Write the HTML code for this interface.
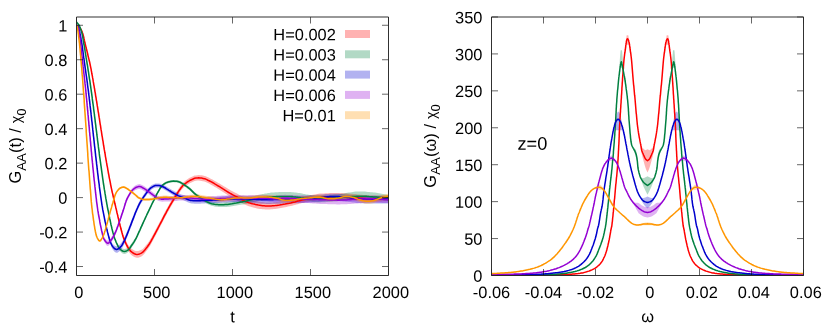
<!DOCTYPE html>
<html><head><meta charset="utf-8"><title>plot</title>
<style>html,body{margin:0;padding:0;background:#fff}svg{display:block}svg text{font-family:"Liberation Sans",sans-serif}</style></head>
<body>
<svg width="830" height="332" viewBox="0 0 830 332" font-size="16.4" fill="#000" style="will-change:transform">
<rect width="830" height="332" fill="#fff"/>
<defs><clipPath id="cl"><rect x="76.50" y="17.00" width="312.00" height="258.50"/></clipPath><clipPath id="cr"><rect x="491.50" y="17.00" width="312.00" height="258.50"/></clipPath></defs>
<g clip-path="url(#cl)">
<path d="M76.5 25.3L77.4 25.7L78.3 26.2L79.1 26.8L79.8 27.6L80.5 28.5L81.2 29.7L81.8 31.0L82.3 32.4L82.8 33.7L83.2 35.1L83.6 36.6L83.9 37.8L84.1 38.8L84.3 39.7L84.5 40.8L84.7 41.6L84.9 42.6L85.2 43.7L85.5 44.9L85.8 46.2L86.1 47.6L86.5 49.0L86.9 50.6L87.3 52.1L87.7 53.7L88.0 55.4L88.4 57.0L88.8 58.6L89.2 60.2L89.6 61.8L89.9 63.3L90.2 64.7L90.5 66.1L90.8 67.5L91.1 68.9L91.3 70.3L91.6 71.7L91.8 73.1L92.1 74.5L92.4 75.9L92.6 77.4L92.9 78.8L93.1 80.2L93.3 81.6L93.6 83.0L93.8 84.4L94.1 85.8L94.3 87.2L94.6 88.6L94.8 90.0L95.0 91.4L95.3 92.8L95.5 94.2L95.7 95.6L96.0 97.1L96.2 98.5L96.4 99.9L96.7 101.3L96.9 102.7L97.1 104.1L97.3 105.5L97.6 106.9L97.8 108.3L98.0 109.7L98.2 111.1L98.5 112.5L98.7 113.9L98.9 115.3L99.1 116.8L99.4 118.2L99.6 119.6L99.8 121.0L100.0 122.4L100.2 123.8L100.5 125.2L100.7 126.5L100.9 127.9L101.1 129.3L101.4 130.7L101.6 132.1L101.8 133.5L102.0 134.9L102.3 136.3L102.5 137.6L102.7 139.0L103.0 140.4L103.2 141.8L103.4 143.2L103.6 144.6L103.9 146.0L104.1 147.4L104.3 148.7L104.6 150.1L104.8 151.5L105.1 152.9L105.3 154.3L105.5 155.7L105.8 157.1L106.0 158.5L106.3 159.8L106.5 161.2L106.8 162.7L107.0 164.1L107.3 165.5L107.6 166.9L107.8 168.3L108.1 169.7L108.3 171.1L108.6 172.6L108.9 174.0L109.1 175.4L109.4 176.8L109.7 178.2L110.0 179.6L110.3 181.0L110.5 182.4L110.8 183.8L111.1 185.2L111.4 186.6L111.7 188.0L112.0 189.4L112.3 190.7L112.7 192.1L113.0 193.5L113.3 194.9L113.6 196.2L113.9 197.6L114.3 199.0L114.6 200.4L114.9 201.7L115.3 203.1L115.6 204.5L115.9 205.9L116.3 207.2L116.6 208.6L116.9 210.1L117.3 211.6L117.7 213.0L118.0 214.6L118.4 216.1L118.8 217.6L119.1 219.1L119.5 220.5L119.9 222.0L120.2 223.4L120.6 224.8L120.9 226.1L121.3 227.4L121.6 228.6L121.9 229.7L122.2 230.7L122.6 232.2L123.0 233.4L123.4 234.6L123.8 235.6L124.2 236.7L124.7 237.8L125.2 239.1L125.8 240.3L126.4 241.6L127.0 242.8L127.6 243.9L128.3 245.0L129.1 246.2L130.0 247.3L130.9 248.2L131.9 249.1L133.1 249.8L134.4 250.5L135.7 250.9L137.0 251.0L138.3 251.0L139.6 250.6L140.9 250.1L142.1 249.4L143.1 248.7L143.9 247.8L144.8 246.8L145.6 245.8L146.4 244.8L147.2 243.9L147.9 242.9L148.6 241.9L149.3 240.9L150.0 239.8L150.6 238.8L151.2 237.8L151.8 236.7L152.4 235.6L153.1 234.5L153.7 233.2L154.4 231.9L155.2 230.5L155.7 229.5L156.3 228.5L156.9 227.3L157.6 226.1L158.2 224.9L158.9 223.6L159.6 222.2L160.3 220.9L161.0 219.5L161.8 218.1L162.5 216.7L163.2 215.3L163.9 213.9L164.6 212.6L165.3 211.3L166.0 210.1L166.6 208.9L167.2 207.7L167.8 206.7L168.6 205.2L169.4 203.8L170.2 202.5L170.9 201.2L171.7 199.9L172.4 198.8L173.1 197.6L173.7 196.5L174.4 195.4L175.1 194.2L175.8 193.1L176.4 192.0L177.1 191.0L177.7 189.9L178.4 188.9L179.2 187.7L180.1 186.5L180.9 185.3L181.8 184.1L182.7 183.1L183.7 182.1L184.8 181.2L185.9 180.3L187.1 179.5L188.1 178.8L189.2 178.1L190.3 177.5L191.4 177.0L192.5 176.5L193.5 176.0L194.6 175.6L195.9 175.4L197.3 175.2L198.7 175.1L200.1 175.2L201.6 175.3L203.0 175.6L204.5 175.9L205.7 176.3L206.8 176.8L207.9 177.3L209.1 177.8L210.2 178.4L211.4 179.0L212.5 179.6L213.7 180.2L214.8 180.9L216.0 181.5L217.2 182.2L218.3 182.9L219.5 183.6L220.6 184.3L221.8 185.0L223.0 185.7L224.2 186.4L225.3 187.1L226.5 187.8L227.6 188.5L228.7 189.2L229.8 189.8L230.9 190.5L231.9 191.0L232.9 191.5L233.8 192.0L234.8 192.5L235.8 193.0L237.0 193.6L238.2 194.3L239.4 194.9L240.6 195.5L241.8 196.1L243.0 196.8L244.2 197.4L245.3 197.9L246.4 198.4L247.6 198.8L248.7 199.2L250.0 199.6L251.2 199.9L252.5 200.2L254.0 200.6L255.5 200.9L256.9 201.3L258.4 201.5L259.8 201.7L261.2 201.9L262.6 202.1L264.1 202.3L265.5 202.4L266.9 202.5L268.3 202.5L269.7 202.5L271.1 202.4L272.5 202.4L273.9 202.3L275.3 202.2L276.7 202.0L278.1 201.9L279.5 201.7L280.9 201.5L282.3 201.2L283.7 201.0L285.1 200.8L286.5 200.5L288.0 200.3L289.4 200.0L290.8 199.7L292.2 199.4L293.6 199.1L295.0 198.8L296.4 198.4L297.8 198.1L299.2 197.8L300.6 197.4L302.0 197.1L303.4 196.7L304.7 196.4L306.1 196.0L307.5 195.7L309.0 195.4L310.3 195.1L311.6 194.9L313.0 194.7L314.4 194.4L315.8 194.2L317.2 194.0L318.6 193.8L320.0 193.6L321.3 193.5L322.6 193.5L323.9 193.4L325.3 193.3L326.6 193.2L327.9 193.2L329.3 193.1L330.6 193.1L332.0 193.0L333.4 193.0L334.9 193.0L336.3 193.0L337.7 193.0L339.2 193.1L340.6 193.1L342.1 193.1L343.6 193.2L345.0 193.2L346.4 193.3L347.9 193.4L349.4 193.5L350.8 193.7L352.3 193.8L353.7 194.0L355.1 194.1L356.6 194.3L358.0 194.4L359.3 194.5L360.6 194.7L361.9 194.8L363.2 194.9L364.5 195.0L365.8 195.1L367.2 195.2L368.6 195.3L370.0 195.4L371.3 195.4L372.6 195.4L374.0 195.4L375.4 195.4L376.8 195.4L378.3 195.4L379.7 195.4L381.2 195.4L382.7 195.3L384.1 195.3L385.6 195.3L387.1 195.3L388.5 195.2L388.5 201.2L387.1 201.3L385.6 201.3L384.1 201.3L382.7 201.3L381.2 201.4L379.7 201.4L378.3 201.4L376.8 201.4L375.4 201.4L374.0 201.4L372.6 201.4L371.3 201.4L370.0 201.4L368.6 201.3L367.2 201.2L365.8 201.1L364.5 201.0L363.2 200.9L361.9 200.8L360.6 200.7L359.3 200.5L358.0 200.4L356.6 200.3L355.1 200.1L353.7 200.0L352.3 199.8L350.8 199.7L349.4 199.5L347.9 199.4L346.4 199.3L345.0 199.2L343.6 199.2L342.1 199.1L340.6 199.1L339.2 199.1L337.7 199.0L336.3 199.0L334.9 199.0L333.4 199.0L332.0 199.0L330.6 199.1L329.3 199.1L327.9 199.2L326.6 199.2L325.3 199.3L323.9 199.4L322.6 199.5L321.3 199.5L320.0 199.6L318.6 199.8L317.2 200.0L315.8 200.2L314.4 200.4L313.0 200.7L311.6 200.9L310.3 201.1L309.0 201.4L307.5 201.7L306.1 202.0L304.7 202.4L303.4 202.7L302.0 203.1L300.6 203.4L299.2 203.8L297.8 204.2L296.4 204.6L295.0 204.9L293.6 205.3L292.2 205.7L290.8 206.0L289.4 206.3L288.0 206.6L286.5 206.9L285.1 207.2L283.7 207.5L282.3 207.8L280.9 208.0L279.5 208.3L278.1 208.5L276.7 208.7L275.3 208.9L273.9 209.1L272.5 209.2L271.1 209.3L269.7 209.4L268.3 209.4L266.9 209.4L265.5 209.4L264.1 209.3L262.6 209.2L261.2 209.1L259.8 208.9L258.4 208.7L256.9 208.4L255.5 208.0L254.0 207.7L252.5 207.3L251.2 206.9L250.0 206.6L248.7 206.2L247.6 205.8L246.4 205.3L245.3 204.8L244.2 204.2L243.0 203.6L241.8 203.0L240.6 202.4L239.4 201.7L238.2 201.1L237.0 200.4L235.8 199.8L234.8 199.2L233.8 198.7L232.9 198.2L231.9 197.7L230.9 197.1L229.8 196.4L228.7 195.7L227.6 195.0L226.5 194.3L225.3 193.6L224.2 192.8L223.0 192.0L221.8 191.3L220.6 190.5L219.5 189.8L218.3 189.0L217.2 188.3L216.0 187.6L214.8 186.9L213.7 186.2L212.5 185.5L211.4 184.9L210.2 184.2L209.1 183.6L207.9 183.0L206.8 182.5L205.7 182.0L204.5 181.6L203.0 181.2L201.6 180.9L200.1 180.7L198.7 180.6L197.3 180.6L195.9 180.8L194.6 181.1L193.5 181.4L192.5 181.9L191.4 182.4L190.3 183.0L189.2 183.6L188.1 184.3L187.1 185.0L185.9 185.8L184.8 186.6L183.7 187.6L182.7 188.6L181.8 189.6L180.9 190.8L180.1 192.0L179.2 193.2L178.4 194.4L177.7 195.4L177.1 196.5L176.4 197.5L175.8 198.6L175.1 199.7L174.4 200.9L173.7 202.0L173.1 203.1L172.4 204.3L171.7 205.5L170.9 206.7L170.2 208.0L169.4 209.4L168.6 210.8L167.8 212.2L167.2 213.3L166.6 214.4L166.0 215.6L165.3 216.9L164.6 218.2L163.9 219.5L163.2 220.9L162.5 222.3L161.8 223.7L161.0 225.1L160.3 226.5L159.6 227.8L158.9 229.2L158.2 230.5L157.6 231.8L156.9 233.1L156.3 234.2L155.7 235.3L155.2 236.4L154.4 237.8L153.7 239.1L153.1 240.4L152.4 241.6L151.8 242.8L151.2 243.8L150.6 244.9L150.0 245.9L149.3 247.1L148.6 248.1L147.9 249.1L147.2 250.1L146.4 251.1L145.6 252.1L144.8 253.2L143.9 254.2L143.1 255.1L142.1 255.9L140.9 256.7L139.6 257.3L138.3 257.7L137.0 257.8L135.7 257.6L134.4 257.0L133.1 256.3L131.9 255.4L130.9 254.5L130.0 253.4L129.1 252.2L128.3 250.9L127.6 249.8L127.0 248.6L126.4 247.4L125.8 246.1L125.2 244.7L124.7 243.5L124.2 242.3L123.8 241.2L123.4 240.1L123.0 238.9L122.6 237.6L122.2 236.2L121.9 235.1L121.6 234.0L121.3 232.7L120.9 231.4L120.6 230.1L120.2 228.6L119.9 227.2L119.5 225.6L119.1 224.1L118.8 222.5L118.4 220.9L118.0 219.3L117.7 217.8L117.3 216.2L116.9 214.6L116.6 213.1L116.3 211.7L115.9 210.2L115.6 208.8L115.3 207.3L114.9 205.9L114.6 204.4L114.3 203.0L113.9 201.6L113.6 200.1L113.3 198.7L113.0 197.2L112.7 195.8L112.3 194.3L112.0 192.9L111.7 191.4L111.4 190.0L111.1 188.5L110.8 187.1L110.5 185.6L110.3 184.2L110.0 182.7L109.7 181.2L109.4 179.8L109.1 178.3L108.9 176.8L108.6 175.4L108.3 173.9L108.1 172.4L107.8 170.9L107.6 169.5L107.3 168.0L107.0 166.5L106.8 165.1L106.5 163.6L106.3 162.2L106.0 160.7L105.8 159.3L105.5 157.8L105.3 156.4L105.1 155.0L104.8 153.5L104.6 152.1L104.3 150.7L104.1 149.2L103.9 147.8L103.6 146.3L103.4 144.9L103.2 143.5L103.0 142.0L102.7 140.6L102.5 139.2L102.3 137.7L102.0 136.3L101.8 134.9L101.6 133.4L101.4 132.0L101.1 130.6L100.9 129.1L100.7 127.7L100.5 126.3L100.2 124.8L100.0 123.4L99.8 122.0L99.6 120.5L99.4 119.1L99.1 117.7L98.9 116.3L98.7 114.9L98.5 113.5L98.2 112.1L98.0 110.6L97.8 109.2L97.6 107.8L97.3 106.4L97.1 105.0L96.9 103.5L96.7 102.1L96.4 100.7L96.2 99.3L96.0 97.9L95.7 96.5L95.5 95.0L95.3 93.6L95.0 92.2L94.8 90.8L94.6 89.4L94.3 88.0L94.1 86.5L93.8 85.1L93.6 83.7L93.3 82.3L93.1 80.9L92.9 79.5L92.6 78.0L92.4 76.6L92.1 75.2L91.8 73.8L91.6 72.4L91.3 71.0L91.1 69.5L90.8 68.1L90.5 66.7L90.2 65.3L89.9 63.8L89.6 62.3L89.2 60.7L88.8 59.1L88.4 57.5L88.0 55.8L87.7 54.2L87.3 52.6L86.9 51.0L86.5 49.5L86.1 48.0L85.8 46.6L85.5 45.3L85.2 44.0L84.9 43.0L84.7 42.0L84.5 41.2L84.3 40.0L84.1 39.1L83.9 38.2L83.6 36.9L83.2 35.4L82.8 34.0L82.3 32.6L81.8 31.2L81.2 29.9L80.5 28.7L79.8 27.7L79.1 26.9L78.3 26.2L77.4 25.7L76.5 25.3Z" fill="#ff0000" fill-opacity="0.3"/>
<path d="M76.5 22.0L77.3 22.9L78.1 23.8L78.9 24.9L79.5 26.0L80.0 27.3L80.5 28.6L81.0 29.9L81.4 31.1L81.8 32.4L82.1 33.6L82.4 34.9L82.7 36.3L82.9 37.6L83.1 39.0L83.4 40.8L83.6 41.8L83.7 42.9L83.9 44.0L84.2 45.3L84.4 46.6L84.6 48.0L84.9 49.5L85.1 51.0L85.4 52.5L85.6 54.0L85.9 55.6L86.1 57.2L86.4 58.7L86.6 60.3L86.9 61.8L87.1 63.2L87.4 64.7L87.6 66.1L87.8 67.5L88.0 68.9L88.2 70.3L88.5 71.7L88.7 73.1L88.9 74.5L89.1 75.9L89.3 77.3L89.5 78.7L89.8 80.1L90.0 81.5L90.2 82.9L90.4 84.3L90.6 85.8L90.8 87.2L91.0 88.6L91.2 90.0L91.4 91.4L91.6 92.8L91.8 94.2L92.0 95.6L92.2 97.0L92.3 98.4L92.5 99.8L92.7 101.2L92.9 102.6L93.1 104.0L93.3 105.4L93.5 106.8L93.6 108.3L93.8 109.7L94.0 111.1L94.2 112.5L94.4 113.9L94.5 115.3L94.7 116.7L94.9 118.1L95.1 119.5L95.2 120.9L95.4 122.3L95.6 123.7L95.8 125.1L95.9 126.5L96.1 127.9L96.3 129.4L96.5 130.8L96.7 132.2L96.8 133.6L97.0 135.0L97.2 136.4L97.4 137.8L97.5 139.2L97.7 140.6L97.9 142.0L98.1 143.4L98.3 144.8L98.4 146.2L98.6 147.6L98.8 149.0L99.0 150.4L99.2 151.8L99.3 153.2L99.5 154.7L99.7 156.1L99.9 157.5L100.1 158.9L100.3 160.3L100.5 161.7L100.7 163.1L100.9 164.6L101.1 166.0L101.3 167.4L101.5 168.9L101.7 170.3L101.9 171.8L102.1 173.2L102.3 174.6L102.5 176.1L102.7 177.5L102.9 178.9L103.1 180.4L103.3 181.8L103.5 183.2L103.8 184.6L104.0 186.0L104.2 187.5L104.4 188.9L104.7 190.3L104.9 191.7L105.1 193.1L105.4 194.5L105.6 195.9L105.8 197.3L106.1 198.7L106.3 200.1L106.6 201.5L106.8 202.9L107.1 204.3L107.3 205.7L107.6 207.1L107.9 208.5L108.2 209.9L108.5 211.4L108.8 212.9L109.1 214.5L109.4 216.0L109.7 217.6L110.1 219.1L110.4 220.6L110.7 222.1L111.0 223.5L111.4 225.0L111.7 226.3L112.0 227.6L112.3 228.9L112.6 230.0L112.9 231.1L113.2 232.1L113.6 233.6L114.0 234.9L114.4 236.1L114.8 237.2L115.3 238.3L115.8 239.6L116.4 240.9L117.0 242.2L117.6 243.4L118.2 244.5L118.9 245.5L119.6 246.4L120.3 247.1L121.1 247.8L122.1 248.4L123.2 248.8L124.3 249.0L125.7 248.8L127.0 248.2L128.3 247.4L129.3 246.5L130.2 245.3L131.0 244.1L131.9 242.9L132.7 241.8L133.4 240.7L134.2 239.6L134.9 238.4L135.6 237.3L136.2 236.1L136.7 235.0L137.3 233.9L137.8 232.8L138.3 231.6L138.8 230.6L139.3 229.5L139.8 228.5L140.3 227.4L140.8 226.2L141.3 225.1L141.9 224.0L142.4 222.8L143.0 221.5L143.6 220.2L144.2 218.9L144.8 217.7L145.4 216.4L145.9 215.3L146.5 214.0L147.0 212.9L147.6 211.7L148.1 210.6L148.7 209.4L149.3 208.1L149.9 207.0L150.5 205.7L151.1 204.4L151.7 203.1L152.4 201.8L153.0 200.5L153.7 199.2L154.3 198.0L154.8 196.9L155.4 195.6L156.0 194.5L156.5 193.3L157.1 192.2L157.7 191.1L158.4 189.9L159.1 188.7L159.8 187.5L160.5 186.4L161.3 185.4L162.1 184.4L163.0 183.6L163.9 182.9L164.9 182.2L165.9 181.6L167.0 181.2L168.2 180.8L169.3 180.5L170.7 180.1L172.1 180.0L173.6 179.9L175.0 179.9L176.5 180.0L178.0 180.3L179.4 180.7L180.5 181.1L181.7 181.7L182.8 182.4L183.9 183.1L185.0 183.8L186.1 184.6L187.3 185.4L188.4 186.3L189.5 187.1L190.6 188.0L191.6 189.0L192.6 190.0L193.6 191.0L194.7 191.9L195.6 192.7L196.6 193.4L197.6 194.1L198.6 194.7L199.6 195.4L200.8 196.2L202.0 197.0L203.3 197.7L204.5 198.4L205.6 199.1L206.7 199.7L207.9 200.2L209.0 200.8L210.2 201.2L211.6 201.6L213.1 201.9L214.5 202.1L216.0 202.3L217.3 202.4L218.6 202.5L219.9 202.5L221.2 202.5L222.5 202.4L223.8 202.3L225.1 202.2L226.4 202.1L227.7 202.0L229.0 201.8L230.5 201.5L231.9 201.3L233.4 201.0L234.8 200.7L236.3 200.4L237.7 200.1L239.1 199.8L240.6 199.5L242.1 199.2L243.6 198.9L245.1 198.6L246.4 198.3L247.6 197.9L248.8 197.5L250.0 197.1L251.1 196.8L252.3 196.5L253.5 196.3L254.7 196.0L256.0 195.6L257.2 195.3L258.4 195.0L259.7 194.7L260.9 194.4L262.3 194.1L263.6 193.9L265.0 193.6L266.5 193.4L268.0 193.1L269.5 192.9L271.0 192.6L272.5 192.5L274.0 192.4L275.3 192.3L276.6 192.2L277.9 192.2L279.2 192.1L280.4 192.1L281.7 192.1L283.0 192.0L284.3 192.0L285.6 192.0L286.9 192.0L288.1 192.0L289.4 192.1L290.7 192.1L292.0 192.2L293.3 192.3L294.6 192.4L295.9 192.6L297.1 192.8L298.4 192.9L299.7 193.1L301.0 193.3L302.3 193.6L303.6 193.9L304.8 194.1L306.1 194.4L307.4 194.6L308.7 194.8L310.0 195.1L311.4 195.3L312.8 195.5L314.1 195.6L315.5 195.7L317.0 195.8L318.5 195.8L320.0 195.7L321.3 195.7L322.5 195.6L323.9 195.6L325.2 195.5L326.6 195.4L328.0 195.2L329.4 195.1L330.8 195.0L332.2 194.9L333.6 194.8L335.0 194.6L336.4 194.5L337.8 194.4L339.1 194.3L340.5 194.1L341.9 193.8L343.3 193.6L344.7 193.3L346.0 193.1L347.4 192.8L348.7 192.6L350.0 192.4L351.4 192.2L352.7 192.0L354.1 191.8L355.4 191.6L356.7 191.6L358.0 191.5L359.3 191.5L360.7 191.5L362.0 191.5L363.4 191.6L364.8 191.6L366.3 191.7L367.7 191.9L369.2 192.0L370.6 192.2L372.1 192.3L373.5 192.4L375.0 192.6L376.3 192.8L377.7 193.0L379.0 193.3L380.4 193.5L381.7 193.8L383.1 194.0L384.4 194.2L385.8 194.5L387.1 194.7L388.5 194.9L388.5 200.9L387.1 200.7L385.8 200.5L384.4 200.3L383.1 200.1L381.7 199.9L380.4 199.7L379.0 199.5L377.7 199.3L376.3 199.1L375.0 198.9L373.5 198.8L372.1 198.7L370.6 198.6L369.2 198.5L367.7 198.4L366.3 198.3L364.8 198.3L363.4 198.2L362.0 198.2L360.7 198.2L359.3 198.3L358.0 198.3L356.7 198.4L355.4 198.5L354.1 198.7L352.7 198.9L351.4 199.1L350.0 199.4L348.7 199.6L347.4 199.8L346.0 200.0L344.7 200.2L343.3 200.5L341.9 200.7L340.5 201.0L339.1 201.1L337.8 201.2L336.4 201.4L335.0 201.5L333.6 201.6L332.2 201.7L330.8 201.8L329.4 201.9L328.0 202.0L326.6 202.1L325.2 202.2L323.9 202.2L322.5 202.3L321.3 202.3L320.0 202.4L318.5 202.4L317.0 202.4L315.5 202.3L314.1 202.2L312.8 202.0L311.4 201.8L310.0 201.6L308.7 201.3L307.4 201.1L306.1 200.8L304.8 200.6L303.6 200.3L302.3 200.0L301.0 199.7L299.7 199.5L298.4 199.3L297.1 199.1L295.9 198.9L294.6 198.8L293.3 198.6L292.0 198.5L290.7 198.4L289.4 198.4L288.1 198.3L286.9 198.3L285.6 198.3L284.3 198.3L283.0 198.3L281.7 198.3L280.4 198.3L279.2 198.3L277.9 198.4L276.6 198.4L275.3 198.5L274.0 198.5L272.5 198.6L271.0 198.8L269.5 199.0L268.0 199.2L266.5 199.4L265.0 199.7L263.6 199.9L262.3 200.2L260.9 200.4L259.7 200.7L258.4 201.0L257.2 201.2L256.0 201.5L254.7 201.8L253.5 202.0L252.3 202.3L251.1 202.5L250.0 202.8L248.8 203.1L247.6 203.5L246.4 203.9L245.1 204.1L243.6 204.4L242.1 204.6L240.6 204.8L239.1 205.1L237.7 205.3L236.3 205.6L234.8 205.8L233.4 206.1L231.9 206.3L230.5 206.5L229.0 206.7L227.7 206.8L226.4 207.0L225.1 207.0L223.8 207.1L222.5 207.1L221.2 207.1L219.9 207.0L218.6 207.0L217.3 206.8L216.0 206.7L214.5 206.4L213.1 206.1L211.6 205.8L210.2 205.3L209.0 204.8L207.9 204.2L206.7 203.6L205.6 202.9L204.5 202.3L203.3 201.5L202.0 200.7L200.8 199.8L199.6 199.0L198.6 198.3L197.6 197.6L196.6 196.8L195.6 196.1L194.7 195.3L193.6 194.3L192.6 193.3L191.6 192.2L190.6 191.2L189.5 190.3L188.4 189.3L187.3 188.4L186.1 187.6L185.0 186.7L183.9 186.0L182.8 185.2L181.7 184.5L180.5 183.9L179.4 183.3L178.0 182.9L176.5 182.6L175.0 182.4L173.6 182.3L172.1 182.4L170.7 182.6L169.3 182.9L168.2 183.3L167.0 183.7L165.9 184.2L164.9 184.8L163.9 185.5L163.0 186.2L162.1 187.1L161.3 188.0L160.5 189.1L159.8 190.2L159.1 191.4L158.4 192.7L157.7 193.9L157.1 195.0L156.5 196.1L156.0 197.2L155.4 198.4L154.8 199.7L154.3 200.8L153.7 202.0L153.0 203.3L152.4 204.6L151.7 206.0L151.1 207.3L150.5 208.6L149.9 209.9L149.3 211.1L148.7 212.3L148.1 213.5L147.6 214.7L147.0 215.8L146.5 217.0L145.9 218.3L145.4 219.4L144.8 220.7L144.2 222.0L143.6 223.3L143.0 224.7L142.4 226.0L141.9 227.3L141.3 228.5L140.8 229.6L140.3 230.9L139.8 232.0L139.3 233.1L138.8 234.2L138.3 235.3L137.8 236.5L137.3 237.7L136.7 238.9L136.2 240.1L135.6 241.2L134.9 242.5L134.2 243.7L133.4 244.9L132.7 246.1L131.9 247.2L131.0 248.6L130.2 249.9L129.3 251.1L128.3 252.1L127.0 253.1L125.7 253.8L124.3 254.1L123.2 253.8L122.1 253.2L121.1 252.3L120.3 251.5L119.6 250.6L118.9 249.5L118.2 248.4L117.6 247.2L117.0 245.8L116.4 244.4L115.8 243.0L115.3 241.6L114.8 240.3L114.4 239.1L114.0 237.8L113.6 236.4L113.2 234.8L112.9 233.8L112.6 232.6L112.3 231.4L112.0 230.1L111.7 228.7L111.4 227.3L111.0 225.8L110.7 224.3L110.4 222.7L110.1 221.1L109.7 219.5L109.4 218.0L109.1 216.4L108.8 214.9L108.5 213.3L108.2 211.8L107.9 210.4L107.6 209.0L107.3 207.6L107.1 206.1L106.8 204.7L106.6 203.3L106.3 201.9L106.1 200.5L105.8 199.1L105.6 197.6L105.4 196.2L105.1 194.8L104.9 193.4L104.7 192.0L104.4 190.5L104.2 189.1L104.0 187.7L103.8 186.3L103.5 184.8L103.3 183.4L103.1 181.9L102.9 180.5L102.7 179.1L102.5 177.6L102.3 176.2L102.1 174.7L101.9 173.3L101.7 171.8L101.5 170.4L101.3 168.9L101.1 167.5L100.9 166.0L100.7 164.6L100.5 163.1L100.3 161.7L100.1 160.3L99.9 158.9L99.7 157.4L99.5 156.0L99.3 154.6L99.2 153.2L99.0 151.8L98.8 150.4L98.6 148.9L98.4 147.5L98.3 146.1L98.1 144.7L97.9 143.3L97.7 141.9L97.5 140.5L97.4 139.0L97.2 137.6L97.0 136.2L96.8 134.8L96.7 133.4L96.5 131.9L96.3 130.5L96.1 129.1L95.9 127.7L95.8 126.3L95.6 124.9L95.4 123.4L95.2 122.0L95.1 120.6L94.9 119.2L94.7 117.8L94.5 116.4L94.4 114.9L94.2 113.5L94.0 112.1L93.8 110.7L93.6 109.3L93.5 107.9L93.3 106.4L93.1 105.0L92.9 103.6L92.7 102.2L92.5 100.8L92.3 99.4L92.2 97.9L92.0 96.5L91.8 95.1L91.6 93.7L91.4 92.3L91.2 90.8L91.0 89.4L90.8 88.0L90.6 86.6L90.4 85.2L90.2 83.8L90.0 82.3L89.8 80.9L89.5 79.5L89.3 78.1L89.1 76.7L88.9 75.2L88.7 73.8L88.5 72.4L88.2 71.0L88.0 69.6L87.8 68.2L87.6 66.7L87.4 65.3L87.1 63.9L86.9 62.4L86.6 60.9L86.4 59.3L86.1 57.7L85.9 56.2L85.6 54.6L85.4 53.0L85.1 51.5L84.9 50.0L84.6 48.5L84.4 47.1L84.2 45.8L83.9 44.5L83.7 43.3L83.6 42.2L83.4 41.2L83.1 39.4L82.9 38.0L82.7 36.6L82.4 35.3L82.1 34.0L81.8 32.7L81.4 31.4L81.0 30.1L80.5 28.8L80.0 27.5L79.5 26.2L78.9 25.0L78.1 23.9L77.3 23.0L76.5 22.0Z" fill="#008040" fill-opacity="0.3"/>
<path d="M76.5 25.3L77.3 25.9L78.0 26.7L78.4 27.6L78.8 28.7L79.2 29.9L79.5 31.1L79.8 32.2L80.0 33.3L80.3 34.5L80.5 35.6L80.7 36.8L80.9 38.0L81.1 39.2L81.4 40.8L81.5 41.7L81.7 42.8L81.9 44.0L82.1 45.2L82.3 46.5L82.5 47.9L82.7 49.4L82.9 50.9L83.1 52.4L83.3 54.0L83.5 55.5L83.7 57.1L84.0 58.7L84.2 60.2L84.4 61.7L84.6 63.2L84.8 64.6L85.0 66.0L85.2 67.5L85.4 68.9L85.6 70.3L85.8 71.7L86.0 73.1L86.2 74.5L86.4 75.9L86.6 77.3L86.8 78.7L87.0 80.1L87.2 81.5L87.4 82.9L87.5 84.3L87.7 85.7L87.9 87.1L88.1 88.5L88.3 89.9L88.5 91.3L88.6 92.7L88.8 94.1L89.0 95.5L89.2 96.9L89.3 98.3L89.5 99.7L89.7 101.1L89.8 102.5L90.0 104.0L90.1 105.4L90.3 106.8L90.5 108.2L90.6 109.6L90.8 111.0L91.0 112.4L91.1 113.8L91.3 115.2L91.4 116.6L91.6 118.0L91.7 119.4L91.9 120.8L92.1 122.2L92.2 123.6L92.4 125.0L92.5 126.4L92.7 127.8L92.8 129.2L93.0 130.7L93.1 132.1L93.3 133.5L93.4 134.9L93.6 136.3L93.8 137.7L93.9 139.1L94.1 140.5L94.2 141.9L94.4 143.3L94.5 144.7L94.7 146.1L94.9 147.5L95.0 148.9L95.2 150.3L95.3 151.7L95.5 153.1L95.6 154.5L95.8 155.9L96.0 157.3L96.1 158.7L96.3 160.2L96.5 161.6L96.6 163.0L96.8 164.4L97.0 165.9L97.1 167.3L97.3 168.7L97.5 170.2L97.6 171.6L97.8 173.0L98.0 174.5L98.2 175.9L98.3 177.3L98.5 178.8L98.7 180.2L98.9 181.6L99.1 183.1L99.3 184.5L99.4 185.9L99.6 187.3L99.8 188.7L100.0 190.1L100.2 191.5L100.4 192.9L100.6 194.3L100.8 195.7L101.0 197.0L101.2 198.4L101.4 199.8L101.6 201.2L101.8 202.6L102.0 203.9L102.3 205.3L102.5 206.7L102.7 208.1L103.0 209.5L103.3 210.9L103.6 212.4L103.9 213.8L104.2 215.3L104.5 216.8L104.8 218.3L105.1 219.8L105.5 221.2L105.8 222.7L106.1 224.1L106.4 225.4L106.7 226.7L107.1 228.0L107.3 229.2L107.6 230.3L107.9 231.3L108.3 232.9L108.7 234.3L109.0 235.5L109.4 236.7L109.8 237.9L110.2 239.0L110.7 240.2L111.3 241.4L111.8 242.5L112.4 243.5L113.1 244.3L114.1 245.2L115.2 246.0L116.4 246.2L117.4 245.9L118.4 245.4L119.5 244.7L120.4 243.9L121.2 243.0L122.0 241.9L122.7 240.8L123.3 239.6L124.0 238.3L124.6 237.2L125.1 236.0L125.7 234.8L126.2 233.5L126.8 232.0L127.5 230.5L127.9 229.4L128.3 228.3L128.8 227.1L129.3 225.8L129.8 224.4L130.4 223.0L131.0 221.6L131.5 220.1L132.1 218.6L132.7 217.1L133.3 215.6L133.8 214.2L134.4 212.8L134.9 211.4L135.4 210.1L135.9 208.9L136.4 207.8L136.8 206.8L137.5 205.4L138.1 204.0L138.7 202.8L139.3 201.7L139.8 200.6L140.4 199.6L141.0 198.6L141.6 197.7L142.2 196.8L142.8 195.8L143.5 194.7L144.3 193.6L145.2 192.4L146.0 191.3L146.8 190.2L147.7 189.0L148.6 187.9L149.5 186.9L150.5 186.0L151.7 185.1L152.9 184.4L154.1 183.9L155.3 183.6L156.4 183.4L157.7 183.4L158.9 183.5L160.2 183.8L161.5 184.1L162.8 184.6L164.0 185.2L165.3 185.8L166.5 186.6L167.8 187.4L168.9 188.0L170.1 188.8L171.3 189.5L172.4 190.2L173.6 190.8L174.7 191.4L175.9 192.0L177.1 192.6L178.2 193.1L179.4 193.6L180.8 194.2L182.2 194.7L183.6 195.1L185.0 195.6L186.3 196.2L187.7 196.8L189.1 197.3L190.6 197.7L191.9 197.9L193.3 197.9L194.7 197.9L196.1 197.9L197.5 197.9L198.9 197.8L200.2 197.7L201.6 197.5L203.0 197.4L204.5 197.3L205.9 197.3L207.4 197.2L208.9 197.2L210.4 197.1L211.9 197.1L213.5 197.0L215.0 197.0L216.3 196.9L217.7 196.8L219.0 196.7L220.3 196.5L221.6 196.4L223.0 196.3L224.5 196.2L226.0 196.1L227.3 196.0L228.6 196.0L230.0 195.9L231.4 195.9L232.9 195.8L234.4 195.8L235.9 195.8L237.4 195.7L238.9 195.7L240.5 195.7L242.0 195.8L243.5 195.8L245.0 195.9L246.4 195.9L247.8 196.0L249.3 196.1L250.7 196.2L252.1 196.3L253.5 196.5L255.0 196.6L256.4 196.7L257.8 196.8L259.3 196.9L260.7 197.0L262.1 197.0L263.6 197.1L265.0 197.1L266.4 197.1L267.9 197.0L269.3 197.0L270.7 197.0L272.1 197.0L273.6 196.9L275.0 196.9L276.4 196.8L277.9 196.8L279.3 196.7L280.7 196.7L282.1 196.6L283.6 196.6L285.0 196.5L286.4 196.5L287.9 196.4L289.3 196.4L290.8 196.3L292.3 196.3L293.7 196.2L295.2 196.1L296.6 196.1L298.1 196.0L299.5 195.9L300.9 195.9L302.3 195.8L303.7 195.7L305.0 195.7L306.4 195.6L307.9 195.5L309.3 195.4L310.7 195.3L312.0 195.2L313.4 195.1L314.7 195.0L316.0 194.9L317.4 194.8L318.7 194.7L320.0 194.7L321.5 194.5L323.0 194.4L324.4 194.3L325.8 194.1L327.3 194.0L328.7 193.9L330.1 193.8L331.6 193.7L333.0 193.7L334.4 193.7L335.9 193.7L337.4 193.8L338.8 193.8L340.3 194.0L341.7 194.1L343.1 194.2L344.6 194.3L346.0 194.5L347.4 194.6L348.7 194.7L350.0 194.9L351.4 195.1L352.7 195.3L354.0 195.4L355.3 195.6L356.7 195.7L358.0 195.8L359.3 195.9L360.6 196.0L361.9 196.1L363.2 196.1L364.5 196.2L365.8 196.2L367.2 196.2L368.6 196.2L370.0 196.2L371.3 196.3L372.6 196.3L374.0 196.3L375.4 196.3L376.8 196.3L378.3 196.3L379.7 196.3L381.2 196.3L382.7 196.3L384.1 196.3L385.6 196.3L387.1 196.3L388.5 196.2L388.5 203.4L387.1 203.5L385.6 203.5L384.1 203.5L382.7 203.5L381.2 203.5L379.7 203.5L378.3 203.5L376.8 203.5L375.4 203.5L374.0 203.5L372.6 203.5L371.3 203.5L370.0 203.4L368.6 203.4L367.2 203.4L365.8 203.4L364.5 203.4L363.2 203.3L361.9 203.3L360.6 203.2L359.3 203.1L358.0 203.0L356.7 202.9L355.3 202.8L354.0 202.6L352.7 202.5L351.4 202.3L350.0 202.1L348.7 201.9L347.4 201.8L346.0 201.7L344.6 201.5L343.1 201.4L341.7 201.3L340.3 201.2L338.8 201.0L337.4 201.0L335.9 200.9L334.4 200.9L333.0 200.8L331.6 200.9L330.1 201.0L328.7 201.1L327.3 201.2L325.8 201.3L324.4 201.5L323.0 201.6L321.5 201.7L320.0 201.8L318.7 201.9L317.4 202.0L316.0 202.1L314.7 202.2L313.4 202.3L312.0 202.4L310.7 202.5L309.3 202.6L307.9 202.7L306.4 202.8L305.0 202.8L303.7 202.9L302.3 203.0L300.9 203.1L299.5 203.1L298.1 203.2L296.6 203.2L295.2 203.3L293.7 203.3L292.3 203.4L290.8 203.4L289.3 203.4L287.9 203.5L286.4 203.5L285.0 203.6L283.6 203.6L282.1 203.6L280.7 203.7L279.3 203.7L277.9 203.7L276.4 203.8L275.0 203.8L273.6 203.8L272.1 203.8L270.7 203.9L269.3 203.9L267.9 203.9L266.4 203.9L265.0 203.8L263.6 203.8L262.1 203.8L260.7 203.7L259.3 203.6L257.8 203.5L256.4 203.4L255.0 203.2L253.5 203.1L252.1 203.0L250.7 202.8L249.3 202.7L247.8 202.6L246.4 202.5L245.0 202.4L243.5 202.3L242.0 202.3L240.5 202.2L238.9 202.2L237.4 202.2L235.9 202.2L234.4 202.2L232.9 202.2L231.4 202.3L230.0 202.3L228.6 202.3L227.3 202.4L226.0 202.4L224.5 202.5L223.0 202.6L221.6 202.7L220.3 202.8L219.0 202.9L217.7 203.0L216.3 203.1L215.0 203.1L213.5 203.2L211.9 203.2L210.4 203.3L208.9 203.3L207.4 203.3L205.9 203.3L204.5 203.4L203.0 203.5L201.6 203.6L200.2 203.7L198.9 203.7L197.5 203.7L196.1 203.7L194.7 203.7L193.3 203.6L191.9 203.4L190.6 203.2L189.1 202.7L187.7 202.2L186.3 201.5L185.0 200.9L183.6 200.3L182.2 199.8L180.8 199.2L179.4 198.6L178.2 198.0L177.1 197.5L175.9 196.8L174.7 196.2L173.6 195.6L172.4 194.8L171.3 194.1L170.1 193.3L168.9 192.6L167.8 191.8L166.5 191.0L165.3 190.2L164.0 189.5L162.8 188.8L161.5 188.3L160.2 187.9L158.9 187.6L157.7 187.4L156.4 187.5L155.3 187.7L154.1 188.1L152.9 188.7L151.7 189.5L150.5 190.4L149.5 191.3L148.6 192.4L147.7 193.6L146.8 194.8L146.0 195.9L145.2 197.1L144.3 198.3L143.5 199.5L142.8 200.7L142.2 201.7L141.6 202.6L141.0 203.5L140.4 204.6L139.8 205.6L139.3 206.7L138.7 207.9L138.1 209.2L137.5 210.5L136.8 212.1L136.4 213.1L135.9 214.2L135.4 215.5L134.9 216.8L134.4 218.2L133.8 219.6L133.3 221.1L132.7 222.7L132.1 224.2L131.5 225.7L131.0 227.3L130.4 228.8L129.8 230.2L129.3 231.6L128.8 233.0L128.3 234.2L127.9 235.4L127.5 236.4L126.8 238.1L126.2 239.5L125.7 240.9L125.1 242.1L124.6 243.4L124.0 244.6L123.3 245.9L122.7 247.1L122.0 248.4L121.2 249.5L120.4 250.4L119.5 251.3L118.4 252.1L117.4 252.7L116.4 252.8L115.2 252.3L114.1 251.2L113.1 250.0L112.4 249.0L111.8 247.8L111.3 246.6L110.7 245.2L110.2 243.9L109.8 242.6L109.4 241.4L109.0 240.1L108.7 238.7L108.3 237.2L107.9 235.6L107.6 234.5L107.3 233.3L107.1 232.0L106.7 230.7L106.4 229.3L106.1 227.8L105.8 226.3L105.5 224.8L105.1 223.2L104.8 221.7L104.5 220.1L104.2 218.5L103.9 216.9L103.6 215.4L103.3 213.8L103.0 212.3L102.7 210.8L102.5 209.4L102.3 208.0L102.0 206.5L101.8 205.1L101.6 203.6L101.4 202.2L101.2 200.8L101.0 199.3L100.8 197.9L100.6 196.4L100.4 195.0L100.2 193.6L100.0 192.1L99.8 190.7L99.6 189.3L99.4 187.8L99.3 186.4L99.1 185.0L98.9 183.5L98.7 182.1L98.5 180.6L98.3 179.2L98.2 177.8L98.0 176.3L97.8 174.9L97.6 173.4L97.5 172.0L97.3 170.5L97.1 169.1L97.0 167.6L96.8 166.2L96.6 164.7L96.5 163.3L96.3 161.8L96.1 160.4L96.0 159.0L95.8 157.6L95.6 156.2L95.5 154.7L95.3 153.3L95.2 151.9L95.0 150.5L94.9 149.1L94.7 147.6L94.5 146.2L94.4 144.8L94.2 143.4L94.1 142.0L93.9 140.6L93.8 139.1L93.6 137.7L93.4 136.3L93.3 134.9L93.1 133.5L93.0 132.1L92.8 130.6L92.7 129.2L92.5 127.8L92.4 126.4L92.2 125.0L92.1 123.5L91.9 122.1L91.7 120.7L91.6 119.3L91.4 117.9L91.3 116.5L91.1 115.0L91.0 113.6L90.8 112.2L90.6 110.8L90.5 109.4L90.3 107.9L90.1 106.5L90.0 105.1L89.8 103.7L89.7 102.3L89.5 100.8L89.3 99.4L89.2 98.0L89.0 96.6L88.8 95.2L88.6 93.7L88.5 92.3L88.3 90.9L88.1 89.5L87.9 88.1L87.7 86.7L87.5 85.2L87.4 83.8L87.2 82.4L87.0 81.0L86.8 79.6L86.6 78.1L86.4 76.7L86.2 75.3L86.0 73.9L85.8 72.5L85.6 71.0L85.4 69.6L85.2 68.2L85.0 66.8L84.8 65.4L84.6 63.9L84.4 62.4L84.2 60.9L84.0 59.3L83.7 57.7L83.5 56.1L83.3 54.5L83.1 53.0L82.9 51.4L82.7 49.9L82.5 48.4L82.3 47.0L82.1 45.7L81.9 44.4L81.7 43.2L81.5 42.2L81.4 41.2L81.1 39.6L80.9 38.3L80.7 37.2L80.5 36.0L80.3 34.8L80.0 33.6L79.8 32.5L79.5 31.3L79.2 30.1L78.8 28.9L78.4 27.8L78.0 26.9L77.3 26.0L76.5 25.3Z" fill="#0000cd" fill-opacity="0.3"/>
<path d="M76.5 25.3L77.0 25.8L77.5 26.4L77.9 27.2L78.2 28.3L78.5 29.4L78.8 30.6L79.0 31.9L79.3 33.3L79.5 34.7L79.7 35.8L79.8 36.9L80.0 38.1L80.2 39.3L80.3 40.8L80.5 41.8L80.6 42.9L80.7 44.1L80.9 45.4L81.0 46.7L81.2 48.1L81.3 49.6L81.5 51.0L81.7 52.6L81.8 54.1L82.0 55.7L82.2 57.2L82.3 58.8L82.5 60.3L82.7 61.8L82.8 63.3L83.0 64.7L83.1 66.1L83.3 67.5L83.4 68.9L83.6 70.3L83.8 71.7L83.9 73.1L84.1 74.6L84.2 76.0L84.4 77.4L84.5 78.8L84.7 80.2L84.9 81.6L85.0 83.0L85.2 84.4L85.3 85.8L85.5 87.2L85.6 88.6L85.8 90.0L85.9 91.4L86.0 92.8L86.2 94.2L86.3 95.6L86.4 97.0L86.6 98.4L86.7 99.9L86.8 101.3L87.0 102.7L87.1 104.1L87.2 105.5L87.4 106.9L87.5 108.3L87.6 109.7L87.8 111.1L87.9 112.5L88.0 113.9L88.2 115.3L88.3 116.7L88.4 118.1L88.5 119.5L88.7 120.9L88.8 122.4L88.9 123.8L89.0 125.2L89.2 126.6L89.3 128.0L89.4 129.4L89.5 130.8L89.7 132.2L89.8 133.6L89.9 135.0L90.1 136.4L90.2 137.8L90.3 139.2L90.4 140.6L90.6 142.0L90.7 143.4L90.8 144.9L91.0 146.3L91.1 147.7L91.2 149.1L91.3 150.5L91.5 151.9L91.6 153.3L91.7 154.7L91.9 156.1L92.0 157.5L92.1 158.9L92.3 160.3L92.4 161.7L92.6 163.1L92.7 164.5L92.8 165.9L93.0 167.3L93.1 168.7L93.3 170.1L93.4 171.6L93.6 173.0L93.7 174.4L93.8 175.8L94.0 177.2L94.1 178.6L94.3 180.0L94.5 181.4L94.6 182.8L94.8 184.2L94.9 185.6L95.1 187.1L95.2 188.5L95.4 189.9L95.5 191.3L95.7 192.7L95.9 194.1L96.0 195.6L96.2 197.0L96.4 198.4L96.5 199.8L96.7 201.2L96.9 202.6L97.1 204.0L97.3 205.4L97.5 206.8L97.7 208.2L97.9 209.6L98.2 211.1L98.4 212.6L98.7 214.1L99.0 215.6L99.3 217.2L99.6 218.7L99.8 220.2L100.1 221.7L100.4 223.1L100.7 224.5L101.0 225.9L101.3 227.2L101.5 228.4L101.8 229.5L102.1 230.6L102.3 231.5L102.6 232.9L102.9 234.1L103.2 235.2L103.6 236.1L104.1 237.1L104.9 238.2L105.8 239.4L106.7 240.2L107.7 240.5L108.7 240.1L109.7 239.1L110.8 237.9L111.7 236.6L112.4 235.7L113.0 234.7L113.6 233.6L114.3 232.4L114.9 231.0L115.4 230.0L115.9 228.9L116.4 227.7L116.9 226.3L117.4 224.9L118.0 223.4L118.5 221.9L119.1 220.3L119.7 218.7L120.2 217.1L120.8 215.5L121.3 214.0L121.8 212.5L122.3 211.1L122.8 209.7L123.2 208.5L123.5 207.4L124.0 205.9L124.4 204.5L124.8 203.3L125.2 202.1L125.5 200.9L125.9 199.7L126.3 198.6L126.8 197.3L127.4 196.1L128.0 194.9L128.6 193.8L129.2 192.7L129.9 191.5L130.6 190.4L131.3 189.3L132.1 188.3L133.1 187.3L134.2 186.3L135.3 185.6L136.4 185.0L137.4 184.5L138.6 184.2L139.7 184.1L140.8 184.4L142.0 184.9L143.1 185.6L144.3 186.3L145.4 187.0L146.5 187.7L147.5 188.4L148.5 189.1L149.5 189.9L150.5 190.6L151.5 191.3L152.5 192.1L153.5 192.8L154.5 193.5L155.5 194.2L156.6 194.8L157.6 195.4L158.7 196.0L159.8 196.4L161.2 196.6L162.6 196.6L164.0 196.6L165.6 196.5L166.8 196.5L168.1 196.4L169.5 196.3L170.9 196.1L172.3 196.0L173.7 195.9L175.0 195.7L176.4 195.6L177.7 195.5L179.1 195.4L180.4 195.2L181.7 195.1L183.0 195.1L184.4 195.1L185.8 195.1L187.2 195.1L188.6 195.2L190.0 195.2L191.4 195.3L192.9 195.5L194.3 195.6L195.8 195.8L197.2 195.9L198.6 196.0L200.1 196.2L201.5 196.3L203.0 196.4L204.5 196.4L205.7 196.4L206.9 196.4L208.2 196.3L209.5 196.3L210.8 196.2L212.2 196.1L213.6 196.0L215.0 196.0L216.3 195.9L217.6 195.8L219.0 195.7L220.4 195.7L221.8 195.6L223.2 195.5L224.7 195.4L226.1 195.4L227.4 195.3L228.7 195.3L230.0 195.2L231.5 195.2L232.9 195.3L234.2 195.3L235.6 195.3L237.0 195.4L238.4 195.4L240.0 195.4L241.2 195.4L242.6 195.3L244.0 195.3L245.5 195.2L247.1 195.2L248.6 195.1L250.2 195.1L251.8 195.0L253.3 195.0L254.8 194.9L256.3 194.9L257.6 194.9L258.9 194.8L260.0 194.8L261.6 194.9L263.0 194.9L264.3 194.9L265.5 195.0L266.9 195.1L268.3 195.2L269.6 195.3L271.0 195.4L272.5 195.5L273.9 195.6L275.3 195.6L276.7 195.6L278.0 195.4L279.3 195.3L280.7 195.1L282.1 195.0L283.7 194.9L285.0 194.8L286.4 194.9L287.9 194.9L289.4 195.0L291.0 195.0L292.6 195.1L294.2 195.2L295.8 195.3L297.3 195.3L298.7 195.4L300.0 195.4L301.4 195.6L302.7 195.6L304.0 195.7L305.2 195.8L306.4 195.9L307.7 196.0L309.0 196.1L310.3 196.2L311.6 196.3L312.9 196.4L314.2 196.5L315.6 196.6L317.0 196.7L318.4 196.8L320.0 196.9L321.2 197.0L322.5 197.0L323.8 197.1L325.2 197.1L326.7 197.1L328.1 197.2L329.6 197.2L331.1 197.3L332.6 197.3L334.1 197.3L335.5 197.3L337.0 197.4L338.4 197.4L339.7 197.4L341.0 197.3L342.5 197.3L344.0 197.3L345.4 197.2L346.8 197.2L348.1 197.1L349.5 197.0L350.8 196.9L352.2 196.8L353.6 196.7L355.0 196.6L356.4 196.6L357.8 196.4L359.2 196.3L360.6 196.2L362.0 196.1L363.4 196.0L364.8 195.9L366.2 195.8L367.7 195.7L369.1 195.7L370.6 195.6L372.0 195.6L373.5 195.6L375.0 195.6L376.5 195.7L378.0 195.7L379.5 195.8L381.0 195.8L382.5 195.9L384.0 196.0L385.5 196.0L387.0 196.1L388.5 196.1L388.5 203.1L387.0 203.1L385.5 203.0L384.0 203.0L382.5 202.9L381.0 202.8L379.5 202.8L378.0 202.7L376.5 202.7L375.0 202.6L373.5 202.6L372.0 202.6L370.6 202.6L369.1 202.7L367.7 202.7L366.2 202.8L364.8 202.9L363.4 203.0L362.0 203.1L360.6 203.2L359.2 203.3L357.8 203.4L356.4 203.6L355.0 203.6L353.6 203.7L352.2 203.8L350.8 203.9L349.5 204.0L348.1 204.1L346.8 204.2L345.4 204.2L344.0 204.3L342.5 204.3L341.0 204.3L339.7 204.4L338.4 204.4L337.0 204.4L335.5 204.3L334.1 204.3L332.6 204.3L331.1 204.3L329.6 204.2L328.1 204.2L326.7 204.1L325.2 204.1L323.8 204.1L322.5 204.0L321.2 204.0L320.0 203.9L318.4 203.8L317.0 203.7L315.6 203.6L314.2 203.5L312.9 203.4L311.6 203.3L310.3 203.2L309.0 203.1L307.7 203.0L306.4 202.9L305.2 202.8L304.0 202.7L302.7 202.6L301.4 202.6L300.0 202.4L298.7 202.4L297.3 202.3L295.8 202.2L294.2 202.1L292.6 202.0L291.0 201.9L289.4 201.8L287.9 201.7L286.4 201.7L285.0 201.6L283.7 201.6L282.1 201.7L280.7 201.8L279.3 202.0L278.0 202.1L276.7 202.2L275.3 202.3L273.9 202.2L272.5 202.1L271.0 202.0L269.6 201.9L268.3 201.7L266.9 201.6L265.5 201.5L264.3 201.4L263.0 201.4L261.6 201.3L260.0 201.3L258.9 201.3L257.6 201.3L256.3 201.3L254.8 201.3L253.3 201.3L251.8 201.3L250.2 201.4L248.6 201.4L247.1 201.4L245.5 201.5L244.0 201.5L242.6 201.5L241.2 201.5L240.0 201.5L238.4 201.5L237.0 201.5L235.6 201.4L234.2 201.3L232.9 201.3L231.5 201.3L230.0 201.2L228.7 201.3L227.4 201.3L226.1 201.3L224.7 201.4L223.2 201.4L221.8 201.5L220.4 201.5L219.0 201.6L217.6 201.6L216.3 201.7L215.0 201.7L213.6 201.8L212.2 201.9L210.8 201.9L209.5 202.0L208.2 202.0L206.9 202.1L205.7 202.1L204.5 202.1L203.0 202.0L201.5 201.9L200.1 201.7L198.6 201.6L197.2 201.4L195.8 201.3L194.3 201.1L192.9 200.9L191.4 200.8L190.0 200.7L188.6 200.6L187.2 200.5L185.8 200.4L184.4 200.4L183.0 200.4L181.7 200.5L180.4 200.5L179.1 200.6L177.7 200.7L176.4 200.9L175.0 201.0L173.7 201.1L172.3 201.2L170.9 201.3L169.5 201.4L168.1 201.5L166.8 201.6L165.6 201.6L164.0 201.6L162.6 201.7L161.2 201.6L159.8 201.3L158.7 201.0L157.6 200.4L156.6 199.8L155.5 199.1L154.5 198.5L153.5 197.8L152.5 197.0L151.5 196.2L150.5 195.5L149.5 194.8L148.5 194.0L147.5 193.3L146.5 192.6L145.4 191.9L144.3 191.2L143.1 190.4L142.0 189.7L140.8 189.2L139.7 189.0L138.6 189.0L137.4 189.2L136.4 189.7L135.3 190.1L134.2 190.9L133.1 191.7L132.1 192.8L131.3 193.7L130.6 194.7L129.9 195.8L129.2 197.0L128.6 198.0L128.0 199.1L127.4 200.2L126.8 201.4L126.3 202.7L125.9 203.8L125.5 204.9L125.2 206.1L124.8 207.3L124.4 208.6L124.0 210.0L123.5 211.5L123.2 212.7L122.8 213.9L122.3 215.3L121.8 216.8L121.3 218.3L120.8 219.9L120.2 221.6L119.7 223.2L119.1 224.9L118.5 226.5L118.0 228.1L117.4 229.6L116.9 231.1L116.4 232.5L115.9 233.8L115.4 234.9L114.9 235.9L114.3 237.4L113.6 238.7L113.0 239.8L112.4 240.8L111.7 241.9L110.8 243.2L109.7 244.6L108.7 245.6L107.7 246.0L106.7 245.4L105.8 244.3L104.9 242.8L104.1 241.4L103.6 240.4L103.2 239.3L102.9 238.2L102.6 236.9L102.3 235.4L102.1 234.4L101.8 233.2L101.5 232.0L101.3 230.7L101.0 229.3L100.7 227.9L100.4 226.4L100.1 224.9L99.8 223.3L99.6 221.7L99.3 220.1L99.0 218.5L98.7 216.8L98.4 215.2L98.2 213.7L97.9 212.2L97.7 210.7L97.5 209.2L97.3 207.7L97.1 206.3L96.9 204.8L96.7 203.3L96.5 201.9L96.4 200.4L96.2 198.9L96.0 197.5L95.9 196.0L95.7 194.5L95.5 193.1L95.4 191.6L95.2 190.1L95.1 188.7L94.9 187.2L94.8 185.8L94.6 184.4L94.5 182.9L94.3 181.5L94.1 180.1L94.0 178.7L93.8 177.3L93.7 175.8L93.6 174.4L93.4 173.0L93.3 171.6L93.1 170.2L93.0 168.8L92.8 167.4L92.7 165.9L92.6 164.5L92.4 163.1L92.3 161.7L92.1 160.3L92.0 158.8L91.9 157.4L91.7 156.0L91.6 154.6L91.5 153.2L91.3 151.8L91.2 150.3L91.1 148.9L91.0 147.5L90.8 146.1L90.7 144.7L90.6 143.3L90.4 141.8L90.3 140.4L90.2 139.0L90.1 137.6L89.9 136.2L89.8 134.8L89.7 133.3L89.5 131.9L89.4 130.5L89.3 129.1L89.2 127.7L89.0 126.2L88.9 124.8L88.8 123.4L88.7 122.0L88.5 120.6L88.4 119.2L88.3 117.7L88.2 116.3L88.0 114.9L87.9 113.5L87.8 112.1L87.6 110.7L87.5 109.2L87.4 107.8L87.2 106.4L87.1 105.0L87.0 103.6L86.8 102.2L86.7 100.7L86.6 99.3L86.4 97.9L86.3 96.5L86.2 95.1L86.0 93.6L85.9 92.2L85.8 90.8L85.6 89.4L85.5 88.0L85.3 86.6L85.2 85.1L85.0 83.7L84.9 82.3L84.7 80.9L84.5 79.5L84.4 78.0L84.2 76.6L84.1 75.2L83.9 73.8L83.8 72.4L83.6 71.0L83.4 69.5L83.3 68.1L83.1 66.7L83.0 65.3L82.8 63.8L82.7 62.3L82.5 60.8L82.3 59.3L82.2 57.7L82.0 56.1L81.8 54.6L81.7 53.0L81.5 51.5L81.3 50.0L81.2 48.5L81.0 47.1L80.9 45.8L80.7 44.5L80.6 43.3L80.5 42.2L80.3 41.2L80.2 39.7L80.0 38.4L79.8 37.2L79.7 36.1L79.5 34.9L79.3 33.5L79.0 32.1L78.8 30.8L78.5 29.6L78.2 28.4L77.9 27.3L77.5 26.4L77.0 25.8L76.5 25.3Z" fill="#9400d3" fill-opacity="0.3"/>
<path d="M76.5 25.3L76.9 26.1L77.2 27.0L77.4 27.9L77.6 29.0L77.8 30.2L78.0 31.5L78.1 32.6L78.3 33.8L78.5 35.0L78.6 36.4L78.8 37.8L79.0 39.3L79.2 40.9L79.3 42.1L79.5 43.2L79.6 44.5L79.7 45.8L79.8 47.2L80.0 48.6L80.1 50.0L80.2 51.5L80.4 53.0L80.5 54.5L80.7 56.0L80.8 57.5L80.9 59.0L81.0 60.5L81.2 62.0L81.3 63.4L81.4 64.9L81.5 66.3L81.7 67.7L81.8 69.1L81.9 70.5L82.0 71.9L82.1 73.3L82.2 74.7L82.4 76.1L82.5 77.6L82.6 79.0L82.7 80.4L82.8 81.8L82.9 83.2L83.0 84.6L83.1 86.0L83.2 87.4L83.3 88.8L83.4 90.2L83.5 91.6L83.6 93.1L83.8 94.5L83.9 95.9L84.0 97.3L84.1 98.7L84.2 100.1L84.2 101.5L84.3 102.9L84.4 104.3L84.5 105.7L84.6 107.1L84.7 108.6L84.8 110.0L84.9 111.4L85.0 112.8L85.1 114.2L85.2 115.6L85.3 117.0L85.4 118.4L85.5 119.8L85.6 121.2L85.7 122.6L85.8 124.1L85.9 125.5L86.0 126.9L86.1 128.3L86.2 129.7L86.2 131.1L86.3 132.5L86.4 133.9L86.5 135.3L86.6 136.7L86.7 138.2L86.8 139.6L86.9 141.0L87.0 142.4L87.1 143.8L87.2 145.2L87.3 146.6L87.4 148.0L87.5 149.4L87.6 150.8L87.7 152.2L87.8 153.7L87.8 155.1L87.9 156.5L88.0 157.9L88.1 159.3L88.2 160.7L88.3 162.1L88.4 163.5L88.5 164.9L88.6 166.3L88.7 167.7L88.8 169.2L89.0 170.6L89.1 172.0L89.2 173.4L89.3 174.8L89.4 176.2L89.5 177.6L89.6 179.0L89.7 180.4L89.8 181.8L89.9 183.2L90.0 184.7L90.1 186.1L90.2 187.5L90.3 188.9L90.5 190.3L90.6 191.7L90.7 193.1L90.8 194.5L90.9 195.9L91.0 197.3L91.1 198.7L91.2 200.1L91.3 201.6L91.5 203.0L91.6 204.4L91.8 205.8L91.9 207.2L92.1 208.6L92.3 210.1L92.4 211.6L92.6 213.2L92.9 214.8L93.1 216.4L93.3 218.0L93.5 219.6L93.8 221.2L94.0 222.8L94.2 224.4L94.5 225.8L94.7 227.3L94.9 228.6L95.2 229.9L95.4 231.0L95.6 232.0L95.8 233.0L96.1 234.3L96.4 235.4L96.8 236.3L97.2 237.2L98.0 238.6L98.9 239.9L99.8 240.5L100.6 239.9L101.5 238.5L102.3 237.1L102.8 236.2L103.2 235.2L103.7 234.1L104.2 232.8L104.5 231.9L104.8 230.8L105.2 229.5L105.6 228.2L106.0 226.7L106.4 225.2L106.8 223.6L107.3 222.0L107.7 220.3L108.2 218.7L108.6 217.0L109.1 215.4L109.5 213.9L109.9 212.4L110.2 211.0L110.6 209.8L110.9 208.7L111.4 207.1L111.8 205.6L112.1 204.3L112.5 203.1L112.9 201.8L113.3 200.5L113.7 199.3L114.0 197.9L114.4 196.6L114.8 195.3L115.2 194.0L115.7 192.8L116.2 191.8L117.0 190.5L117.9 189.3L118.8 188.2L119.8 187.4L120.9 186.7L122.2 186.2L123.4 186.0L124.5 186.2L125.5 186.7L126.6 187.3L127.7 188.0L128.8 188.7L130.0 189.5L131.0 190.4L132.1 191.2L133.3 192.0L134.4 192.9L135.5 193.7L136.5 194.7L137.5 195.6L138.6 196.5L139.8 197.0L141.1 197.5L142.4 197.8L143.7 198.1L145.1 198.2L146.5 198.1L148.0 198.0L149.2 197.9L150.5 197.8L151.8 197.7L153.1 197.5L154.3 197.3L155.5 197.0L156.7 196.7L158.0 196.5L159.4 196.2L160.8 196.0L162.3 195.7L163.9 195.6L165.2 195.6L166.7 195.6L168.1 195.7L169.6 195.9L171.1 196.0L172.6 196.0L173.9 196.0L175.3 196.1L176.6 196.1L178.0 196.1L179.4 196.1L180.7 196.0L182.0 195.9L183.4 195.8L184.7 195.6L186.1 195.4L187.4 195.2L188.7 195.0L190.0 194.8L191.5 194.7L192.9 194.6L194.3 194.5L195.8 194.4L197.2 194.4L198.7 194.5L200.1 194.7L201.6 195.0L203.0 195.2L204.5 195.4L205.9 195.7L207.4 195.9L208.8 196.1L210.3 196.3L211.7 196.5L213.1 196.8L214.6 197.0L216.0 197.3L217.5 197.5L218.9 197.6L220.4 197.6L221.8 197.6L223.3 197.5L224.7 197.4L226.2 197.2L227.6 197.1L229.1 196.8L230.5 196.6L232.0 196.3L233.4 196.2L234.8 196.0L236.2 195.9L237.6 195.8L239.1 195.8L240.6 195.7L241.9 195.7L243.2 195.8L244.6 195.8L245.9 195.8L247.3 195.9L248.7 195.9L250.0 195.8L251.4 195.7L252.8 195.6L254.2 195.4L255.6 195.2L257.0 195.1L258.4 194.9L259.8 194.9L261.2 194.8L262.7 194.7L264.1 194.7L265.5 194.7L266.9 194.8L268.3 194.9L269.7 195.0L271.1 195.1L272.5 195.3L273.9 195.5L275.3 195.8L276.7 196.1L278.1 196.4L279.5 196.9L280.9 197.3L282.3 197.6L283.7 197.8L285.1 198.0L286.5 198.0L287.9 198.0L289.4 198.0L290.8 197.9L292.2 197.8L293.6 197.7L295.0 197.4L296.4 197.2L297.8 196.9L299.2 196.7L300.6 196.5L302.0 196.3L303.4 196.2L304.7 196.0L306.1 195.9L307.5 195.8L309.0 195.7L310.3 195.5L311.7 195.4L313.1 195.2L314.5 195.0L315.9 194.9L317.3 194.8L318.7 194.8L320.0 194.8L321.5 194.9L322.9 195.2L324.3 195.6L325.6 195.9L327.0 196.2L328.4 196.4L329.8 196.5L331.2 196.5L332.7 196.4L334.1 196.3L335.5 196.2L336.9 196.0L338.3 195.7L339.7 195.4L341.1 195.0L342.5 194.7L343.9 194.4L345.3 194.3L346.7 194.2L348.1 194.3L349.6 194.4L351.0 194.6L352.4 194.9L353.7 195.1L355.1 195.6L356.5 196.1L357.8 196.6L359.1 197.2L360.5 197.6L361.8 198.0L363.2 198.3L364.5 198.6L365.9 198.8L367.2 198.9L368.6 198.9L369.9 198.8L371.3 198.6L372.7 198.3L374.0 198.0L375.3 197.6L376.7 197.1L378.0 196.5L379.3 196.0L380.7 195.5L382.0 195.1L383.2 194.8L384.6 194.5L385.9 194.2L387.2 193.9L388.5 193.6L388.5 198.6L387.2 198.9L385.9 199.2L384.6 199.5L383.2 199.8L382.0 200.1L380.7 200.4L379.3 200.9L378.0 201.4L376.7 202.0L375.3 202.5L374.0 202.9L372.7 203.2L371.3 203.5L369.9 203.7L368.6 203.8L367.2 203.8L365.9 203.7L364.5 203.5L363.2 203.2L361.8 202.8L360.5 202.5L359.1 202.0L357.8 201.5L356.5 200.9L355.1 200.4L353.7 200.0L352.4 199.7L351.0 199.4L349.6 199.2L348.1 199.1L346.7 199.0L345.3 199.0L343.9 199.2L342.5 199.4L341.1 199.8L339.7 200.2L338.3 200.5L336.9 200.7L335.5 200.9L334.1 201.0L332.7 201.1L331.2 201.2L329.8 201.2L328.4 201.1L327.0 200.9L325.6 200.6L324.3 200.2L322.9 199.9L321.5 199.6L320.0 199.4L318.7 199.4L317.3 199.4L315.9 199.5L314.5 199.6L313.1 199.8L311.7 200.0L310.3 200.1L309.0 200.2L307.5 200.4L306.1 200.5L304.7 200.6L303.4 200.7L302.0 200.9L300.6 201.0L299.2 201.2L297.8 201.5L296.4 201.7L295.0 201.9L293.6 202.2L292.2 202.3L290.8 202.4L289.4 202.5L287.9 202.5L286.5 202.5L285.1 202.4L283.7 202.3L282.3 202.0L280.9 201.7L279.5 201.3L278.1 200.9L276.7 200.5L275.3 200.1L273.9 199.9L272.5 199.7L271.1 199.5L269.7 199.3L268.3 199.2L266.9 199.1L265.5 199.1L264.1 199.1L262.7 199.1L261.2 199.1L259.8 199.2L258.4 199.3L257.0 199.4L255.6 199.5L254.2 199.7L252.8 199.8L251.4 200.0L250.0 200.1L248.7 200.1L247.3 200.1L245.9 200.1L244.6 200.0L243.2 200.0L241.9 200.0L240.6 200.0L239.1 200.0L237.6 200.0L236.2 200.1L234.8 200.2L233.4 200.3L232.0 200.5L230.5 200.7L229.1 201.0L227.6 201.2L226.2 201.4L224.7 201.5L223.3 201.6L221.8 201.7L220.4 201.7L218.9 201.7L217.5 201.6L216.0 201.4L214.6 201.1L213.1 200.8L211.7 200.6L210.3 200.4L208.8 200.1L207.4 199.9L205.9 199.7L204.5 199.5L203.0 199.2L201.6 199.0L200.1 198.7L198.7 198.5L197.2 198.4L195.8 198.3L194.3 198.4L192.9 198.4L191.5 198.5L190.0 198.7L188.7 198.8L187.4 198.9L186.1 199.1L184.7 199.3L183.4 199.5L182.0 199.6L180.7 199.6L179.4 199.6L178.0 199.6L176.6 199.6L175.3 199.6L173.9 199.5L172.6 199.5L171.1 199.4L169.6 199.3L168.1 199.1L166.7 199.0L165.2 198.9L163.9 198.9L162.3 199.0L160.8 199.2L159.4 199.4L158.0 199.6L156.7 199.9L155.5 200.1L154.3 200.4L153.1 200.6L151.8 200.7L150.5 200.8L149.2 200.9L148.0 200.9L146.5 201.0L145.1 201.0L143.7 200.8L142.4 200.5L141.1 200.1L139.8 199.6L138.6 199.0L137.5 198.2L136.5 197.2L135.5 196.2L134.4 195.3L133.3 194.4L132.1 193.5L131.0 192.7L130.0 191.8L128.8 190.9L127.7 190.1L126.6 189.5L125.5 188.8L124.5 188.3L123.4 188.1L122.2 188.2L120.9 188.6L119.8 189.3L118.8 190.1L117.9 191.1L117.0 192.2L116.2 193.5L115.7 194.6L115.2 195.7L114.8 197.0L114.4 198.3L114.0 199.6L113.7 200.9L113.3 202.2L112.9 203.5L112.5 204.7L112.1 206.0L111.8 207.2L111.4 208.7L110.9 210.2L110.6 211.3L110.2 212.6L109.9 213.9L109.5 215.4L109.1 216.9L108.6 218.5L108.2 220.1L107.7 221.8L107.3 223.4L106.8 225.1L106.4 226.6L106.0 228.1L105.6 229.6L105.2 230.9L104.8 232.1L104.5 233.2L104.2 234.1L103.7 235.5L103.2 236.5L102.8 237.5L102.3 238.4L101.5 239.8L100.6 241.1L99.8 241.6L98.9 241.0L98.0 239.7L97.2 238.3L96.8 237.3L96.4 236.4L96.1 235.3L95.8 233.9L95.6 233.0L95.4 232.0L95.2 230.8L94.9 229.6L94.7 228.2L94.5 226.8L94.2 225.3L94.0 223.7L93.8 222.1L93.5 220.5L93.3 218.9L93.1 217.2L92.9 215.6L92.6 214.0L92.4 212.4L92.3 210.9L92.1 209.4L91.9 208.0L91.8 206.6L91.6 205.1L91.5 203.7L91.3 202.3L91.2 200.9L91.1 199.5L91.0 198.1L90.9 196.7L90.8 195.2L90.7 193.8L90.6 192.4L90.5 191.0L90.3 189.6L90.2 188.2L90.1 186.8L90.0 185.3L89.9 183.9L89.8 182.5L89.7 181.1L89.6 179.7L89.5 178.3L89.4 176.9L89.3 175.4L89.2 174.0L89.1 172.6L89.0 171.2L88.8 169.8L88.7 168.4L88.6 167.0L88.5 165.5L88.4 164.1L88.3 162.7L88.2 161.3L88.1 159.9L88.0 158.5L87.9 157.1L87.8 155.6L87.8 154.2L87.7 152.8L87.6 151.4L87.5 150.0L87.4 148.6L87.3 147.2L87.2 145.7L87.1 144.3L87.0 142.9L86.9 141.5L86.8 140.1L86.7 138.7L86.6 137.3L86.5 135.8L86.4 134.4L86.3 133.0L86.2 131.6L86.2 130.2L86.1 128.8L86.0 127.4L85.9 125.9L85.8 124.5L85.7 123.1L85.6 121.7L85.5 120.3L85.4 118.9L85.3 117.5L85.2 116.0L85.1 114.6L85.0 113.2L84.9 111.8L84.8 110.4L84.7 109.0L84.6 107.6L84.5 106.1L84.4 104.7L84.3 103.3L84.2 101.9L84.2 100.5L84.1 99.1L84.0 97.7L83.9 96.2L83.8 94.8L83.6 93.4L83.5 92.0L83.4 90.6L83.3 89.2L83.2 87.8L83.1 86.3L83.0 84.9L82.9 83.5L82.8 82.1L82.7 80.7L82.6 79.3L82.5 77.9L82.4 76.4L82.2 75.0L82.1 73.6L82.0 72.2L81.9 70.8L81.8 69.4L81.7 68.0L81.5 66.5L81.4 65.1L81.3 63.7L81.2 62.2L81.0 60.7L80.9 59.2L80.8 57.7L80.7 56.2L80.5 54.7L80.4 53.2L80.2 51.7L80.1 50.2L80.0 48.7L79.8 47.3L79.7 46.0L79.6 44.7L79.5 43.4L79.3 42.2L79.2 41.1L79.0 39.4L78.8 37.9L78.6 36.5L78.5 35.1L78.3 33.9L78.1 32.7L78.0 31.5L77.8 30.2L77.6 29.0L77.4 28.0L77.2 27.0L76.9 26.1L76.5 25.3Z" fill="#ff9600" fill-opacity="0.3"/>
<path d="M76.5 25.3L77.4 25.7L78.3 26.2L79.1 26.9L79.8 27.7L80.5 28.6L81.2 29.8L81.8 31.1L82.3 32.5L82.8 33.8L83.2 35.3L83.6 36.7L83.9 38.0L84.1 39.0L84.3 39.8L84.5 41.0L84.7 41.8L84.9 42.8L85.2 43.9L85.5 45.1L85.8 46.4L86.1 47.8L86.5 49.2L86.9 50.8L87.3 52.4L87.7 54.0L88.0 55.6L88.4 57.2L88.8 58.9L89.2 60.5L89.6 62.0L89.9 63.5L90.2 65.0L90.5 66.4L90.8 67.8L91.1 69.2L91.3 70.6L91.6 72.0L91.8 73.5L92.1 74.9L92.4 76.3L92.6 77.7L92.9 79.1L93.1 80.5L93.3 81.9L93.6 83.3L93.8 84.8L94.1 86.2L94.3 87.6L94.6 89.0L94.8 90.4L95.0 91.8L95.3 93.2L95.5 94.6L95.7 96.1L96.0 97.5L96.2 98.9L96.4 100.3L96.7 101.7L96.9 103.1L97.1 104.5L97.3 105.9L97.6 107.4L97.8 108.8L98.0 110.2L98.2 111.6L98.5 113.0L98.7 114.4L98.9 115.8L99.1 117.2L99.4 118.6L99.6 120.1L99.8 121.5L100.0 122.9L100.2 124.3L100.5 125.7L100.7 127.1L100.9 128.5L101.1 129.9L101.4 131.4L101.6 132.8L101.8 134.2L102.0 135.6L102.3 137.0L102.5 138.4L102.7 139.8L103.0 141.2L103.2 142.6L103.4 144.1L103.6 145.5L103.9 146.9L104.1 148.3L104.3 149.7L104.6 151.1L104.8 152.5L105.1 153.9L105.3 155.3L105.5 156.8L105.8 158.2L106.0 159.6L106.3 161.0L106.5 162.4L106.8 163.9L107.0 165.3L107.3 166.7L107.6 168.2L107.8 169.6L108.1 171.1L108.3 172.5L108.6 174.0L108.9 175.4L109.1 176.8L109.4 178.3L109.7 179.7L110.0 181.2L110.3 182.6L110.5 184.0L110.8 185.4L111.1 186.9L111.4 188.3L111.7 189.7L112.0 191.1L112.3 192.5L112.7 193.9L113.0 195.4L113.3 196.8L113.6 198.2L113.9 199.6L114.3 201.0L114.6 202.4L114.9 203.8L115.3 205.2L115.6 206.6L115.9 208.0L116.3 209.4L116.6 210.9L116.9 212.4L117.3 213.9L117.7 215.4L118.0 216.9L118.4 218.5L118.8 220.0L119.1 221.6L119.5 223.1L119.9 224.6L120.2 226.0L120.6 227.4L120.9 228.8L121.3 230.1L121.6 231.3L121.9 232.4L122.2 233.4L122.6 234.9L123.0 236.2L123.4 237.3L123.8 238.4L124.2 239.5L124.7 240.6L125.2 241.9L125.8 243.2L126.4 244.5L127.0 245.7L127.6 246.9L128.3 247.9L129.1 249.2L130.0 250.3L130.9 251.4L131.9 252.2L133.1 253.0L134.4 253.7L135.7 254.2L137.0 254.4L138.3 254.3L139.6 253.9L140.9 253.4L142.1 252.6L143.1 251.9L143.9 251.0L144.8 250.0L145.6 249.0L146.4 247.9L147.2 247.0L147.9 246.0L148.6 245.0L149.3 244.0L150.0 242.8L150.6 241.9L151.2 240.8L151.8 239.7L152.4 238.6L153.1 237.4L153.7 236.2L154.4 234.9L155.2 233.5L155.7 232.4L156.3 231.3L156.9 230.2L157.6 229.0L158.2 227.7L158.9 226.4L159.6 225.0L160.3 223.7L161.0 222.3L161.8 220.9L162.5 219.5L163.2 218.1L163.9 216.7L164.6 215.4L165.3 214.1L166.0 212.8L166.6 211.6L167.2 210.5L167.8 209.5L168.6 208.0L169.4 206.6L170.2 205.2L170.9 204.0L171.7 202.7L172.4 201.5L173.1 200.4L173.7 199.2L174.4 198.1L175.1 197.0L175.8 195.8L176.4 194.8L177.1 193.7L177.7 192.7L178.4 191.6L179.2 190.4L180.1 189.2L180.9 188.0L181.8 186.9L182.7 185.8L183.7 184.8L184.8 183.9L185.9 183.1L187.1 182.2L188.1 181.5L189.2 180.9L190.3 180.2L191.4 179.7L192.5 179.2L193.5 178.7L194.6 178.3L195.9 178.1L197.3 177.9L198.7 177.8L200.1 177.9L201.6 178.1L203.0 178.4L204.5 178.8L205.7 179.1L206.8 179.6L207.9 180.2L209.1 180.7L210.2 181.3L211.4 181.9L212.5 182.5L213.7 183.2L214.8 183.9L216.0 184.6L217.2 185.3L218.3 186.0L219.5 186.7L220.6 187.4L221.8 188.1L223.0 188.9L224.2 189.6L225.3 190.4L226.5 191.1L227.6 191.8L228.7 192.5L229.8 193.1L230.9 193.8L231.9 194.3L232.9 194.9L233.8 195.3L234.8 195.9L235.8 196.4L237.0 197.0L238.2 197.7L239.4 198.3L240.6 198.9L241.8 199.6L243.0 200.2L244.2 200.8L245.3 201.4L246.4 201.8L247.6 202.3L248.7 202.7L250.0 203.1L251.2 203.4L252.5 203.8L254.0 204.1L255.5 204.5L256.9 204.8L258.4 205.1L259.8 205.3L261.2 205.5L262.6 205.7L264.1 205.8L265.5 205.9L266.9 205.9L268.3 206.0L269.7 205.9L271.1 205.9L272.5 205.8L273.9 205.7L275.3 205.6L276.7 205.4L278.1 205.2L279.5 205.0L280.9 204.7L282.3 204.5L283.7 204.2L285.1 204.0L286.5 203.7L288.0 203.4L289.4 203.2L290.8 202.9L292.2 202.5L293.6 202.2L295.0 201.9L296.4 201.5L297.8 201.1L299.2 200.8L300.6 200.4L302.0 200.1L303.4 199.8L304.7 199.5L306.1 199.3L307.5 199.0L309.0 198.8L310.3 198.6L311.6 198.4L313.0 198.2L314.4 198.0L315.8 197.9L317.2 197.7L318.6 197.6L320.0 197.4L321.3 197.3L322.6 197.3L323.9 197.2L325.3 197.1L326.6 197.0L327.9 197.0L329.3 196.9L330.6 196.9L332.0 196.8L333.4 196.8L334.9 196.8L336.3 196.8L337.7 196.8L339.2 196.9L340.6 196.9L342.1 196.9L343.6 197.0L345.0 197.0L346.4 197.1L347.9 197.2L349.4 197.3L350.8 197.5L352.3 197.6L353.7 197.7L355.1 197.8L356.6 197.9L358.0 198.0L359.3 198.1L360.6 198.2L361.9 198.3L363.2 198.4L364.5 198.5L365.8 198.6L367.2 198.7L368.6 198.7L370.0 198.8L371.3 198.8L372.6 198.8L374.0 198.7L375.4 198.7L376.8 198.7L378.3 198.6L379.7 198.6L381.2 198.5L382.7 198.5L384.1 198.4L385.6 198.3L387.1 198.3L388.5 198.2" fill="none" stroke="#ff0000" stroke-width="1.55" stroke-linejoin="round" stroke-linecap="butt"/>
<path d="M76.5 22.0L77.3 22.9L78.1 23.9L78.9 24.9L79.5 26.1L80.0 27.4L80.5 28.7L81.0 30.0L81.4 31.3L81.8 32.5L82.1 33.8L82.4 35.1L82.7 36.4L82.9 37.8L83.1 39.2L83.4 41.0L83.6 42.0L83.7 43.1L83.9 44.3L84.2 45.5L84.4 46.9L84.6 48.3L84.9 49.7L85.1 51.2L85.4 52.8L85.6 54.3L85.9 55.9L86.1 57.4L86.4 59.0L86.6 60.6L86.9 62.1L87.1 63.6L87.4 65.0L87.6 66.4L87.8 67.8L88.0 69.2L88.2 70.6L88.5 72.1L88.7 73.5L88.9 74.9L89.1 76.3L89.3 77.7L89.5 79.1L89.8 80.5L90.0 81.9L90.2 83.4L90.4 84.8L90.6 86.2L90.8 87.6L91.0 89.0L91.2 90.4L91.4 91.8L91.6 93.2L91.8 94.6L92.0 96.1L92.2 97.5L92.3 98.9L92.5 100.3L92.7 101.7L92.9 103.1L93.1 104.5L93.3 105.9L93.5 107.4L93.6 108.8L93.8 110.2L94.0 111.6L94.2 113.0L94.4 114.4L94.5 115.8L94.7 117.2L94.9 118.6L95.1 120.1L95.2 121.5L95.4 122.9L95.6 124.3L95.8 125.7L95.9 127.1L96.1 128.5L96.3 129.9L96.5 131.4L96.7 132.8L96.8 134.2L97.0 135.6L97.2 137.0L97.4 138.4L97.5 139.8L97.7 141.2L97.9 142.6L98.1 144.1L98.3 145.5L98.4 146.9L98.6 148.3L98.8 149.7L99.0 151.1L99.2 152.5L99.3 153.9L99.5 155.3L99.7 156.8L99.9 158.2L100.1 159.6L100.3 161.0L100.5 162.4L100.7 163.9L100.9 165.3L101.1 166.7L101.3 168.2L101.5 169.6L101.7 171.1L101.9 172.5L102.1 174.0L102.3 175.4L102.5 176.8L102.7 178.3L102.9 179.7L103.1 181.1L103.3 182.6L103.5 184.0L103.8 185.5L104.0 186.9L104.2 188.3L104.4 189.7L104.7 191.1L104.9 192.5L105.1 193.9L105.4 195.4L105.6 196.8L105.8 198.2L106.1 199.6L106.3 201.0L106.6 202.4L106.8 203.8L107.1 205.2L107.3 206.6L107.6 208.0L107.9 209.5L108.2 210.9L108.5 212.4L108.8 213.9L109.1 215.4L109.4 217.0L109.7 218.5L110.1 220.1L110.4 221.6L110.7 223.2L111.0 224.7L111.4 226.1L111.7 227.5L112.0 228.9L112.3 230.1L112.6 231.3L112.9 232.4L113.2 233.4L113.6 235.0L114.0 236.4L114.4 237.6L114.8 238.7L115.3 239.9L115.8 241.3L116.4 242.7L117.0 244.0L117.6 245.3L118.2 246.4L118.9 247.5L119.6 248.5L120.3 249.3L121.1 250.0L122.1 250.8L123.2 251.3L124.3 251.5L125.7 251.3L127.0 250.6L128.3 249.8L129.3 248.8L130.2 247.6L131.0 246.3L131.9 245.0L132.7 243.9L133.4 242.8L134.2 241.6L134.9 240.4L135.6 239.2L136.2 238.1L136.7 237.0L137.3 235.8L137.8 234.6L138.3 233.5L138.8 232.4L139.3 231.3L139.8 230.3L140.3 229.2L140.8 227.9L141.3 226.8L141.9 225.7L142.4 224.4L143.0 223.1L143.6 221.8L144.2 220.5L144.8 219.2L145.4 217.9L145.9 216.8L146.5 215.5L147.0 214.3L147.6 213.2L148.1 212.1L148.7 210.9L149.3 209.6L149.9 208.4L150.5 207.2L151.1 205.9L151.7 204.5L152.4 203.2L153.0 201.9L153.7 200.6L154.3 199.4L154.8 198.3L155.4 197.0L156.0 195.8L156.5 194.7L157.1 193.6L157.7 192.5L158.4 191.3L159.1 190.1L159.8 188.9L160.5 187.7L161.3 186.7L162.1 185.8L163.0 184.9L163.9 184.2L164.9 183.5L165.9 182.9L167.0 182.4L168.2 182.0L169.3 181.7L170.7 181.4L172.1 181.2L173.6 181.1L175.0 181.2L176.5 181.3L178.0 181.6L179.4 182.0L180.5 182.5L181.7 183.1L182.8 183.8L183.9 184.5L185.0 185.3L186.1 186.1L187.3 186.9L188.4 187.8L189.5 188.7L190.6 189.6L191.6 190.6L192.6 191.6L193.6 192.6L194.7 193.6L195.6 194.4L196.6 195.1L197.6 195.8L198.6 196.5L199.6 197.2L200.8 198.0L202.0 198.8L203.3 199.6L204.5 200.4L205.6 201.0L206.7 201.6L207.9 202.2L209.0 202.8L210.2 203.3L211.6 203.7L213.1 204.0L214.5 204.3L216.0 204.5L217.3 204.6L218.6 204.7L219.9 204.8L221.2 204.8L222.5 204.8L223.8 204.7L225.1 204.6L226.4 204.5L227.7 204.4L229.0 204.2L230.5 204.0L231.9 203.8L233.4 203.5L234.8 203.2L236.3 203.0L237.7 202.7L239.1 202.4L240.6 202.1L242.1 201.9L243.6 201.6L245.1 201.4L246.4 201.1L247.6 200.7L248.8 200.3L250.0 199.9L251.1 199.7L252.3 199.4L253.5 199.1L254.7 198.9L256.0 198.6L257.2 198.4L258.4 198.2L259.7 198.1L260.9 197.9L262.3 197.7L263.6 197.6L265.0 197.4L266.5 197.3L268.0 197.1L269.5 197.0L271.0 196.9L272.5 196.8L274.0 196.8L275.3 196.7L276.6 196.6L277.9 196.6L279.2 196.5L280.4 196.5L281.7 196.5L283.0 196.4L284.3 196.4L285.6 196.4L286.9 196.5L288.1 196.5L289.4 196.5L290.7 196.6L292.0 196.6L293.3 196.8L294.6 196.9L295.9 197.1L297.1 197.2L298.4 197.4L299.7 197.6L301.0 197.8L302.3 197.9L303.6 198.1L304.8 198.2L306.1 198.4L307.4 198.5L308.7 198.6L310.0 198.8L311.4 198.8L312.8 198.9L314.1 199.0L315.5 199.0L317.0 199.1L318.5 199.1L320.0 199.0L321.3 199.0L322.5 199.0L323.9 198.9L325.2 198.8L326.6 198.7L328.0 198.6L329.4 198.5L330.8 198.4L332.2 198.3L333.6 198.2L335.0 198.1L336.4 197.9L337.8 197.8L339.1 197.7L340.5 197.6L341.9 197.4L343.3 197.3L344.7 197.2L346.0 197.1L347.4 197.0L348.7 196.8L350.0 196.8L351.4 196.7L352.7 196.6L354.1 196.5L355.4 196.4L356.7 196.3L358.0 196.2L359.3 196.2L360.7 196.2L362.0 196.2L363.4 196.2L364.8 196.2L366.3 196.3L367.7 196.4L369.2 196.6L370.6 196.7L372.1 196.8L373.5 196.9L375.0 197.0L376.3 197.1L377.7 197.2L379.0 197.3L380.4 197.4L381.7 197.5L383.1 197.6L384.4 197.7L385.8 197.8L387.1 197.9L388.5 197.9" fill="none" stroke="#008040" stroke-width="1.55" stroke-linejoin="round" stroke-linecap="butt"/>
<path d="M76.5 25.3L77.3 26.0L78.0 26.8L78.4 27.7L78.8 28.8L79.2 30.0L79.5 31.2L79.8 32.3L80.0 33.5L80.3 34.6L80.5 35.8L80.7 37.0L80.9 38.1L81.1 39.4L81.4 41.0L81.5 42.0L81.7 43.0L81.9 44.2L82.1 45.4L82.3 46.8L82.5 48.2L82.7 49.6L82.9 51.1L83.1 52.7L83.3 54.2L83.5 55.8L83.7 57.4L84.0 59.0L84.2 60.5L84.4 62.1L84.6 63.6L84.8 65.0L85.0 66.4L85.2 67.8L85.4 69.2L85.6 70.6L85.8 72.1L86.0 73.5L86.2 74.9L86.4 76.3L86.6 77.7L86.8 79.1L87.0 80.5L87.2 81.9L87.4 83.4L87.5 84.8L87.7 86.2L87.9 87.6L88.1 89.0L88.3 90.4L88.5 91.8L88.6 93.2L88.8 94.6L89.0 96.1L89.2 97.5L89.3 98.9L89.5 100.3L89.7 101.7L89.8 103.1L90.0 104.5L90.1 105.9L90.3 107.4L90.5 108.8L90.6 110.2L90.8 111.6L91.0 113.0L91.1 114.4L91.3 115.8L91.4 117.2L91.6 118.6L91.7 120.1L91.9 121.5L92.1 122.9L92.2 124.3L92.4 125.7L92.5 127.1L92.7 128.5L92.8 129.9L93.0 131.4L93.1 132.8L93.3 134.2L93.4 135.6L93.6 137.0L93.8 138.4L93.9 139.8L94.1 141.2L94.2 142.6L94.4 144.1L94.5 145.5L94.7 146.9L94.9 148.3L95.0 149.7L95.2 151.1L95.3 152.5L95.5 153.9L95.6 155.3L95.8 156.8L96.0 158.2L96.1 159.6L96.3 161.0L96.5 162.4L96.6 163.9L96.8 165.3L97.0 166.7L97.1 168.2L97.3 169.6L97.5 171.1L97.6 172.5L97.8 173.9L98.0 175.4L98.2 176.8L98.3 178.3L98.5 179.7L98.7 181.1L98.9 182.6L99.1 184.0L99.3 185.4L99.4 186.9L99.6 188.3L99.8 189.7L100.0 191.1L100.2 192.5L100.4 193.9L100.6 195.4L100.8 196.8L101.0 198.2L101.2 199.6L101.4 201.0L101.6 202.4L101.8 203.8L102.0 205.2L102.3 206.6L102.5 208.0L102.7 209.4L103.0 210.9L103.3 212.4L103.6 213.9L103.9 215.4L104.2 216.9L104.5 218.5L104.8 220.0L105.1 221.5L105.5 223.0L105.8 224.5L106.1 225.9L106.4 227.3L106.7 228.7L107.1 230.0L107.3 231.2L107.6 232.4L107.9 233.4L108.3 235.1L108.7 236.5L109.0 237.8L109.4 239.1L109.8 240.3L110.2 241.4L110.7 242.7L111.3 244.0L111.8 245.1L112.4 246.2L113.1 247.1L114.1 248.2L115.2 249.1L116.4 249.5L117.4 249.3L118.4 248.8L119.5 248.0L120.4 247.1L121.2 246.2L122.0 245.2L122.7 244.0L123.3 242.7L124.0 241.5L124.6 240.3L125.1 239.1L125.7 237.8L126.2 236.5L126.8 235.1L127.5 233.4L127.9 232.4L128.3 231.3L128.8 230.0L129.3 228.7L129.8 227.3L130.4 225.9L131.0 224.4L131.5 222.9L132.1 221.4L132.7 219.9L133.3 218.4L133.8 216.9L134.4 215.5L134.9 214.1L135.4 212.8L135.9 211.6L136.4 210.5L136.8 209.5L137.5 208.0L138.1 206.6L138.7 205.4L139.3 204.2L139.8 203.1L140.4 202.1L141.0 201.1L141.6 200.1L142.2 199.2L142.8 198.2L143.5 197.1L144.3 196.0L145.2 194.8L146.0 193.6L146.8 192.5L147.7 191.3L148.6 190.2L149.5 189.1L150.5 188.2L151.7 187.3L152.9 186.6L154.1 186.0L155.3 185.6L156.4 185.4L157.7 185.4L158.9 185.5L160.2 185.8L161.5 186.2L162.8 186.7L164.0 187.3L165.3 188.0L166.5 188.8L167.8 189.6L168.9 190.3L170.1 191.0L171.3 191.8L172.4 192.5L173.6 193.2L174.7 193.8L175.9 194.4L177.1 195.0L178.2 195.6L179.4 196.1L180.8 196.7L182.2 197.2L183.6 197.7L185.0 198.3L186.3 198.8L187.7 199.5L189.1 200.0L190.6 200.4L191.9 200.6L193.3 200.8L194.7 200.8L196.1 200.8L197.5 200.8L198.9 200.8L200.2 200.7L201.6 200.6L203.0 200.4L204.5 200.4L205.9 200.3L207.4 200.3L208.9 200.2L210.4 200.2L211.9 200.2L213.5 200.1L215.0 200.0L216.3 200.0L217.7 199.9L219.0 199.8L220.3 199.7L221.6 199.5L223.0 199.4L224.5 199.3L226.0 199.2L227.3 199.2L228.6 199.1L230.0 199.1L231.4 199.1L232.9 199.0L234.4 199.0L235.9 199.0L237.4 199.0L238.9 198.9L240.5 198.9L242.0 198.9L243.5 198.9L245.0 198.9L246.4 199.0L247.8 199.0L249.3 199.1L250.7 199.1L252.1 199.2L253.5 199.2L255.0 199.3L256.4 199.4L257.8 199.4L259.3 199.5L260.7 199.6L262.1 199.6L263.6 199.6L265.0 199.6L266.4 199.7L267.9 199.7L269.3 199.6L270.7 199.6L272.1 199.6L273.6 199.6L275.0 199.5L276.4 199.5L277.9 199.5L279.3 199.4L280.7 199.4L282.1 199.3L283.6 199.3L285.0 199.2L286.4 199.2L287.9 199.2L289.3 199.1L290.8 199.1L292.3 199.0L293.7 199.0L295.2 198.9L296.6 198.8L298.1 198.8L299.5 198.7L300.9 198.7L302.3 198.6L303.7 198.5L305.0 198.4L306.4 198.4L307.9 198.3L309.3 198.2L310.7 198.1L312.0 198.0L313.4 197.9L314.7 197.8L316.0 197.7L317.4 197.6L318.7 197.5L320.0 197.4L321.5 197.3L323.0 197.2L324.4 197.1L325.8 196.9L327.3 196.8L328.7 196.7L330.1 196.6L331.6 196.5L333.0 196.4L334.4 196.5L335.9 196.5L337.4 196.6L338.8 196.6L340.3 196.8L341.7 196.9L343.1 197.0L344.6 197.1L346.0 197.2L347.4 197.4L348.7 197.5L350.0 197.7L351.4 197.9L352.7 198.1L354.0 198.2L355.3 198.4L356.7 198.5L358.0 198.6L359.3 198.7L360.6 198.8L361.9 198.9L363.2 198.9L364.5 199.0L365.8 199.0L367.2 199.0L368.6 199.0L370.0 199.0L371.3 199.1L372.6 199.1L374.0 199.1L375.4 199.1L376.8 199.1L378.3 199.1L379.7 199.1L381.2 199.1L382.7 199.1L384.1 199.1L385.6 199.1L387.1 199.1L388.5 199.0" fill="none" stroke="#0000cd" stroke-width="1.55" stroke-linejoin="round" stroke-linecap="butt"/>
<path d="M76.5 25.3L77.0 25.8L77.5 26.4L77.9 27.3L78.2 28.3L78.5 29.5L78.8 30.7L79.0 32.0L79.3 33.4L79.5 34.8L79.7 35.9L79.8 37.0L80.0 38.2L80.2 39.5L80.3 41.0L80.5 42.0L80.6 43.1L80.7 44.3L80.9 45.6L81.0 46.9L81.2 48.3L81.3 49.8L81.5 51.3L81.7 52.8L81.8 54.3L82.0 55.9L82.2 57.5L82.3 59.0L82.5 60.6L82.7 62.1L82.8 63.6L83.0 65.0L83.1 66.4L83.3 67.8L83.4 69.2L83.6 70.6L83.8 72.1L83.9 73.5L84.1 74.9L84.2 76.3L84.4 77.7L84.5 79.1L84.7 80.5L84.9 81.9L85.0 83.4L85.2 84.8L85.3 86.2L85.5 87.6L85.6 89.0L85.8 90.4L85.9 91.8L86.0 93.2L86.2 94.6L86.3 96.1L86.4 97.5L86.6 98.9L86.7 100.3L86.8 101.7L87.0 103.1L87.1 104.5L87.2 105.9L87.4 107.4L87.5 108.8L87.6 110.2L87.8 111.6L87.9 113.0L88.0 114.4L88.2 115.8L88.3 117.2L88.4 118.6L88.5 120.1L88.7 121.5L88.8 122.9L88.9 124.3L89.0 125.7L89.2 127.1L89.3 128.5L89.4 129.9L89.5 131.4L89.7 132.8L89.8 134.2L89.9 135.6L90.1 137.0L90.2 138.4L90.3 139.8L90.4 141.2L90.6 142.6L90.7 144.1L90.8 145.5L91.0 146.9L91.1 148.3L91.2 149.7L91.3 151.1L91.5 152.5L91.6 153.9L91.7 155.4L91.9 156.8L92.0 158.2L92.1 159.6L92.3 161.0L92.4 162.4L92.6 163.8L92.7 165.2L92.8 166.6L93.0 168.1L93.1 169.5L93.3 170.9L93.4 172.3L93.6 173.7L93.7 175.1L93.8 176.5L94.0 177.9L94.1 179.3L94.3 180.8L94.5 182.2L94.6 183.6L94.8 185.0L94.9 186.4L95.1 187.9L95.2 189.3L95.4 190.7L95.5 192.2L95.7 193.6L95.9 195.1L96.0 196.5L96.2 198.0L96.4 199.4L96.5 200.8L96.7 202.3L96.9 203.7L97.1 205.2L97.3 206.6L97.5 208.0L97.7 209.5L97.9 210.9L98.2 212.4L98.4 213.9L98.7 215.5L99.0 217.0L99.3 218.6L99.6 220.2L99.8 221.7L100.1 223.3L100.4 224.8L100.7 226.2L101.0 227.6L101.3 228.9L101.5 230.2L101.8 231.4L102.1 232.5L102.3 233.4L102.6 234.9L102.9 236.1L103.2 237.2L103.6 238.3L104.1 239.2L104.9 240.5L105.8 241.8L106.7 242.8L107.7 243.2L108.7 242.9L109.7 241.8L110.8 240.5L111.7 239.2L112.4 238.3L113.0 237.2L113.6 236.2L114.3 234.9L114.9 233.4L115.4 232.5L115.9 231.3L116.4 230.1L116.9 228.7L117.4 227.3L118.0 225.7L118.5 224.2L119.1 222.6L119.7 221.0L120.2 219.3L120.8 217.7L121.3 216.2L121.8 214.6L122.3 213.2L122.8 211.8L123.2 210.6L123.5 209.4L124.0 208.0L124.4 206.6L124.8 205.3L125.2 204.1L125.5 202.9L125.9 201.8L126.3 200.6L126.8 199.4L127.4 198.2L128.0 197.0L128.6 195.9L129.2 194.8L129.9 193.7L130.6 192.6L131.3 191.5L132.1 190.5L133.1 189.5L134.2 188.6L135.3 187.8L136.4 187.3L137.4 186.9L138.6 186.6L139.7 186.5L140.8 186.8L142.0 187.3L143.1 188.0L144.3 188.7L145.4 189.4L146.5 190.1L147.5 190.8L148.5 191.6L149.5 192.3L150.5 193.0L151.5 193.8L152.5 194.5L153.5 195.3L154.5 196.0L155.5 196.6L156.6 197.3L157.6 197.9L158.7 198.5L159.8 198.8L161.2 199.1L162.6 199.1L164.0 199.1L165.6 199.0L166.8 199.0L168.1 198.9L169.5 198.8L170.9 198.7L172.3 198.6L173.7 198.5L175.0 198.3L176.4 198.2L177.7 198.1L179.1 198.0L180.4 197.9L181.7 197.8L183.0 197.8L184.4 197.7L185.8 197.8L187.2 197.8L188.6 197.9L190.0 197.9L191.4 198.1L192.9 198.2L194.3 198.4L195.8 198.5L197.2 198.6L198.6 198.8L200.1 198.9L201.5 199.1L203.0 199.2L204.5 199.2L205.7 199.3L206.9 199.2L208.2 199.2L209.5 199.1L210.8 199.1L212.2 199.0L213.6 198.9L215.0 198.8L216.3 198.8L217.6 198.7L219.0 198.7L220.4 198.6L221.8 198.5L223.2 198.5L224.7 198.4L226.1 198.4L227.4 198.3L228.7 198.3L230.0 198.2L231.5 198.2L232.9 198.3L234.2 198.3L235.6 198.4L237.0 198.4L238.4 198.4L240.0 198.4L241.2 198.4L242.6 198.4L244.0 198.4L245.5 198.4L247.1 198.3L248.6 198.3L250.2 198.2L251.8 198.2L253.3 198.1L254.8 198.1L256.3 198.1L257.6 198.1L258.9 198.0L260.0 198.1L261.6 198.1L263.0 198.1L264.3 198.2L265.5 198.3L266.9 198.3L268.3 198.4L269.6 198.6L271.0 198.7L272.5 198.8L273.9 198.9L275.3 198.9L276.7 198.9L278.0 198.8L279.3 198.6L280.7 198.5L282.1 198.3L283.7 198.2L285.0 198.2L286.4 198.3L287.9 198.3L289.4 198.4L291.0 198.5L292.6 198.6L294.2 198.6L295.8 198.7L297.3 198.8L298.7 198.9L300.0 198.9L301.4 199.0L302.7 199.0L304.0 199.1L305.2 199.1L306.4 199.1L307.7 199.2L309.0 199.2L310.3 199.2L311.6 199.3L312.9 199.4L314.2 199.4L315.6 199.5L317.0 199.5L318.4 199.6L320.0 199.6L321.2 199.7L322.5 199.7L323.8 199.8L325.2 199.8L326.7 199.8L328.1 199.9L329.6 199.9L331.1 200.0L332.6 200.0L334.1 200.0L335.5 200.0L337.0 200.1L338.4 200.1L339.7 200.1L341.0 200.0L342.5 200.0L344.0 200.0L345.4 199.9L346.8 199.9L348.1 199.8L349.5 199.7L350.8 199.7L352.2 199.6L353.6 199.5L355.0 199.4L356.4 199.4L357.8 199.3L359.2 199.2L360.6 199.1L362.0 199.1L363.4 199.0L364.8 198.9L366.2 198.8L367.7 198.8L369.1 198.8L370.6 198.8L372.0 198.8L373.5 198.8L375.0 198.9L376.5 198.9L378.0 199.0L379.5 199.1L381.0 199.2L382.5 199.3L384.0 199.4L385.5 199.5L387.0 199.6L388.5 199.6" fill="none" stroke="#9400d3" stroke-width="1.55" stroke-linejoin="round" stroke-linecap="butt"/>
<path d="M76.5 25.3L76.9 26.1L77.2 27.0L77.4 27.9L77.6 29.0L77.8 30.2L78.0 31.5L78.1 32.6L78.3 33.8L78.5 35.1L78.6 36.4L78.8 37.9L79.0 39.4L79.2 41.0L79.3 42.1L79.5 43.3L79.6 44.6L79.7 45.9L79.8 47.3L80.0 48.7L80.1 50.1L80.2 51.6L80.4 53.1L80.5 54.6L80.7 56.1L80.8 57.6L80.9 59.1L81.0 60.6L81.2 62.1L81.3 63.6L81.4 65.0L81.5 66.4L81.7 67.8L81.8 69.2L81.9 70.6L82.0 72.1L82.1 73.5L82.2 74.9L82.4 76.3L82.5 77.7L82.6 79.1L82.7 80.5L82.8 81.9L82.9 83.4L83.0 84.8L83.1 86.2L83.2 87.6L83.3 89.0L83.4 90.4L83.5 91.8L83.6 93.2L83.8 94.6L83.9 96.1L84.0 97.5L84.1 98.9L84.2 100.3L84.2 101.7L84.3 103.1L84.4 104.5L84.5 105.9L84.6 107.4L84.7 108.8L84.8 110.2L84.9 111.6L85.0 113.0L85.1 114.4L85.2 115.8L85.3 117.2L85.4 118.6L85.5 120.1L85.6 121.5L85.7 122.9L85.8 124.3L85.9 125.7L86.0 127.1L86.1 128.5L86.2 129.9L86.2 131.4L86.3 132.8L86.4 134.2L86.5 135.6L86.6 137.0L86.7 138.4L86.8 139.8L86.9 141.2L87.0 142.6L87.1 144.1L87.2 145.5L87.3 146.9L87.4 148.3L87.5 149.7L87.6 151.1L87.7 152.5L87.8 153.9L87.8 155.4L87.9 156.8L88.0 158.2L88.1 159.6L88.2 161.0L88.3 162.4L88.4 163.8L88.5 165.2L88.6 166.6L88.7 168.1L88.8 169.5L89.0 170.9L89.1 172.3L89.2 173.7L89.3 175.1L89.4 176.5L89.5 177.9L89.6 179.4L89.7 180.8L89.8 182.2L89.9 183.6L90.0 185.0L90.1 186.4L90.2 187.8L90.3 189.2L90.5 190.6L90.6 192.1L90.7 193.5L90.8 194.9L90.9 196.3L91.0 197.7L91.1 199.1L91.2 200.5L91.3 201.9L91.5 203.3L91.6 204.8L91.8 206.2L91.9 207.6L92.1 209.0L92.3 210.5L92.4 212.0L92.6 213.6L92.9 215.2L93.1 216.8L93.3 218.4L93.5 220.1L93.8 221.7L94.0 223.3L94.2 224.8L94.5 226.3L94.7 227.7L94.9 229.1L95.2 230.3L95.4 231.5L95.6 232.5L95.8 233.4L96.1 234.8L96.4 235.9L96.8 236.8L97.2 237.8L98.0 239.2L98.9 240.5L99.8 241.0L100.6 240.5L101.5 239.1L102.3 237.8L102.8 236.8L103.2 235.9L103.7 234.8L104.2 233.4L104.5 232.5L104.8 231.4L105.2 230.2L105.6 228.9L106.0 227.4L106.4 225.9L106.8 224.3L107.3 222.7L107.7 221.1L108.2 219.4L108.6 217.8L109.1 216.2L109.5 214.6L109.9 213.2L110.2 211.8L110.6 210.6L110.9 209.4L111.4 207.9L111.8 206.4L112.1 205.1L112.5 203.9L112.9 202.7L113.3 201.3L113.7 200.1L114.0 198.8L114.4 197.5L114.8 196.1L115.2 194.9L115.7 193.7L116.2 192.6L117.0 191.4L117.9 190.2L118.8 189.2L119.8 188.3L120.9 187.7L122.2 187.2L123.4 187.1L124.5 187.3L125.5 187.8L126.6 188.4L127.7 189.0L128.8 189.8L130.0 190.6L131.0 191.5L132.1 192.3L133.3 193.2L134.4 194.1L135.5 195.0L136.5 195.9L137.5 196.9L138.6 197.8L139.8 198.3L141.1 198.8L142.4 199.2L143.7 199.4L145.1 199.6L146.5 199.5L148.0 199.4L149.2 199.4L150.5 199.3L151.8 199.2L153.1 199.0L154.3 198.8L155.5 198.6L156.7 198.3L158.0 198.0L159.4 197.8L160.8 197.6L162.3 197.4L163.9 197.2L165.2 197.2L166.7 197.3L168.1 197.4L169.6 197.6L171.1 197.7L172.6 197.8L173.9 197.8L175.3 197.8L176.6 197.8L178.0 197.9L179.4 197.8L180.7 197.8L182.0 197.8L183.4 197.6L184.7 197.5L186.1 197.3L187.4 197.1L188.7 196.9L190.0 196.8L191.5 196.6L192.9 196.5L194.3 196.4L195.8 196.4L197.2 196.4L198.7 196.5L200.1 196.7L201.6 197.0L203.0 197.2L204.5 197.4L205.9 197.7L207.4 197.9L208.8 198.1L210.3 198.3L211.7 198.6L213.1 198.8L214.6 199.1L216.0 199.3L217.5 199.5L218.9 199.6L220.4 199.7L221.8 199.6L223.3 199.6L224.7 199.4L226.2 199.3L227.6 199.1L229.1 198.9L230.5 198.7L232.0 198.4L233.4 198.2L234.8 198.1L236.2 198.0L237.6 197.9L239.1 197.9L240.6 197.8L241.9 197.8L243.2 197.9L244.6 197.9L245.9 197.9L247.3 198.0L248.7 198.0L250.0 197.9L251.4 197.9L252.8 197.7L254.2 197.5L255.6 197.4L257.0 197.2L258.4 197.1L259.8 197.0L261.2 197.0L262.7 196.9L264.1 196.9L265.5 196.9L266.9 196.9L268.3 197.0L269.7 197.2L271.1 197.3L272.5 197.5L273.9 197.7L275.3 198.0L276.7 198.3L278.1 198.6L279.5 199.1L280.9 199.5L282.3 199.8L283.7 200.0L285.1 200.2L286.5 200.3L287.9 200.3L289.4 200.2L290.8 200.1L292.2 200.1L293.6 199.9L295.0 199.7L296.4 199.5L297.8 199.2L299.2 199.0L300.6 198.8L302.0 198.6L303.4 198.4L304.7 198.3L306.1 198.2L307.5 198.1L309.0 197.9L310.3 197.8L311.7 197.7L313.1 197.5L314.5 197.3L315.9 197.2L317.3 197.1L318.7 197.1L320.0 197.1L321.5 197.3L322.9 197.6L324.3 197.9L325.6 198.3L327.0 198.6L328.4 198.8L329.8 198.8L331.2 198.8L332.7 198.8L334.1 198.7L335.5 198.5L336.9 198.3L338.3 198.1L339.7 197.8L341.1 197.4L342.5 197.1L343.9 196.8L345.3 196.6L346.7 196.6L348.1 196.7L349.6 196.8L351.0 197.0L352.4 197.3L353.7 197.5L355.1 198.0L356.5 198.5L357.8 199.1L359.1 199.6L360.5 200.0L361.8 200.4L363.2 200.8L364.5 201.0L365.9 201.2L367.2 201.3L368.6 201.3L369.9 201.2L371.3 201.0L372.7 200.8L374.0 200.4L375.3 200.0L376.7 199.5L378.0 199.0L379.3 198.4L380.7 197.9L382.0 197.6L383.2 197.3L384.6 197.0L385.9 196.7L387.2 196.4L388.5 196.1" fill="none" stroke="#ff9600" stroke-width="1.55" stroke-linejoin="round" stroke-linecap="butt"/>
</g>
<g clip-path="url(#cr)">
<path d="M491.5 274.8L492.7 274.8L493.8 274.8L495.0 274.8L496.2 274.8L497.3 274.8L498.5 274.8L499.7 274.8L500.8 274.8L502.0 274.8L503.2 274.8L504.3 274.8L505.5 274.8L506.7 274.8L507.8 274.8L509.0 274.8L510.2 274.8L511.3 274.8L512.5 274.8L513.7 274.8L514.8 274.8L516.0 274.7L517.1 274.7L518.3 274.7L519.5 274.7L520.6 274.7L521.8 274.7L522.9 274.7L524.1 274.7L525.2 274.7L526.4 274.7L527.5 274.7L528.7 274.7L530.0 274.7L531.2 274.7L532.5 274.7L533.8 274.7L535.1 274.7L536.4 274.7L537.7 274.7L539.0 274.7L540.3 274.6L541.6 274.6L542.9 274.6L544.1 274.6L545.4 274.6L546.7 274.6L547.9 274.6L549.2 274.6L550.4 274.6L551.6 274.6L552.7 274.6L553.9 274.5L555.0 274.5L556.1 274.5L557.1 274.5L558.2 274.5L559.1 274.4L560.1 274.4L561.0 274.4L562.4 274.4L563.7 274.3L565.0 274.3L566.1 274.2L567.2 274.2L568.3 274.1L569.4 274.0L570.4 274.0L571.5 273.9L572.6 273.8L573.7 273.7L574.8 273.6L575.9 273.5L577.0 273.4L578.1 273.3L579.1 273.1L580.2 273.0L581.2 272.8L582.2 272.6L583.4 272.4L584.5 272.1L585.6 271.8L586.7 271.5L587.8 271.1L588.9 270.8L589.9 270.4L590.9 270.0L591.9 269.6L592.9 269.1L593.9 268.6L594.8 268.1L595.7 267.5L596.6 266.9L597.4 266.2L598.2 265.5L599.0 264.8L599.8 264.0L600.5 263.2L601.1 262.3L601.8 261.4L602.4 260.5L602.9 259.5L603.4 258.5L603.9 257.4L604.4 256.4L604.9 255.4L605.3 254.3L605.7 253.2L606.0 252.1L606.4 251.0L606.8 249.7L607.0 248.7L607.3 247.6L607.6 246.5L607.9 245.4L608.1 244.2L608.4 243.0L608.7 241.8L608.9 240.6L609.2 239.4L609.4 238.3L609.6 237.3L609.8 236.1L610.0 234.9L610.2 233.8L610.4 232.7L610.6 231.6L610.7 230.6L610.9 229.7L611.1 228.7L611.3 227.8L611.5 226.9L611.8 225.7L611.9 224.9L612.0 224.0L612.1 223.1L612.2 222.1L612.4 221.0L612.5 219.8L612.6 218.6L612.7 217.4L612.9 216.2L613.0 214.9L613.1 213.6L613.2 212.4L613.4 211.1L613.5 209.9L613.6 208.7L613.7 207.6L613.8 206.4L613.9 205.3L614.0 204.1L614.1 203.0L614.2 201.8L614.3 200.6L614.4 199.5L614.6 198.3L614.7 197.1L614.8 195.9L614.9 194.7L615.0 193.5L615.1 192.3L615.2 191.1L615.3 189.9L615.4 188.7L615.5 187.6L615.6 186.4L615.7 185.3L615.8 184.1L616.0 183.0L616.1 181.8L616.2 180.7L616.3 179.5L616.4 178.3L616.5 177.2L616.7 176.0L616.8 174.9L616.9 173.7L617.0 172.5L617.1 171.4L617.2 170.2L617.3 169.0L617.4 167.9L617.5 166.7L617.6 165.5L617.7 164.4L617.8 163.2L617.8 162.1L617.9 160.9L618.0 159.8L618.1 158.6L618.1 157.4L618.2 156.3L618.3 155.1L618.3 154.0L618.4 152.8L618.4 151.6L618.5 150.5L618.6 149.3L618.6 148.2L618.7 147.0L618.7 145.9L618.8 144.7L618.9 143.5L618.9 142.4L619.0 141.2L619.0 140.1L619.1 138.9L619.1 137.8L619.2 136.6L619.2 135.4L619.2 134.3L619.3 133.1L619.3 132.0L619.4 130.8L619.4 129.6L619.5 128.5L619.5 127.3L619.6 126.2L619.6 125.0L619.7 123.9L619.8 122.7L619.8 121.5L619.9 120.4L619.9 119.2L620.0 118.1L620.1 116.9L620.2 115.8L620.2 114.6L620.3 113.4L620.4 112.3L620.5 111.1L620.5 110.0L620.6 108.8L620.7 107.6L620.8 106.5L620.8 105.3L620.9 104.2L621.0 103.0L621.1 101.9L621.1 100.7L621.2 99.5L621.3 98.4L621.4 97.2L621.4 96.1L621.5 94.9L621.6 93.8L621.7 92.6L621.7 91.4L621.8 90.3L621.9 89.1L621.9 88.0L622.0 86.8L622.1 85.6L622.2 84.5L622.2 83.3L622.3 82.2L622.4 81.0L622.5 79.9L622.5 78.7L622.6 77.5L622.7 76.3L622.8 75.1L622.9 73.9L623.0 72.6L623.1 71.3L623.2 70.1L623.3 68.8L623.4 67.6L623.4 66.3L623.5 65.1L623.6 63.9L623.7 62.7L623.8 61.6L623.9 60.5L624.0 59.5L624.1 58.5L624.2 57.6L624.3 56.7L624.5 55.3L624.6 54.1L624.8 52.9L625.0 51.9L625.1 50.8L625.3 49.7L625.4 48.6L625.6 47.4L625.7 46.3L625.8 45.1L626.0 44.1L626.1 43.1L626.3 42.1L626.4 41.1L626.6 40.2L626.8 39.5L627.1 38.8L627.5 38.4L627.9 38.8L628.3 39.5L628.6 40.2L628.8 41.1L629.1 42.1L629.3 43.1L629.5 44.1L629.6 45.1L629.8 46.3L629.9 47.4L630.1 48.6L630.2 49.7L630.4 50.8L630.5 51.9L630.7 52.9L630.9 54.1L631.0 55.3L631.2 56.7L631.3 57.6L631.4 58.5L631.5 59.5L631.6 60.5L631.7 61.6L631.8 62.7L631.9 63.9L632.0 65.1L632.1 66.3L632.2 67.6L632.3 68.8L632.4 70.1L632.5 71.3L632.6 72.6L632.7 73.9L632.8 75.1L632.9 76.3L633.0 77.5L633.1 78.7L633.2 79.9L633.3 81.0L633.4 82.2L633.5 83.3L633.6 84.5L633.8 85.6L633.9 86.8L634.0 88.0L634.1 89.1L634.2 90.3L634.3 91.4L634.4 92.6L634.5 93.8L634.6 94.9L634.8 96.1L634.9 97.2L635.0 98.4L635.1 99.5L635.2 100.7L635.3 101.9L635.4 103.1L635.5 104.3L635.6 105.5L635.7 106.7L635.8 107.9L635.9 109.1L636.0 110.4L636.1 111.6L636.2 112.8L636.4 114.0L636.5 115.2L636.6 116.3L636.7 117.5L636.8 118.6L636.9 119.7L637.0 120.7L637.1 121.7L637.2 122.7L637.3 124.0L637.5 125.2L637.6 126.3L637.8 127.4L637.9 128.5L638.1 129.5L638.2 130.6L638.4 131.6L638.5 132.6L638.7 133.7L638.9 134.9L639.1 136.1L639.3 137.3L639.6 138.2L639.8 139.0L640.0 139.9L640.2 140.6L640.4 141.3L640.6 141.9L640.8 142.6L640.9 143.1L641.1 143.7L641.2 144.6L641.4 145.6L641.6 146.5L641.9 147.1L642.3 147.6L642.7 148.0L643.2 148.4L643.6 148.8L644.1 149.2L644.5 149.7L645.0 150.0L645.5 150.2L646.1 150.0L646.8 149.6L647.5 149.2L648.2 149.6L648.9 150.0L649.5 150.2L650.0 150.0L650.5 149.7L650.9 149.2L651.4 148.8L651.8 148.4L652.3 148.0L652.7 147.6L653.1 147.1L653.4 146.5L653.6 145.6L653.8 144.6L653.9 143.7L654.1 143.1L654.2 142.6L654.4 141.9L654.6 141.3L654.8 140.6L655.0 139.9L655.2 139.0L655.4 138.2L655.7 137.3L655.9 136.1L656.1 134.9L656.3 133.7L656.5 132.6L656.6 131.6L656.8 130.6L656.9 129.5L657.1 128.5L657.2 127.4L657.4 126.3L657.5 125.2L657.7 124.0L657.8 122.7L657.9 121.7L658.0 120.7L658.1 119.7L658.2 118.6L658.3 117.5L658.4 116.3L658.5 115.2L658.6 114.0L658.8 112.8L658.9 111.6L659.0 110.4L659.1 109.1L659.2 107.9L659.3 106.7L659.4 105.5L659.5 104.3L659.6 103.1L659.7 101.9L659.8 100.7L659.9 99.5L660.0 98.4L660.1 97.2L660.2 96.1L660.4 94.9L660.5 93.8L660.6 92.6L660.7 91.4L660.8 90.3L660.9 89.1L661.0 88.0L661.1 86.8L661.2 85.6L661.4 84.5L661.5 83.3L661.6 82.2L661.7 81.0L661.8 79.9L661.9 78.7L662.0 77.5L662.1 76.3L662.2 75.1L662.3 73.9L662.4 72.6L662.5 71.3L662.6 70.1L662.7 68.8L662.8 67.6L662.9 66.3L663.0 65.1L663.1 63.9L663.2 62.7L663.3 61.6L663.4 60.5L663.5 59.5L663.6 58.5L663.7 57.6L663.8 56.7L664.0 55.3L664.1 54.1L664.3 52.9L664.5 51.9L664.6 50.8L664.8 49.7L664.9 48.6L665.1 47.4L665.2 46.3L665.4 45.1L665.5 44.1L665.7 43.1L665.9 42.1L666.2 41.1L666.4 40.2L666.7 39.5L667.1 38.8L667.5 38.4L667.9 38.8L668.2 39.5L668.4 40.2L668.6 41.1L668.7 42.1L668.9 43.1L669.0 44.1L669.2 45.1L669.3 46.3L669.4 47.4L669.6 48.6L669.7 49.7L669.9 50.8L670.0 51.9L670.2 52.9L670.4 54.1L670.5 55.3L670.7 56.7L670.8 57.6L670.9 58.5L671.0 59.5L671.1 60.5L671.2 61.6L671.3 62.7L671.4 63.9L671.5 65.1L671.6 66.3L671.6 67.6L671.7 68.8L671.8 70.1L671.9 71.3L672.0 72.6L672.1 73.9L672.2 75.1L672.3 76.3L672.4 77.5L672.5 78.7L672.5 79.9L672.6 81.0L672.7 82.2L672.8 83.3L672.8 84.5L672.9 85.6L673.0 86.8L673.1 88.0L673.1 89.1L673.2 90.3L673.3 91.4L673.3 92.6L673.4 93.8L673.5 94.9L673.6 96.1L673.6 97.2L673.7 98.4L673.8 99.5L673.9 100.7L673.9 101.9L674.0 103.0L674.1 104.2L674.2 105.3L674.2 106.5L674.3 107.6L674.4 108.8L674.5 110.0L674.5 111.1L674.6 112.3L674.7 113.4L674.8 114.6L674.8 115.8L674.9 116.9L675.0 118.1L675.1 119.2L675.1 120.4L675.2 121.5L675.2 122.7L675.3 123.9L675.4 125.0L675.4 126.2L675.5 127.3L675.5 128.5L675.6 129.6L675.6 130.8L675.7 132.0L675.7 133.1L675.8 134.3L675.8 135.4L675.8 136.6L675.9 137.8L675.9 138.9L676.0 140.1L676.0 141.2L676.1 142.4L676.1 143.5L676.2 144.7L676.3 145.9L676.3 147.0L676.4 148.2L676.4 149.3L676.5 150.5L676.6 151.6L676.6 152.8L676.7 154.0L676.7 155.1L676.8 156.3L676.9 157.4L676.9 158.6L677.0 159.8L677.1 160.9L677.2 162.1L677.2 163.2L677.3 164.4L677.4 165.5L677.5 166.7L677.6 167.9L677.7 169.0L677.8 170.2L677.9 171.4L678.0 172.5L678.1 173.7L678.2 174.9L678.3 176.0L678.5 177.2L678.6 178.3L678.7 179.5L678.8 180.7L678.9 181.8L679.0 183.0L679.2 184.1L679.3 185.3L679.4 186.4L679.5 187.6L679.6 188.7L679.7 189.9L679.8 191.1L679.9 192.3L680.0 193.5L680.1 194.7L680.2 195.9L680.3 197.1L680.4 198.3L680.6 199.5L680.7 200.6L680.8 201.8L680.9 203.0L681.0 204.1L681.1 205.3L681.2 206.4L681.3 207.6L681.4 208.7L681.5 209.9L681.6 211.1L681.8 212.4L681.9 213.6L682.0 214.9L682.1 216.2L682.3 217.4L682.4 218.6L682.5 219.8L682.6 221.0L682.8 222.1L682.9 223.1L683.0 224.0L683.1 224.9L683.2 225.7L683.5 226.9L683.7 227.8L683.9 228.7L684.1 229.7L684.3 230.6L684.4 231.6L684.6 232.7L684.8 233.8L685.0 234.9L685.2 236.1L685.4 237.3L685.6 238.3L685.8 239.4L686.1 240.6L686.3 241.8L686.6 243.0L686.9 244.2L687.1 245.4L687.4 246.5L687.7 247.6L688.0 248.7L688.2 249.7L688.6 251.0L689.0 252.1L689.3 253.2L689.7 254.3L690.1 255.4L690.6 256.4L691.1 257.4L691.6 258.5L692.1 259.5L692.6 260.5L693.2 261.4L693.9 262.3L694.5 263.2L695.2 264.0L696.0 264.8L696.8 265.5L697.6 266.2L698.4 266.9L699.3 267.5L700.2 268.1L701.1 268.6L702.1 269.1L703.1 269.6L704.1 270.0L705.1 270.4L706.1 270.8L707.2 271.1L708.3 271.5L709.4 271.8L710.5 272.1L711.6 272.4L712.8 272.6L713.8 272.8L714.8 273.0L715.9 273.1L716.9 273.3L718.0 273.4L719.1 273.5L720.2 273.6L721.3 273.7L722.4 273.8L723.5 273.9L724.6 274.0L725.6 274.0L726.7 274.1L727.8 274.2L728.9 274.2L730.0 274.3L731.3 274.3L732.6 274.4L734.0 274.4L734.9 274.4L735.9 274.4L736.8 274.5L737.9 274.5L738.9 274.5L740.0 274.5L741.1 274.5L742.3 274.6L743.4 274.6L744.6 274.6L745.8 274.6L747.1 274.6L748.3 274.6L749.6 274.6L750.9 274.6L752.1 274.6L753.4 274.6L754.7 274.6L756.0 274.7L757.3 274.7L758.6 274.7L759.9 274.7L761.2 274.7L762.5 274.7L763.8 274.7L765.0 274.7L766.3 274.7L767.5 274.7L768.6 274.7L769.8 274.7L770.9 274.7L772.1 274.7L773.2 274.7L774.4 274.7L775.5 274.7L776.7 274.7L777.9 274.7L779.0 274.7L780.2 274.8L781.3 274.8L782.5 274.8L783.7 274.8L784.8 274.8L786.0 274.8L787.2 274.8L788.3 274.8L789.5 274.8L790.7 274.8L791.8 274.8L793.0 274.8L794.2 274.8L795.3 274.8L796.5 274.8L797.7 274.8L798.8 274.8L800.0 274.8L801.2 274.8L802.3 274.8L803.5 274.8L803.5 275.4L802.3 275.4L801.2 275.4L800.0 275.4L798.8 275.4L797.7 275.4L796.5 275.4L795.3 275.4L794.2 275.4L793.0 275.4L791.8 275.4L790.7 275.4L789.5 275.4L788.3 275.4L787.2 275.4L786.0 275.4L784.8 275.4L783.7 275.4L782.5 275.4L781.3 275.4L780.2 275.4L779.0 275.3L777.9 275.3L776.7 275.3L775.5 275.3L774.4 275.3L773.2 275.3L772.1 275.3L770.9 275.3L769.8 275.3L768.6 275.3L767.5 275.3L766.3 275.3L765.0 275.3L763.8 275.3L762.5 275.3L761.2 275.3L759.9 275.3L758.6 275.3L757.3 275.3L756.0 275.3L754.7 275.2L753.4 275.2L752.1 275.2L750.9 275.2L749.6 275.2L748.3 275.2L747.1 275.2L745.8 275.2L744.6 275.2L743.4 275.2L742.3 275.2L741.1 275.1L740.0 275.1L738.9 275.1L737.9 275.1L736.8 275.1L735.9 275.0L734.9 275.0L734.0 275.0L732.6 275.0L731.3 274.9L730.0 274.9L728.9 274.8L727.8 274.8L726.7 274.7L725.6 274.6L724.6 274.6L723.5 274.5L722.4 274.4L721.3 274.3L720.2 274.2L719.1 274.1L718.0 274.0L716.9 273.9L715.9 273.7L714.8 273.6L713.8 273.4L712.8 273.2L711.6 273.0L710.5 272.7L709.4 272.4L708.3 272.1L707.2 271.7L706.1 271.4L705.1 271.0L704.1 270.6L703.1 270.2L702.1 269.7L701.1 269.2L700.2 268.7L699.3 268.1L698.4 267.5L697.6 266.8L696.8 266.1L696.0 265.4L695.2 264.6L694.5 263.8L693.9 262.9L693.2 262.0L692.6 261.1L692.1 260.1L691.6 259.1L691.1 258.0L690.6 257.1L690.1 256.0L689.7 254.9L689.3 253.8L689.0 252.7L688.6 251.6L688.2 250.3L688.0 249.3L687.7 248.2L687.4 247.1L687.1 246.0L686.9 244.8L686.6 243.6L686.3 242.4L686.1 241.2L685.8 240.0L685.6 238.9L685.4 237.9L685.2 236.7L685.0 235.5L684.8 234.4L684.6 233.3L684.4 232.2L684.3 231.2L684.1 230.3L683.9 229.3L683.7 228.4L683.5 227.5L683.2 226.3L683.1 225.5L683.0 224.6L682.9 223.7L682.8 222.7L682.6 221.6L682.5 220.4L682.4 219.2L682.3 218.0L682.1 216.8L682.0 215.5L681.9 214.2L681.8 213.0L681.6 211.7L681.5 210.5L681.4 209.3L681.3 208.2L681.2 207.0L681.1 205.9L681.0 204.7L680.9 203.6L680.8 202.4L680.7 201.2L680.6 200.1L680.4 198.9L680.3 197.7L680.2 196.5L680.1 195.3L680.0 194.1L679.9 192.9L679.8 191.7L679.7 190.5L679.6 189.3L679.5 188.2L679.4 187.0L679.3 185.9L679.2 184.7L679.0 183.6L678.9 182.4L678.8 181.3L678.7 180.1L678.6 178.9L678.5 177.8L678.3 176.6L678.2 175.5L678.1 174.3L678.0 173.1L677.9 172.0L677.8 170.8L677.7 169.6L677.6 168.5L677.5 167.3L677.4 166.1L677.3 165.0L677.2 163.8L677.2 162.7L677.1 161.5L677.0 160.4L676.9 159.2L676.9 158.0L676.8 156.9L676.7 155.7L676.7 154.6L676.6 153.4L676.6 152.2L676.5 151.1L676.4 149.9L676.4 148.8L676.3 147.6L676.3 146.5L676.2 145.3L676.1 144.1L676.1 143.0L676.0 141.8L676.0 140.7L675.9 139.5L675.9 138.4L675.8 137.2L675.8 136.0L675.8 134.9L675.7 133.7L675.7 132.6L675.6 131.4L675.6 130.2L675.5 129.1L675.5 127.9L675.4 126.8L675.4 125.6L675.3 124.5L675.2 123.3L675.2 122.1L675.1 121.0L675.1 119.8L675.0 118.7L674.9 117.5L674.8 116.4L674.8 115.2L674.7 114.0L674.6 112.9L674.5 111.7L674.5 110.6L674.4 109.4L674.3 108.2L674.2 107.1L674.2 105.9L674.1 104.8L674.0 103.6L673.9 102.5L673.9 101.3L673.8 100.1L673.7 99.0L673.6 97.8L673.6 96.7L673.5 95.5L673.4 94.4L673.3 93.2L673.3 92.0L673.2 90.9L673.1 89.7L673.1 88.6L673.0 87.4L672.9 86.2L672.8 85.1L672.8 83.9L672.7 82.8L672.6 81.6L672.5 80.5L672.5 79.3L672.4 78.1L672.3 76.9L672.2 75.7L672.1 74.5L672.0 73.2L671.9 71.9L671.8 70.7L671.7 69.4L671.6 68.2L671.6 66.9L671.5 65.7L671.4 64.5L671.3 63.3L671.2 62.2L671.1 61.1L671.0 60.1L670.9 59.1L670.8 58.2L670.7 57.3L670.5 55.9L670.4 54.7L670.2 53.5L670.0 52.5L669.9 51.4L669.7 50.3L669.6 49.2L669.4 48.0L669.3 46.9L669.2 45.7L669.0 44.7L668.9 43.7L668.7 42.7L668.6 41.7L668.4 40.8L668.2 40.1L667.9 39.4L667.5 39.0L667.1 39.4L666.7 40.1L666.4 40.8L666.2 41.7L665.9 42.7L665.7 43.7L665.5 44.7L665.4 45.7L665.2 46.9L665.1 48.0L664.9 49.2L664.8 50.3L664.6 51.4L664.5 52.5L664.3 53.5L664.1 54.7L664.0 55.9L663.8 57.3L663.7 58.2L663.6 59.1L663.5 60.1L663.4 61.1L663.3 62.2L663.2 63.3L663.1 64.5L663.0 65.7L662.9 66.9L662.8 68.2L662.7 69.4L662.6 70.7L662.5 71.9L662.4 73.2L662.3 74.5L662.2 75.7L662.1 76.9L662.0 78.1L661.9 79.3L661.8 80.5L661.7 81.6L661.6 82.8L661.5 83.9L661.4 85.1L661.2 86.2L661.1 87.4L661.0 88.6L660.9 89.7L660.8 90.9L660.7 92.0L660.6 93.2L660.5 94.4L660.4 95.5L660.2 96.7L660.1 97.8L660.0 99.0L659.9 100.1L659.8 101.3L659.7 102.5L659.6 103.7L659.5 104.9L659.4 106.1L659.3 107.3L659.2 108.5L659.1 109.7L659.0 111.0L658.9 112.2L658.8 113.4L658.6 114.6L658.5 115.8L658.4 116.9L658.3 118.1L658.2 119.2L658.1 120.3L658.0 121.3L657.9 122.3L657.8 123.3L657.7 124.6L657.5 125.8L657.4 126.9L657.2 128.0L657.1 129.1L656.9 130.1L656.8 131.2L656.6 132.2L656.5 133.2L656.3 134.3L656.1 135.5L655.9 136.7L655.7 138.0L655.4 139.5L655.2 141.0L655.0 142.5L654.8 143.8L654.6 145.1L654.4 146.1L654.2 147.3L654.1 148.3L653.9 149.3L653.8 150.6L653.6 151.9L653.4 153.5L653.1 154.8L652.7 156.4L652.3 158.0L651.8 159.7L651.4 161.2L650.9 162.9L650.5 164.6L650.0 166.3L649.5 167.8L648.9 169.4L648.2 170.9L647.5 172.4L646.8 170.9L646.1 169.4L645.5 167.8L645.0 166.3L644.5 164.6L644.1 162.9L643.6 161.2L643.2 159.7L642.7 158.0L642.3 156.4L641.9 154.8L641.6 153.5L641.4 151.9L641.2 150.6L641.1 149.3L640.9 148.3L640.8 147.3L640.6 146.1L640.4 145.1L640.2 143.8L640.0 142.5L639.8 141.0L639.6 139.5L639.3 138.0L639.1 136.7L638.9 135.5L638.7 134.3L638.5 133.2L638.4 132.2L638.2 131.2L638.1 130.1L637.9 129.1L637.8 128.0L637.6 126.9L637.5 125.8L637.3 124.6L637.2 123.3L637.1 122.3L637.0 121.3L636.9 120.3L636.8 119.2L636.7 118.1L636.6 116.9L636.5 115.8L636.4 114.6L636.2 113.4L636.1 112.2L636.0 111.0L635.9 109.7L635.8 108.5L635.7 107.3L635.6 106.1L635.5 104.9L635.4 103.7L635.3 102.5L635.2 101.3L635.1 100.1L635.0 99.0L634.9 97.8L634.8 96.7L634.6 95.5L634.5 94.4L634.4 93.2L634.3 92.0L634.2 90.9L634.1 89.7L634.0 88.6L633.9 87.4L633.8 86.2L633.6 85.1L633.5 83.9L633.4 82.8L633.3 81.6L633.2 80.5L633.1 79.3L633.0 78.1L632.9 76.9L632.8 75.7L632.7 74.5L632.6 73.2L632.5 71.9L632.4 70.7L632.3 69.4L632.2 68.2L632.1 66.9L632.0 65.7L631.9 64.5L631.8 63.3L631.7 62.2L631.6 61.1L631.5 60.1L631.4 59.1L631.3 58.2L631.2 57.3L631.0 55.9L630.9 54.7L630.7 53.5L630.5 52.5L630.4 51.4L630.2 50.3L630.1 49.2L629.9 48.0L629.8 46.9L629.6 45.7L629.5 44.7L629.3 43.7L629.1 42.7L628.8 41.7L628.6 40.8L628.3 40.1L627.9 39.4L627.5 39.0L627.1 39.4L626.8 40.1L626.6 40.8L626.4 41.7L626.3 42.7L626.1 43.7L626.0 44.7L625.8 45.7L625.7 46.9L625.6 48.0L625.4 49.2L625.3 50.3L625.1 51.4L625.0 52.5L624.8 53.5L624.6 54.7L624.5 55.9L624.3 57.3L624.2 58.2L624.1 59.1L624.0 60.1L623.9 61.1L623.8 62.2L623.7 63.3L623.6 64.5L623.5 65.7L623.4 66.9L623.4 68.2L623.3 69.4L623.2 70.7L623.1 71.9L623.0 73.2L622.9 74.5L622.8 75.7L622.7 76.9L622.6 78.1L622.5 79.3L622.5 80.5L622.4 81.6L622.3 82.8L622.2 83.9L622.2 85.1L622.1 86.2L622.0 87.4L621.9 88.6L621.9 89.7L621.8 90.9L621.7 92.0L621.7 93.2L621.6 94.4L621.5 95.5L621.4 96.7L621.4 97.8L621.3 99.0L621.2 100.1L621.1 101.3L621.1 102.5L621.0 103.6L620.9 104.8L620.8 105.9L620.8 107.1L620.7 108.2L620.6 109.4L620.5 110.6L620.5 111.7L620.4 112.9L620.3 114.0L620.2 115.2L620.2 116.4L620.1 117.5L620.0 118.7L619.9 119.8L619.9 121.0L619.8 122.1L619.8 123.3L619.7 124.5L619.6 125.6L619.6 126.8L619.5 127.9L619.5 129.1L619.4 130.2L619.4 131.4L619.3 132.6L619.3 133.7L619.2 134.9L619.2 136.0L619.2 137.2L619.1 138.4L619.1 139.5L619.0 140.7L619.0 141.8L618.9 143.0L618.9 144.1L618.8 145.3L618.7 146.5L618.7 147.6L618.6 148.8L618.6 149.9L618.5 151.1L618.4 152.2L618.4 153.4L618.3 154.6L618.3 155.7L618.2 156.9L618.1 158.0L618.1 159.2L618.0 160.4L617.9 161.5L617.8 162.7L617.8 163.8L617.7 165.0L617.6 166.1L617.5 167.3L617.4 168.5L617.3 169.6L617.2 170.8L617.1 172.0L617.0 173.1L616.9 174.3L616.8 175.5L616.7 176.6L616.5 177.8L616.4 178.9L616.3 180.1L616.2 181.3L616.1 182.4L616.0 183.6L615.8 184.7L615.7 185.9L615.6 187.0L615.5 188.2L615.4 189.3L615.3 190.5L615.2 191.7L615.1 192.9L615.0 194.1L614.9 195.3L614.8 196.5L614.7 197.7L614.6 198.9L614.4 200.1L614.3 201.2L614.2 202.4L614.1 203.6L614.0 204.7L613.9 205.9L613.8 207.0L613.7 208.2L613.6 209.3L613.5 210.5L613.4 211.7L613.2 213.0L613.1 214.2L613.0 215.5L612.9 216.8L612.7 218.0L612.6 219.2L612.5 220.4L612.4 221.6L612.2 222.7L612.1 223.7L612.0 224.6L611.9 225.5L611.8 226.3L611.5 227.5L611.3 228.4L611.1 229.3L610.9 230.3L610.7 231.2L610.6 232.2L610.4 233.3L610.2 234.4L610.0 235.5L609.8 236.7L609.6 237.9L609.4 238.9L609.2 240.0L608.9 241.2L608.7 242.4L608.4 243.6L608.1 244.8L607.9 246.0L607.6 247.1L607.3 248.2L607.0 249.3L606.8 250.3L606.4 251.6L606.0 252.7L605.7 253.8L605.3 254.9L604.9 256.0L604.4 257.1L603.9 258.0L603.4 259.1L602.9 260.1L602.4 261.1L601.8 262.0L601.1 262.9L600.5 263.8L599.8 264.6L599.0 265.4L598.2 266.1L597.4 266.8L596.6 267.5L595.7 268.1L594.8 268.7L593.9 269.2L592.9 269.7L591.9 270.2L590.9 270.6L589.9 271.0L588.9 271.4L587.8 271.7L586.7 272.1L585.6 272.4L584.5 272.7L583.4 273.0L582.2 273.2L581.2 273.4L580.2 273.6L579.1 273.7L578.1 273.9L577.0 274.0L575.9 274.1L574.8 274.2L573.7 274.3L572.6 274.4L571.5 274.5L570.4 274.6L569.4 274.6L568.3 274.7L567.2 274.8L566.1 274.8L565.0 274.9L563.7 274.9L562.4 275.0L561.0 275.0L560.1 275.0L559.1 275.0L558.2 275.1L557.1 275.1L556.1 275.1L555.0 275.1L553.9 275.1L552.7 275.2L551.6 275.2L550.4 275.2L549.2 275.2L547.9 275.2L546.7 275.2L545.4 275.2L544.1 275.2L542.9 275.2L541.6 275.2L540.3 275.2L539.0 275.3L537.7 275.3L536.4 275.3L535.1 275.3L533.8 275.3L532.5 275.3L531.2 275.3L530.0 275.3L528.7 275.3L527.5 275.3L526.4 275.3L525.2 275.3L524.1 275.3L522.9 275.3L521.8 275.3L520.6 275.3L519.5 275.3L518.3 275.3L517.1 275.3L516.0 275.3L514.8 275.4L513.7 275.4L512.5 275.4L511.3 275.4L510.2 275.4L509.0 275.4L507.8 275.4L506.7 275.4L505.5 275.4L504.3 275.4L503.2 275.4L502.0 275.4L500.8 275.4L499.7 275.4L498.5 275.4L497.3 275.4L496.2 275.4L495.0 275.4L493.8 275.4L492.7 275.4L491.5 275.4Z" fill="#ff0000" fill-opacity="0.3"/>
<path d="M491.5 274.8L492.7 274.8L493.9 274.8L495.1 274.8L496.3 274.8L497.5 274.8L498.7 274.8L499.9 274.8L501.1 274.8L502.3 274.8L503.5 274.8L504.7 274.8L505.9 274.8L507.1 274.8L508.3 274.8L509.5 274.8L510.7 274.8L511.8 274.8L513.0 274.8L514.2 274.8L515.4 274.8L516.6 274.7L517.8 274.7L519.0 274.7L520.2 274.7L521.3 274.7L522.5 274.7L523.7 274.7L524.9 274.7L526.1 274.7L527.3 274.7L528.6 274.6L529.8 274.6L531.0 274.6L532.3 274.6L533.5 274.6L534.8 274.6L536.0 274.6L537.2 274.6L538.4 274.5L539.6 274.5L540.8 274.5L542.0 274.5L543.1 274.5L544.3 274.4L545.4 274.4L546.5 274.4L547.5 274.3L548.5 274.3L549.5 274.3L550.5 274.2L551.4 274.2L552.8 274.1L554.1 274.1L555.3 274.0L556.5 273.9L557.6 273.8L558.7 273.7L559.8 273.6L560.8 273.5L561.9 273.4L563.0 273.3L564.1 273.2L565.2 273.0L566.3 272.9L567.4 272.7L568.5 272.5L569.5 272.3L570.6 272.1L571.6 271.9L572.6 271.7L573.8 271.4L574.9 271.2L576.0 270.9L577.1 270.6L578.2 270.2L579.2 269.9L580.3 269.5L581.3 269.1L582.3 268.7L583.3 268.2L584.3 267.7L585.3 267.2L586.2 266.7L587.0 266.1L588.0 265.4L588.8 264.8L589.6 264.0L590.4 263.3L591.2 262.5L591.9 261.7L592.6 260.9L593.3 260.1L593.9 259.2L594.5 258.3L595.1 257.4L595.7 256.4L596.2 255.6L596.6 254.7L597.0 253.8L597.4 252.8L597.8 251.8L598.2 250.8L598.6 249.7L599.0 248.7L599.5 247.6L599.9 246.5L600.3 245.4L600.8 244.2L601.2 243.0L601.6 241.8L602.1 240.6L602.4 239.4L602.8 238.3L603.1 237.3L603.4 236.1L603.7 234.9L603.9 233.8L604.2 232.7L604.4 231.6L604.6 230.6L604.8 229.7L605.0 228.7L605.2 227.8L605.4 226.9L605.6 225.7L605.7 224.9L605.9 224.0L606.0 223.1L606.1 222.1L606.3 221.0L606.4 219.8L606.5 218.6L606.7 217.4L606.8 216.2L607.0 214.9L607.1 213.6L607.2 212.4L607.4 211.1L607.5 209.9L607.6 208.7L607.8 207.6L607.9 206.4L608.0 205.3L608.1 204.1L608.2 203.0L608.4 201.8L608.5 200.6L608.6 199.5L608.7 198.3L608.8 197.1L608.9 195.9L609.0 194.7L609.2 193.5L609.3 192.3L609.4 191.1L609.5 189.9L609.6 188.7L609.8 187.6L609.9 186.4L610.0 185.3L610.2 184.1L610.3 183.0L610.4 181.8L610.5 180.7L610.7 179.5L610.8 178.3L611.0 177.2L611.1 176.0L611.2 174.9L611.4 173.7L611.5 172.5L611.6 171.4L611.7 170.2L611.9 169.0L612.0 167.9L612.1 166.7L612.2 165.5L612.3 164.4L612.4 163.2L612.5 162.1L612.6 160.9L612.8 159.8L612.9 158.6L613.0 157.4L613.1 156.3L613.2 155.1L613.3 154.0L613.4 152.8L613.4 151.6L613.5 150.5L613.6 149.3L613.7 148.2L613.8 147.0L613.9 145.9L614.0 144.7L614.1 143.5L614.2 142.4L614.3 141.2L614.3 140.1L614.4 138.9L614.5 137.8L614.6 136.6L614.7 135.4L614.8 134.3L614.8 133.1L614.9 132.0L615.0 130.8L615.1 129.6L615.1 128.5L615.2 127.3L615.3 126.2L615.4 125.0L615.4 123.9L615.5 122.7L615.6 121.5L615.6 120.4L615.7 119.2L615.8 118.1L615.8 116.9L615.9 115.8L615.9 114.6L616.0 113.4L616.1 112.3L616.1 111.1L616.2 110.0L616.2 108.8L616.3 107.6L616.4 106.5L616.4 105.3L616.5 104.2L616.6 103.0L616.7 101.9L616.8 100.7L616.8 99.5L616.9 98.3L617.0 97.1L617.1 95.9L617.2 94.7L617.3 93.4L617.4 92.2L617.5 90.9L617.6 89.7L617.8 88.5L617.9 87.3L618.0 86.1L618.1 84.9L618.2 83.8L618.3 82.7L618.4 81.6L618.5 80.6L618.6 79.6L618.7 78.7L618.8 77.4L619.0 76.1L619.1 75.0L619.3 73.8L619.4 72.8L619.5 71.7L619.7 70.7L619.8 69.7L619.9 68.6L620.1 67.5L620.2 66.4L620.4 65.4L620.5 64.5L620.7 63.7L621.0 62.3L621.3 61.5L621.6 62.3L621.9 63.7L622.1 64.5L622.3 65.5L622.5 66.5L622.7 67.6L622.9 68.7L623.1 69.6L623.3 70.6L623.5 71.6L623.7 72.7L623.9 73.8L624.1 74.9L624.4 76.1L624.6 77.4L624.8 78.7L625.0 79.7L625.1 80.7L625.3 81.7L625.4 82.8L625.6 83.9L625.8 85.0L625.9 86.2L626.1 87.4L626.2 88.6L626.4 89.8L626.6 91.0L626.7 92.2L626.9 93.5L627.0 94.7L627.2 95.9L627.3 97.1L627.4 98.3L627.6 99.5L627.7 100.7L627.8 101.9L627.9 103.0L628.0 104.2L628.1 105.3L628.2 106.5L628.3 107.6L628.4 108.8L628.4 110.0L628.5 111.1L628.6 112.3L628.6 113.4L628.7 114.6L628.8 115.8L628.9 116.9L628.9 118.1L629.0 119.2L629.1 120.4L629.2 121.5L629.3 122.7L629.4 123.9L629.5 125.1L629.6 126.4L629.7 127.7L629.8 129.0L629.9 130.3L630.0 131.7L630.1 133.0L630.3 134.3L630.4 135.6L630.5 136.8L630.6 138.0L630.8 139.2L630.9 140.3L631.0 141.4L631.2 142.3L631.4 143.2L631.5 144.0L631.7 144.7L632.1 145.7L632.5 146.5L632.9 147.2L633.3 147.7L633.8 148.0L634.3 148.4L634.9 148.8L635.4 149.2L635.8 149.8L636.1 150.7L636.4 152.0L636.6 153.3L636.8 154.5L637.0 155.8L637.1 157.1L637.3 158.3L637.4 159.5L637.5 160.8L637.6 162.0L637.7 163.2L637.8 164.3L637.9 165.5L638.0 166.5L638.2 167.8L638.3 168.9L638.6 170.0L638.8 171.3L639.0 172.4L639.3 173.4L639.6 174.4L639.9 175.4L640.2 176.4L640.6 177.2L641.1 177.6L641.7 177.9L642.3 178.1L642.9 178.2L643.5 178.1L644.2 177.9L644.9 177.6L645.6 177.2L646.6 176.7L647.5 176.2L648.4 176.7L649.4 177.2L650.1 177.6L650.8 177.9L651.5 178.1L652.1 178.2L652.7 178.1L653.3 177.9L653.9 177.6L654.4 177.2L654.8 176.4L655.1 175.4L655.4 174.4L655.7 173.4L656.0 172.4L656.2 171.3L656.4 170.0L656.7 168.9L656.8 167.8L657.0 166.5L657.1 165.5L657.2 164.3L657.3 163.2L657.4 162.0L657.5 160.8L657.6 159.5L657.7 158.3L657.9 157.1L658.0 155.8L658.2 154.5L658.4 153.3L658.6 152.0L658.9 150.7L659.2 149.8L659.6 149.2L660.1 148.8L660.7 148.4L661.2 148.0L661.7 147.7L662.1 147.2L662.5 146.5L662.9 145.7L663.3 144.7L663.5 144.0L663.6 143.2L663.8 142.3L664.0 141.4L664.1 140.3L664.2 139.2L664.4 138.0L664.5 136.8L664.6 135.6L664.7 134.3L664.9 133.0L665.0 131.7L665.1 130.3L665.2 129.0L665.3 127.7L665.4 126.4L665.5 125.1L665.6 123.9L665.7 122.7L665.8 121.5L665.9 120.4L666.0 119.2L666.1 118.1L666.1 116.9L666.2 115.8L666.3 114.6L666.4 113.4L666.4 112.3L666.5 111.1L666.6 110.0L666.6 108.8L666.7 107.6L666.8 106.5L666.9 105.3L667.0 104.2L667.1 103.0L667.2 101.9L667.3 100.7L667.4 99.5L667.6 98.3L667.7 97.1L667.8 95.9L668.0 94.7L668.1 93.5L668.3 92.2L668.4 91.0L668.6 89.8L668.8 88.6L668.9 87.4L669.1 86.2L669.2 85.0L669.4 83.9L669.6 82.8L669.7 81.7L669.9 80.7L670.0 79.7L670.2 78.7L670.4 77.4L670.6 76.1L670.9 74.9L671.1 73.8L671.3 72.7L671.5 71.6L671.7 70.6L671.9 69.6L672.1 68.7L672.3 67.6L672.5 66.5L672.7 65.5L672.9 64.5L673.1 63.7L673.4 62.3L673.7 61.5L674.0 62.3L674.3 63.7L674.5 64.5L674.6 65.4L674.8 66.4L674.9 67.5L675.1 68.6L675.2 69.7L675.3 70.7L675.5 71.7L675.6 72.8L675.7 73.8L675.9 75.0L676.0 76.1L676.2 77.4L676.3 78.7L676.4 79.6L676.5 80.6L676.6 81.6L676.7 82.7L676.8 83.8L676.9 84.9L677.0 86.1L677.1 87.3L677.2 88.5L677.4 89.7L677.5 90.9L677.6 92.2L677.7 93.4L677.8 94.7L677.9 95.9L678.0 97.1L678.1 98.3L678.2 99.5L678.2 100.7L678.3 101.9L678.4 103.0L678.5 104.2L678.6 105.3L678.6 106.5L678.7 107.6L678.8 108.8L678.8 110.0L678.9 111.1L678.9 112.3L679.0 113.4L679.1 114.6L679.1 115.8L679.2 116.9L679.2 118.1L679.3 119.2L679.4 120.4L679.4 121.5L679.5 122.7L679.6 123.9L679.6 125.0L679.7 126.2L679.8 127.3L679.9 128.5L679.9 129.6L680.0 130.8L680.1 132.0L680.2 133.1L680.2 134.3L680.3 135.4L680.4 136.6L680.5 137.8L680.6 138.9L680.7 140.1L680.7 141.2L680.8 142.4L680.9 143.5L681.0 144.7L681.1 145.9L681.2 147.0L681.3 148.2L681.4 149.3L681.5 150.5L681.6 151.6L681.6 152.8L681.7 154.0L681.8 155.1L681.9 156.3L682.0 157.4L682.1 158.6L682.2 159.8L682.4 160.9L682.5 162.1L682.6 163.2L682.7 164.4L682.8 165.5L682.9 166.7L683.0 167.9L683.1 169.0L683.3 170.2L683.4 171.4L683.5 172.5L683.6 173.7L683.8 174.9L683.9 176.0L684.0 177.2L684.2 178.3L684.3 179.5L684.5 180.7L684.6 181.8L684.7 183.0L684.8 184.1L685.0 185.3L685.1 186.4L685.2 187.6L685.4 188.7L685.5 189.9L685.6 191.1L685.7 192.3L685.8 193.5L686.0 194.7L686.1 195.9L686.2 197.1L686.3 198.3L686.4 199.5L686.5 200.6L686.6 201.8L686.8 203.0L686.9 204.1L687.0 205.3L687.1 206.4L687.2 207.6L687.4 208.7L687.5 209.9L687.6 211.1L687.8 212.4L687.9 213.6L688.0 214.9L688.2 216.2L688.3 217.4L688.5 218.6L688.6 219.8L688.7 221.0L688.9 222.1L689.0 223.1L689.1 224.0L689.3 224.9L689.4 225.7L689.6 226.9L689.8 227.8L690.0 228.7L690.2 229.7L690.4 230.6L690.6 231.6L690.8 232.7L691.1 233.8L691.3 234.9L691.6 236.1L691.9 237.3L692.2 238.3L692.6 239.4L692.9 240.6L693.4 241.8L693.8 243.0L694.2 244.2L694.7 245.4L695.1 246.5L695.5 247.6L696.0 248.7L696.4 249.7L696.8 250.8L697.2 251.8L697.6 252.8L698.0 253.8L698.4 254.7L698.8 255.6L699.3 256.4L699.9 257.4L700.5 258.3L701.1 259.2L701.7 260.1L702.4 260.9L703.1 261.7L703.8 262.5L704.6 263.3L705.4 264.0L706.2 264.8L707.0 265.4L708.0 266.1L708.8 266.7L709.7 267.2L710.7 267.7L711.7 268.2L712.7 268.7L713.7 269.1L714.7 269.5L715.8 269.9L716.8 270.2L717.9 270.6L719.0 270.9L720.1 271.2L721.2 271.4L722.4 271.7L723.4 271.9L724.4 272.1L725.5 272.3L726.5 272.5L727.6 272.7L728.7 272.9L729.8 273.0L730.9 273.2L732.0 273.3L733.1 273.4L734.2 273.5L735.2 273.6L736.3 273.7L737.4 273.8L738.5 273.9L739.7 274.0L740.9 274.1L742.2 274.1L743.6 274.2L744.5 274.2L745.5 274.3L746.5 274.3L747.5 274.3L748.5 274.4L749.6 274.4L750.7 274.4L751.9 274.5L753.0 274.5L754.2 274.5L755.4 274.5L756.6 274.5L757.8 274.6L759.0 274.6L760.2 274.6L761.5 274.6L762.7 274.6L764.0 274.6L765.2 274.6L766.4 274.6L767.7 274.7L768.9 274.7L770.1 274.7L771.3 274.7L772.5 274.7L773.7 274.7L774.8 274.7L776.0 274.7L777.2 274.7L778.4 274.7L779.6 274.8L780.8 274.8L782.0 274.8L783.2 274.8L784.3 274.8L785.5 274.8L786.7 274.8L787.9 274.8L789.1 274.8L790.3 274.8L791.5 274.8L792.7 274.8L793.9 274.8L795.1 274.8L796.3 274.8L797.5 274.8L798.7 274.8L799.9 274.8L801.1 274.8L802.3 274.8L803.5 274.8L803.5 275.4L802.3 275.4L801.1 275.4L799.9 275.4L798.7 275.4L797.5 275.4L796.3 275.4L795.1 275.4L793.9 275.4L792.7 275.4L791.5 275.4L790.3 275.4L789.1 275.4L787.9 275.4L786.7 275.4L785.5 275.4L784.3 275.4L783.2 275.4L782.0 275.4L780.8 275.4L779.6 275.4L778.4 275.3L777.2 275.3L776.0 275.3L774.8 275.3L773.7 275.3L772.5 275.3L771.3 275.3L770.1 275.3L768.9 275.3L767.7 275.3L766.4 275.2L765.2 275.2L764.0 275.2L762.7 275.2L761.5 275.2L760.2 275.2L759.0 275.2L757.8 275.2L756.6 275.1L755.4 275.1L754.2 275.1L753.0 275.1L751.9 275.1L750.7 275.0L749.6 275.0L748.5 275.0L747.5 274.9L746.5 274.9L745.5 274.9L744.5 274.8L743.6 274.8L742.2 274.7L740.9 274.7L739.7 274.6L738.5 274.5L737.4 274.4L736.3 274.3L735.2 274.2L734.2 274.1L733.1 274.0L732.0 273.9L730.9 273.8L729.8 273.6L728.7 273.5L727.6 273.3L726.5 273.1L725.5 272.9L724.4 272.7L723.4 272.5L722.4 272.3L721.2 272.0L720.1 271.8L719.0 271.5L717.9 271.2L716.8 270.8L715.8 270.5L714.7 270.1L713.7 269.7L712.7 269.3L711.7 268.8L710.7 268.3L709.7 267.8L708.8 267.3L708.0 266.7L707.0 266.0L706.2 265.4L705.4 264.6L704.6 263.9L703.8 263.1L703.1 262.3L702.4 261.5L701.7 260.7L701.1 259.8L700.5 258.9L699.9 258.0L699.3 257.0L698.8 256.2L698.4 255.3L698.0 254.4L697.6 253.4L697.2 252.4L696.8 251.4L696.4 250.3L696.0 249.3L695.5 248.2L695.1 247.1L694.7 246.0L694.2 244.8L693.8 243.6L693.4 242.4L692.9 241.2L692.6 240.0L692.2 238.9L691.9 237.9L691.6 236.7L691.3 235.5L691.1 234.4L690.8 233.3L690.6 232.2L690.4 231.2L690.2 230.3L690.0 229.3L689.8 228.4L689.6 227.5L689.4 226.3L689.3 225.5L689.1 224.6L689.0 223.7L688.9 222.7L688.7 221.6L688.6 220.4L688.5 219.2L688.3 218.0L688.2 216.8L688.0 215.5L687.9 214.2L687.8 213.0L687.6 211.7L687.5 210.5L687.4 209.3L687.2 208.2L687.1 207.0L687.0 205.9L686.9 204.7L686.8 203.6L686.6 202.4L686.5 201.2L686.4 200.1L686.3 198.9L686.2 197.7L686.1 196.5L686.0 195.3L685.8 194.1L685.7 192.9L685.6 191.7L685.5 190.5L685.4 189.3L685.2 188.2L685.1 187.0L685.0 185.9L684.8 184.7L684.7 183.6L684.6 182.4L684.5 181.3L684.3 180.1L684.2 178.9L684.0 177.8L683.9 176.6L683.8 175.5L683.6 174.3L683.5 173.1L683.4 172.0L683.3 170.8L683.1 169.6L683.0 168.5L682.9 167.3L682.8 166.1L682.7 165.0L682.6 163.8L682.5 162.7L682.4 161.5L682.2 160.4L682.1 159.2L682.0 158.0L681.9 156.9L681.8 155.7L681.7 154.6L681.6 153.4L681.6 152.2L681.5 151.1L681.4 149.9L681.3 148.8L681.2 147.6L681.1 146.5L681.0 145.3L680.9 144.1L680.8 143.0L680.7 141.8L680.7 140.7L680.6 139.5L680.5 138.4L680.4 137.2L680.3 136.0L680.2 134.9L680.2 133.7L680.1 132.6L680.0 131.4L679.9 130.2L679.9 129.1L679.8 127.9L679.7 126.8L679.6 125.6L679.6 124.5L679.5 123.3L679.4 122.1L679.4 121.0L679.3 119.8L679.2 118.7L679.2 117.5L679.1 116.4L679.1 115.2L679.0 114.0L678.9 112.9L678.9 111.7L678.8 110.6L678.8 109.4L678.7 108.2L678.6 107.1L678.6 105.9L678.5 104.8L678.4 103.6L678.3 102.5L678.2 101.3L678.2 100.1L678.1 98.9L678.0 97.7L677.9 96.5L677.8 95.3L677.7 94.0L677.6 92.8L677.5 91.5L677.4 90.3L677.2 89.1L677.1 87.9L677.0 86.7L676.9 85.5L676.8 84.4L676.7 83.3L676.6 82.2L676.5 81.2L676.4 80.2L676.3 79.3L676.2 78.0L676.0 76.7L675.9 75.6L675.7 74.4L675.6 73.4L675.5 72.3L675.3 71.3L675.2 70.3L675.1 69.2L674.9 68.1L674.8 67.0L674.6 66.0L674.5 65.1L674.3 64.3L674.0 62.9L673.7 62.1L673.4 62.9L673.1 64.3L672.9 65.1L672.7 66.1L672.5 67.1L672.3 68.2L672.1 69.3L671.9 70.2L671.7 71.2L671.5 72.2L671.3 73.3L671.1 74.4L670.9 75.5L670.6 76.7L670.4 78.0L670.2 79.3L670.0 80.3L669.9 81.3L669.7 82.3L669.6 83.4L669.4 84.5L669.2 85.6L669.1 86.8L668.9 88.0L668.8 89.2L668.6 90.4L668.4 91.6L668.3 92.8L668.1 94.1L668.0 95.3L667.8 96.5L667.7 97.7L667.6 98.9L667.4 100.1L667.3 101.3L667.2 102.5L667.1 103.6L667.0 104.8L666.9 105.9L666.8 107.1L666.7 108.2L666.6 109.4L666.6 110.6L666.5 111.7L666.4 112.9L666.4 114.0L666.3 115.2L666.2 116.4L666.1 117.5L666.1 118.7L666.0 119.8L665.9 121.0L665.8 122.1L665.7 123.3L665.6 124.5L665.5 125.7L665.4 127.0L665.3 128.3L665.2 129.6L665.1 130.9L665.0 132.3L664.9 133.6L664.7 134.9L664.6 136.2L664.5 137.4L664.4 138.6L664.2 139.8L664.1 140.9L664.0 142.0L663.8 142.9L663.6 143.8L663.5 144.6L663.3 145.3L662.9 146.3L662.5 147.1L662.1 147.8L661.7 148.9L661.2 150.4L660.7 152.0L660.1 153.7L659.6 155.3L659.2 157.0L658.9 158.0L658.6 158.7L658.4 159.5L658.2 160.3L658.0 161.2L657.9 162.0L657.7 162.9L657.6 163.8L657.5 164.8L657.4 165.8L657.3 166.8L657.2 167.8L657.1 168.7L657.0 169.5L656.8 170.3L656.7 171.0L656.4 171.6L656.2 172.3L656.0 173.0L655.7 174.0L655.4 175.0L655.1 176.0L654.8 177.0L654.4 178.0L653.9 179.7L653.3 181.5L652.7 183.2L652.1 184.9L651.5 186.5L650.8 188.1L650.1 189.5L649.4 191.0L648.4 192.9L647.5 194.8L646.6 192.9L645.6 191.0L644.9 189.5L644.2 188.1L643.5 186.5L642.9 184.9L642.3 183.2L641.7 181.5L641.1 179.7L640.6 178.0L640.2 177.0L639.9 176.0L639.6 175.0L639.3 174.0L639.0 173.0L638.8 172.3L638.6 171.6L638.3 171.0L638.2 170.3L638.0 169.5L637.9 168.7L637.8 167.8L637.7 166.8L637.6 165.8L637.5 164.8L637.4 163.8L637.3 162.9L637.1 162.0L637.0 161.2L636.8 160.3L636.6 159.5L636.4 158.7L636.1 158.0L635.8 157.0L635.4 155.3L634.9 153.7L634.3 152.0L633.8 150.4L633.3 148.9L632.9 147.8L632.5 147.1L632.1 146.3L631.7 145.3L631.5 144.6L631.4 143.8L631.2 142.9L631.0 142.0L630.9 140.9L630.8 139.8L630.6 138.6L630.5 137.4L630.4 136.2L630.3 134.9L630.1 133.6L630.0 132.3L629.9 130.9L629.8 129.6L629.7 128.3L629.6 127.0L629.5 125.7L629.4 124.5L629.3 123.3L629.2 122.1L629.1 121.0L629.0 119.8L628.9 118.7L628.9 117.5L628.8 116.4L628.7 115.2L628.6 114.0L628.6 112.9L628.5 111.7L628.4 110.6L628.4 109.4L628.3 108.2L628.2 107.1L628.1 105.9L628.0 104.8L627.9 103.6L627.8 102.5L627.7 101.3L627.6 100.1L627.4 98.9L627.3 97.7L627.2 96.5L627.0 95.3L626.9 94.1L626.7 92.8L626.6 91.6L626.4 90.4L626.2 89.2L626.1 88.0L625.9 86.8L625.8 85.6L625.6 84.5L625.4 83.4L625.3 82.3L625.1 81.3L625.0 80.3L624.8 79.3L624.6 78.0L624.4 76.7L624.1 75.5L623.9 74.4L623.7 73.3L623.5 72.2L623.3 71.2L623.1 70.2L622.9 69.3L622.7 68.2L622.5 67.1L622.3 66.1L622.1 65.1L621.9 64.3L621.6 62.9L621.3 62.1L621.0 62.9L620.7 64.3L620.5 65.1L620.4 66.0L620.2 67.0L620.1 68.1L619.9 69.2L619.8 70.3L619.7 71.3L619.5 72.3L619.4 73.4L619.3 74.4L619.1 75.6L619.0 76.7L618.8 78.0L618.7 79.3L618.6 80.2L618.5 81.2L618.4 82.2L618.3 83.3L618.2 84.4L618.1 85.5L618.0 86.7L617.9 87.9L617.8 89.1L617.6 90.3L617.5 91.5L617.4 92.8L617.3 94.0L617.2 95.3L617.1 96.5L617.0 97.7L616.9 98.9L616.8 100.1L616.8 101.3L616.7 102.5L616.6 103.6L616.5 104.8L616.4 105.9L616.4 107.1L616.3 108.2L616.2 109.4L616.2 110.6L616.1 111.7L616.1 112.9L616.0 114.0L615.9 115.2L615.9 116.4L615.8 117.5L615.8 118.7L615.7 119.8L615.6 121.0L615.6 122.1L615.5 123.3L615.4 124.5L615.4 125.6L615.3 126.8L615.2 127.9L615.1 129.1L615.1 130.2L615.0 131.4L614.9 132.6L614.8 133.7L614.8 134.9L614.7 136.0L614.6 137.2L614.5 138.4L614.4 139.5L614.3 140.7L614.3 141.8L614.2 143.0L614.1 144.1L614.0 145.3L613.9 146.5L613.8 147.6L613.7 148.8L613.6 149.9L613.5 151.1L613.4 152.2L613.4 153.4L613.3 154.6L613.2 155.7L613.1 156.9L613.0 158.0L612.9 159.2L612.8 160.4L612.6 161.5L612.5 162.7L612.4 163.8L612.3 165.0L612.2 166.1L612.1 167.3L612.0 168.5L611.9 169.6L611.7 170.8L611.6 172.0L611.5 173.1L611.4 174.3L611.2 175.5L611.1 176.6L611.0 177.8L610.8 178.9L610.7 180.1L610.5 181.3L610.4 182.4L610.3 183.6L610.2 184.7L610.0 185.9L609.9 187.0L609.8 188.2L609.6 189.3L609.5 190.5L609.4 191.7L609.3 192.9L609.2 194.1L609.0 195.3L608.9 196.5L608.8 197.7L608.7 198.9L608.6 200.1L608.5 201.2L608.4 202.4L608.2 203.6L608.1 204.7L608.0 205.9L607.9 207.0L607.8 208.2L607.6 209.3L607.5 210.5L607.4 211.7L607.2 213.0L607.1 214.2L607.0 215.5L606.8 216.8L606.7 218.0L606.5 219.2L606.4 220.4L606.3 221.6L606.1 222.7L606.0 223.7L605.9 224.6L605.7 225.5L605.6 226.3L605.4 227.5L605.2 228.4L605.0 229.3L604.8 230.3L604.6 231.2L604.4 232.2L604.2 233.3L603.9 234.4L603.7 235.5L603.4 236.7L603.1 237.9L602.8 238.9L602.4 240.0L602.1 241.2L601.6 242.4L601.2 243.6L600.8 244.8L600.3 246.0L599.9 247.1L599.5 248.2L599.0 249.3L598.6 250.3L598.2 251.4L597.8 252.4L597.4 253.4L597.0 254.4L596.6 255.3L596.2 256.2L595.7 257.0L595.1 258.0L594.5 258.9L593.9 259.8L593.3 260.7L592.6 261.5L591.9 262.3L591.2 263.1L590.4 263.9L589.6 264.6L588.8 265.4L588.0 266.0L587.0 266.7L586.2 267.3L585.3 267.8L584.3 268.3L583.3 268.8L582.3 269.3L581.3 269.7L580.3 270.1L579.2 270.5L578.2 270.8L577.1 271.2L576.0 271.5L574.9 271.8L573.8 272.0L572.6 272.3L571.6 272.5L570.6 272.7L569.5 272.9L568.5 273.1L567.4 273.3L566.3 273.5L565.2 273.6L564.1 273.8L563.0 273.9L561.9 274.0L560.8 274.1L559.8 274.2L558.7 274.3L557.6 274.4L556.5 274.5L555.3 274.6L554.1 274.7L552.8 274.7L551.4 274.8L550.5 274.8L549.5 274.9L548.5 274.9L547.5 274.9L546.5 275.0L545.4 275.0L544.3 275.0L543.1 275.1L542.0 275.1L540.8 275.1L539.6 275.1L538.4 275.1L537.2 275.2L536.0 275.2L534.8 275.2L533.5 275.2L532.3 275.2L531.0 275.2L529.8 275.2L528.6 275.2L527.3 275.3L526.1 275.3L524.9 275.3L523.7 275.3L522.5 275.3L521.3 275.3L520.2 275.3L519.0 275.3L517.8 275.3L516.6 275.3L515.4 275.4L514.2 275.4L513.0 275.4L511.8 275.4L510.7 275.4L509.5 275.4L508.3 275.4L507.1 275.4L505.9 275.4L504.7 275.4L503.5 275.4L502.3 275.4L501.1 275.4L499.9 275.4L498.7 275.4L497.5 275.4L496.3 275.4L495.1 275.4L493.9 275.4L492.7 275.4L491.5 275.4Z" fill="#008040" fill-opacity="0.3"/>
<path d="M491.5 274.7L492.7 274.7L493.9 274.7L495.1 274.7L496.2 274.7L497.4 274.7L498.6 274.7L499.8 274.7L501.0 274.6L502.2 274.6L503.4 274.6L504.6 274.6L505.7 274.6L506.9 274.6L508.1 274.6L509.3 274.6L510.5 274.6L511.7 274.6L512.8 274.6L514.0 274.6L515.2 274.5L516.3 274.5L517.5 274.5L518.7 274.5L519.9 274.5L521.1 274.4L522.3 274.4L523.5 274.4L524.8 274.4L526.0 274.3L527.2 274.3L528.4 274.3L529.6 274.3L530.8 274.2L532.0 274.2L533.2 274.2L534.4 274.1L535.5 274.1L536.6 274.0L537.7 274.0L538.8 274.0L539.8 273.9L540.8 273.9L541.8 273.8L543.1 273.7L544.3 273.6L545.6 273.5L546.7 273.5L547.9 273.4L549.0 273.3L550.0 273.2L551.1 273.0L552.2 272.9L553.3 272.8L554.4 272.7L555.5 272.5L556.6 272.4L557.7 272.3L558.8 272.1L559.9 271.9L560.9 271.8L562.0 271.6L563.0 271.4L564.2 271.2L565.3 270.9L566.4 270.7L567.5 270.4L568.6 270.1L569.6 269.8L570.7 269.5L571.7 269.2L572.7 268.8L573.7 268.4L574.6 268.0L575.6 267.6L576.5 267.1L577.4 266.6L578.3 266.1L579.2 265.5L580.0 264.9L580.8 264.3L581.6 263.6L582.4 262.9L583.2 262.2L584.0 261.5L584.7 260.7L585.4 259.9L586.1 259.1L586.8 258.2L587.4 257.3L588.0 256.4L588.5 255.6L589.0 254.7L589.5 253.8L589.9 252.8L590.4 251.8L590.8 250.8L591.2 249.7L591.6 248.8L592.0 247.7L592.4 246.6L592.9 245.5L593.3 244.4L593.7 243.2L594.1 242.0L594.5 240.8L594.8 239.7L595.2 238.6L595.5 237.5L595.8 236.5L596.1 235.2L596.4 234.0L596.7 232.8L596.9 231.6L597.1 230.5L597.3 229.5L597.5 228.6L597.8 227.6L598.1 226.8L598.4 225.7L598.6 224.9L598.8 223.9L599.0 222.8L599.2 221.6L599.4 220.4L599.6 219.1L599.8 217.7L600.0 216.4L600.2 215.1L600.4 213.9L600.6 212.7L600.8 211.7L601.1 210.4L601.3 209.3L601.6 208.2L601.8 207.2L602.1 206.0L602.3 204.7L602.4 203.8L602.6 202.8L602.7 201.8L602.8 200.7L603.0 199.6L603.1 198.4L603.2 197.3L603.3 196.1L603.5 194.9L603.6 193.6L603.7 192.4L603.9 191.2L604.0 189.9L604.2 188.7L604.3 187.6L604.5 186.5L604.7 185.4L604.8 184.3L605.0 183.2L605.2 182.0L605.4 180.8L605.6 179.7L605.7 178.5L605.9 177.3L606.1 176.1L606.3 175.0L606.5 173.8L606.7 172.6L606.9 171.4L607.1 170.2L607.2 169.0L607.4 167.9L607.6 166.7L607.8 165.5L607.9 164.3L608.1 163.1L608.3 161.9L608.5 160.6L608.6 159.4L608.8 158.1L609.0 156.9L609.1 155.6L609.3 154.4L609.5 153.2L609.6 152.0L609.8 150.8L610.0 149.7L610.1 148.6L610.3 147.6L610.4 146.6L610.6 145.6L610.7 144.7L610.9 143.4L611.1 142.1L611.3 141.0L611.5 140.0L611.7 138.9L611.9 137.9L612.1 136.7L612.3 135.6L612.5 134.5L612.7 133.3L612.9 132.2L613.1 131.0L613.4 129.9L613.6 128.8L613.8 127.7L614.1 126.7L614.4 125.6L614.7 124.5L615.0 123.5L615.3 122.5L615.7 121.7L616.1 120.9L616.7 120.0L617.4 119.2L618.1 118.9L618.8 119.2L619.5 120.0L620.1 120.9L620.6 121.7L621.0 122.5L621.4 123.5L621.7 124.6L622.1 125.7L622.4 126.6L622.7 127.6L622.9 128.7L623.2 129.8L623.5 131.0L623.7 132.2L624.0 133.4L624.2 134.5L624.5 135.6L624.7 136.7L624.9 137.9L625.2 139.0L625.3 140.0L625.5 141.1L625.7 142.2L625.9 143.4L626.2 144.7L626.4 145.6L626.6 146.6L626.7 147.6L626.9 148.6L627.1 149.7L627.4 150.8L627.6 152.0L627.8 153.2L628.0 154.4L628.3 155.6L628.5 156.9L628.8 158.1L629.0 159.4L629.3 160.6L629.5 161.9L629.8 163.1L630.1 164.3L630.3 165.5L630.6 166.7L630.9 167.8L631.2 169.0L631.4 170.2L631.8 171.4L632.1 172.6L632.4 173.9L632.7 175.1L633.1 176.4L633.4 177.6L633.7 178.8L634.1 180.0L634.4 181.2L634.7 182.3L635.0 183.4L635.3 184.5L635.6 185.4L635.9 186.4L636.1 187.2L636.4 188.0L636.6 188.7L637.0 189.9L637.3 190.9L637.7 191.8L638.1 192.7L638.5 193.6L639.0 194.6L639.5 195.5L640.0 196.4L640.6 196.8L641.3 197.3L641.9 197.7L642.7 197.9L643.5 198.0L644.4 197.8L645.4 197.4L646.5 196.9L647.5 196.4L648.5 196.9L649.6 197.4L650.6 197.8L651.5 198.0L652.3 197.9L653.1 197.7L653.7 197.3L654.4 196.8L655.0 196.4L655.5 195.5L656.0 194.6L656.5 193.6L656.9 192.7L657.3 191.8L657.7 190.9L658.0 189.9L658.4 188.7L658.6 188.0L658.9 187.2L659.1 186.4L659.4 185.4L659.7 184.5L660.0 183.4L660.3 182.3L660.6 181.2L660.9 180.0L661.3 178.8L661.6 177.6L661.9 176.4L662.3 175.1L662.6 173.9L662.9 172.6L663.2 171.4L663.6 170.2L663.8 169.0L664.1 167.8L664.4 166.7L664.7 165.5L664.9 164.3L665.2 163.1L665.5 161.9L665.7 160.6L666.0 159.4L666.2 158.1L666.5 156.9L666.7 155.6L667.0 154.4L667.2 153.2L667.4 152.0L667.6 150.8L667.9 149.7L668.1 148.6L668.3 147.6L668.4 146.6L668.6 145.6L668.8 144.7L669.1 143.4L669.3 142.2L669.5 141.1L669.7 140.0L669.8 139.0L670.1 137.9L670.3 136.7L670.5 135.6L670.8 134.5L671.0 133.4L671.3 132.2L671.5 131.0L671.8 129.8L672.1 128.7L672.3 127.6L672.6 126.6L672.9 125.7L673.3 124.6L673.6 123.5L674.0 122.5L674.4 121.7L674.9 120.9L675.5 120.0L676.2 119.2L676.9 118.9L677.6 119.2L678.3 120.0L678.9 120.9L679.3 121.7L679.7 122.5L680.0 123.5L680.3 124.5L680.6 125.6L680.9 126.7L681.2 127.7L681.4 128.8L681.6 129.9L681.9 131.0L682.1 132.2L682.3 133.3L682.5 134.5L682.7 135.6L682.9 136.7L683.1 137.9L683.3 138.9L683.5 140.0L683.7 141.0L683.9 142.1L684.1 143.4L684.3 144.7L684.4 145.6L684.6 146.6L684.7 147.6L684.9 148.6L685.0 149.7L685.2 150.8L685.4 152.0L685.5 153.2L685.7 154.4L685.9 155.6L686.0 156.9L686.2 158.1L686.4 159.4L686.5 160.6L686.7 161.9L686.9 163.1L687.1 164.3L687.2 165.5L687.4 166.7L687.6 167.9L687.8 169.0L687.9 170.2L688.1 171.4L688.3 172.6L688.5 173.8L688.7 175.0L688.9 176.1L689.1 177.3L689.3 178.5L689.4 179.7L689.6 180.8L689.8 182.0L690.0 183.2L690.2 184.3L690.3 185.4L690.5 186.5L690.7 187.6L690.8 188.7L691.0 189.9L691.1 191.2L691.3 192.4L691.4 193.6L691.5 194.9L691.7 196.1L691.8 197.3L691.9 198.4L692.0 199.6L692.2 200.7L692.3 201.8L692.4 202.8L692.6 203.8L692.7 204.7L692.9 206.0L693.2 207.2L693.4 208.2L693.7 209.3L693.9 210.4L694.2 211.7L694.4 212.7L694.6 213.9L694.8 215.1L695.0 216.4L695.2 217.7L695.4 219.1L695.6 220.4L695.8 221.6L696.0 222.8L696.2 223.9L696.4 224.9L696.6 225.7L696.9 226.8L697.2 227.6L697.5 228.6L697.7 229.5L697.9 230.5L698.1 231.6L698.3 232.8L698.6 234.0L698.9 235.2L699.2 236.5L699.5 237.5L699.8 238.6L700.2 239.7L700.5 240.8L700.9 242.0L701.3 243.2L701.7 244.4L702.1 245.5L702.6 246.6L703.0 247.7L703.4 248.8L703.8 249.7L704.2 250.8L704.6 251.8L705.1 252.8L705.5 253.8L706.0 254.7L706.5 255.6L707.0 256.4L707.6 257.3L708.2 258.2L708.9 259.1L709.6 259.9L710.3 260.7L711.0 261.5L711.8 262.2L712.6 262.9L713.4 263.6L714.2 264.3L715.0 264.9L715.8 265.5L716.7 266.1L717.6 266.6L718.5 267.1L719.4 267.6L720.4 268.0L721.3 268.4L722.3 268.8L723.3 269.2L724.3 269.5L725.4 269.8L726.4 270.1L727.5 270.4L728.6 270.7L729.7 270.9L730.8 271.2L732.0 271.4L733.0 271.6L734.1 271.8L735.1 271.9L736.2 272.1L737.3 272.3L738.4 272.4L739.5 272.5L740.6 272.7L741.7 272.8L742.8 272.9L743.9 273.0L745.0 273.2L746.0 273.3L747.1 273.4L748.3 273.5L749.4 273.5L750.7 273.6L751.9 273.7L753.2 273.8L754.2 273.9L755.2 273.9L756.2 274.0L757.3 274.0L758.4 274.0L759.5 274.1L760.6 274.1L761.8 274.2L763.0 274.2L764.2 274.2L765.4 274.3L766.6 274.3L767.8 274.3L769.0 274.3L770.2 274.4L771.5 274.4L772.7 274.4L773.9 274.4L775.1 274.5L776.3 274.5L777.5 274.5L778.7 274.5L779.8 274.5L781.0 274.6L782.2 274.6L783.3 274.6L784.5 274.6L785.7 274.6L786.9 274.6L788.1 274.6L789.3 274.6L790.4 274.6L791.6 274.6L792.8 274.6L794.0 274.6L795.2 274.7L796.4 274.7L797.6 274.7L798.8 274.7L799.9 274.7L801.1 274.7L802.3 274.7L803.5 274.7L803.5 275.3L802.3 275.3L801.1 275.3L799.9 275.3L798.8 275.3L797.6 275.3L796.4 275.3L795.2 275.3L794.0 275.2L792.8 275.2L791.6 275.2L790.4 275.2L789.3 275.2L788.1 275.2L786.9 275.2L785.7 275.2L784.5 275.2L783.3 275.2L782.2 275.2L781.0 275.2L779.8 275.1L778.7 275.1L777.5 275.1L776.3 275.1L775.1 275.1L773.9 275.0L772.7 275.0L771.5 275.0L770.2 275.0L769.0 274.9L767.8 274.9L766.6 274.9L765.4 274.9L764.2 274.8L763.0 274.8L761.8 274.8L760.6 274.7L759.5 274.7L758.4 274.6L757.3 274.6L756.2 274.6L755.2 274.5L754.2 274.5L753.2 274.4L751.9 274.3L750.7 274.2L749.4 274.1L748.3 274.1L747.1 274.0L746.0 273.9L745.0 273.8L743.9 273.6L742.8 273.5L741.7 273.4L740.6 273.3L739.5 273.1L738.4 273.0L737.3 272.9L736.2 272.7L735.1 272.5L734.1 272.4L733.0 272.2L732.0 272.0L730.8 271.8L729.7 271.5L728.6 271.3L727.5 271.0L726.4 270.7L725.4 270.4L724.3 270.1L723.3 269.8L722.3 269.4L721.3 269.0L720.4 268.6L719.4 268.2L718.5 267.7L717.6 267.2L716.7 266.7L715.8 266.1L715.0 265.5L714.2 264.9L713.4 264.2L712.6 263.5L711.8 262.8L711.0 262.1L710.3 261.3L709.6 260.5L708.9 259.7L708.2 258.8L707.6 257.9L707.0 257.1L706.5 256.2L706.0 255.3L705.5 254.4L705.1 253.4L704.6 252.4L704.2 251.4L703.8 250.3L703.4 249.4L703.0 248.3L702.6 247.2L702.1 246.1L701.7 245.0L701.3 243.8L700.9 242.6L700.5 241.4L700.2 240.3L699.8 239.2L699.5 238.1L699.2 237.1L698.9 235.8L698.6 234.6L698.3 233.4L698.1 232.2L697.9 231.1L697.7 230.1L697.5 229.2L697.2 228.2L696.9 227.4L696.6 226.3L696.4 225.5L696.2 224.5L696.0 223.4L695.8 222.2L695.6 221.0L695.4 219.7L695.2 218.3L695.0 217.0L694.8 215.7L694.6 214.5L694.4 213.3L694.2 212.3L693.9 211.0L693.7 209.9L693.4 208.8L693.2 207.8L692.9 206.6L692.7 205.3L692.6 204.4L692.4 203.4L692.3 202.4L692.2 201.3L692.0 200.2L691.9 199.0L691.8 197.9L691.7 196.7L691.5 195.5L691.4 194.2L691.3 193.0L691.1 191.8L691.0 190.5L690.8 189.3L690.7 188.2L690.5 187.1L690.3 186.0L690.2 184.9L690.0 183.8L689.8 182.6L689.6 181.4L689.4 180.3L689.3 179.1L689.1 177.9L688.9 176.7L688.7 175.6L688.5 174.4L688.3 173.2L688.1 172.0L687.9 170.8L687.8 169.6L687.6 168.5L687.4 167.3L687.2 166.1L687.1 164.9L686.9 163.7L686.7 162.5L686.5 161.2L686.4 160.0L686.2 158.7L686.0 157.5L685.9 156.2L685.7 155.0L685.5 153.8L685.4 152.6L685.2 151.4L685.0 150.3L684.9 149.2L684.7 148.2L684.6 147.2L684.4 146.2L684.3 145.3L684.1 144.0L683.9 142.7L683.7 141.6L683.5 140.6L683.3 139.5L683.1 138.5L682.9 137.3L682.7 136.2L682.5 135.1L682.3 133.9L682.1 132.8L681.9 131.6L681.6 130.5L681.4 129.4L681.2 128.3L680.9 127.3L680.6 126.2L680.3 125.1L680.0 124.1L679.7 123.1L679.3 122.3L678.9 121.5L678.3 120.6L677.6 119.8L676.9 119.5L676.2 119.8L675.5 120.6L674.9 121.5L674.4 122.3L674.0 123.1L673.6 124.1L673.3 125.2L672.9 126.3L672.6 127.2L672.3 128.2L672.1 129.3L671.8 130.4L671.5 131.6L671.3 132.8L671.0 134.0L670.8 135.1L670.5 136.2L670.3 137.3L670.1 138.5L669.8 139.6L669.7 140.6L669.5 141.7L669.3 142.8L669.1 144.0L668.8 145.3L668.6 146.2L668.4 147.2L668.3 148.2L668.1 149.2L667.9 150.3L667.6 151.4L667.4 152.6L667.2 153.8L667.0 155.0L666.7 156.2L666.5 157.5L666.2 158.7L666.0 160.0L665.7 161.2L665.5 162.5L665.2 163.7L664.9 164.9L664.7 166.1L664.4 167.3L664.1 168.4L663.8 169.6L663.6 170.8L663.2 172.0L662.9 173.2L662.6 174.5L662.3 175.7L661.9 177.0L661.6 178.2L661.3 179.4L660.9 180.6L660.6 181.8L660.3 182.9L660.0 184.0L659.7 185.1L659.4 186.0L659.1 187.0L658.9 187.8L658.6 188.6L658.4 189.3L658.0 190.5L657.7 191.5L657.3 192.4L656.9 193.3L656.5 194.2L656.0 195.2L655.5 196.1L655.0 197.1L654.4 198.4L653.7 199.8L653.1 201.3L652.3 202.7L651.5 204.0L650.6 205.2L649.6 206.4L648.5 207.5L647.5 208.6L646.5 207.5L645.4 206.4L644.4 205.2L643.5 204.0L642.7 202.7L641.9 201.3L641.3 199.8L640.6 198.4L640.0 197.1L639.5 196.1L639.0 195.2L638.5 194.2L638.1 193.3L637.7 192.4L637.3 191.5L637.0 190.5L636.6 189.3L636.4 188.6L636.1 187.8L635.9 187.0L635.6 186.0L635.3 185.1L635.0 184.0L634.7 182.9L634.4 181.8L634.1 180.6L633.7 179.4L633.4 178.2L633.1 177.0L632.7 175.7L632.4 174.5L632.1 173.2L631.8 172.0L631.4 170.8L631.2 169.6L630.9 168.4L630.6 167.3L630.3 166.1L630.1 164.9L629.8 163.7L629.5 162.5L629.3 161.2L629.0 160.0L628.8 158.7L628.5 157.5L628.3 156.2L628.0 155.0L627.8 153.8L627.6 152.6L627.4 151.4L627.1 150.3L626.9 149.2L626.7 148.2L626.6 147.2L626.4 146.2L626.2 145.3L625.9 144.0L625.7 142.8L625.5 141.7L625.3 140.6L625.2 139.6L624.9 138.5L624.7 137.3L624.5 136.2L624.2 135.1L624.0 134.0L623.7 132.8L623.5 131.6L623.2 130.4L622.9 129.3L622.7 128.2L622.4 127.2L622.1 126.3L621.7 125.2L621.4 124.1L621.0 123.1L620.6 122.3L620.1 121.5L619.5 120.6L618.8 119.8L618.1 119.5L617.4 119.8L616.7 120.6L616.1 121.5L615.7 122.3L615.3 123.1L615.0 124.1L614.7 125.1L614.4 126.2L614.1 127.3L613.8 128.3L613.6 129.4L613.4 130.5L613.1 131.6L612.9 132.8L612.7 133.9L612.5 135.1L612.3 136.2L612.1 137.3L611.9 138.5L611.7 139.5L611.5 140.6L611.3 141.6L611.1 142.7L610.9 144.0L610.7 145.3L610.6 146.2L610.4 147.2L610.3 148.2L610.1 149.2L610.0 150.3L609.8 151.4L609.6 152.6L609.5 153.8L609.3 155.0L609.1 156.2L609.0 157.5L608.8 158.7L608.6 160.0L608.5 161.2L608.3 162.5L608.1 163.7L607.9 164.9L607.8 166.1L607.6 167.3L607.4 168.5L607.2 169.6L607.1 170.8L606.9 172.0L606.7 173.2L606.5 174.4L606.3 175.6L606.1 176.7L605.9 177.9L605.7 179.1L605.6 180.3L605.4 181.4L605.2 182.6L605.0 183.8L604.8 184.9L604.7 186.0L604.5 187.1L604.3 188.2L604.2 189.3L604.0 190.5L603.9 191.8L603.7 193.0L603.6 194.2L603.5 195.5L603.3 196.7L603.2 197.9L603.1 199.0L603.0 200.2L602.8 201.3L602.7 202.4L602.6 203.4L602.4 204.4L602.3 205.3L602.1 206.6L601.8 207.8L601.6 208.8L601.3 209.9L601.1 211.0L600.8 212.3L600.6 213.3L600.4 214.5L600.2 215.7L600.0 217.0L599.8 218.3L599.6 219.7L599.4 221.0L599.2 222.2L599.0 223.4L598.8 224.5L598.6 225.5L598.4 226.3L598.1 227.4L597.8 228.2L597.5 229.2L597.3 230.1L597.1 231.1L596.9 232.2L596.7 233.4L596.4 234.6L596.1 235.8L595.8 237.1L595.5 238.1L595.2 239.2L594.8 240.3L594.5 241.4L594.1 242.6L593.7 243.8L593.3 245.0L592.9 246.1L592.4 247.2L592.0 248.3L591.6 249.4L591.2 250.3L590.8 251.4L590.4 252.4L589.9 253.4L589.5 254.4L589.0 255.3L588.5 256.2L588.0 257.1L587.4 257.9L586.8 258.8L586.1 259.7L585.4 260.5L584.7 261.3L584.0 262.1L583.2 262.8L582.4 263.5L581.6 264.2L580.8 264.9L580.0 265.5L579.2 266.1L578.3 266.7L577.4 267.2L576.5 267.7L575.6 268.2L574.6 268.6L573.7 269.0L572.7 269.4L571.7 269.8L570.7 270.1L569.6 270.4L568.6 270.7L567.5 271.0L566.4 271.3L565.3 271.5L564.2 271.8L563.0 272.0L562.0 272.2L560.9 272.4L559.9 272.5L558.8 272.7L557.7 272.9L556.6 273.0L555.5 273.1L554.4 273.3L553.3 273.4L552.2 273.5L551.1 273.6L550.0 273.8L549.0 273.9L547.9 274.0L546.7 274.1L545.6 274.1L544.3 274.2L543.1 274.3L541.8 274.4L540.8 274.5L539.8 274.5L538.8 274.6L537.7 274.6L536.6 274.6L535.5 274.7L534.4 274.7L533.2 274.8L532.0 274.8L530.8 274.8L529.6 274.9L528.4 274.9L527.2 274.9L526.0 274.9L524.8 275.0L523.5 275.0L522.3 275.0L521.1 275.0L519.9 275.1L518.7 275.1L517.5 275.1L516.3 275.1L515.2 275.1L514.0 275.2L512.8 275.2L511.7 275.2L510.5 275.2L509.3 275.2L508.1 275.2L506.9 275.2L505.7 275.2L504.6 275.2L503.4 275.2L502.2 275.2L501.0 275.2L499.8 275.3L498.6 275.3L497.4 275.3L496.2 275.3L495.1 275.3L493.9 275.3L492.7 275.3L491.5 275.3Z" fill="#0000cd" fill-opacity="0.3"/>
<path d="M491.5 274.2L492.7 274.2L493.9 274.2L495.1 274.1L496.3 274.1L497.6 274.1L498.8 274.1L500.0 274.1L501.3 274.1L502.5 274.0L503.7 274.0L505.0 274.0L506.2 274.0L507.4 274.0L508.6 274.0L509.8 273.9L511.0 273.9L512.1 273.9L513.3 273.9L514.4 273.8L515.5 273.8L516.6 273.8L517.7 273.7L518.7 273.7L520.0 273.6L521.2 273.6L522.4 273.5L523.6 273.5L524.8 273.4L526.0 273.3L527.1 273.3L528.2 273.2L529.3 273.1L530.4 273.0L531.4 273.0L532.4 272.9L533.4 272.8L534.3 272.7L535.6 272.6L536.8 272.4L537.9 272.3L539.0 272.2L540.0 272.0L541.1 271.9L542.2 271.7L543.3 271.5L544.4 271.3L545.6 271.1L546.7 270.9L547.8 270.6L548.9 270.4L550.0 270.1L551.0 269.8L552.1 269.6L553.1 269.3L554.1 269.0L555.1 268.7L556.2 268.4L557.2 268.0L558.2 267.6L559.1 267.3L560.1 266.9L561.1 266.4L562.1 266.0L563.0 265.6L564.0 265.1L564.9 264.6L565.9 264.0L566.9 263.5L567.9 262.9L568.9 262.3L569.8 261.6L570.7 261.0L571.6 260.3L572.5 259.6L573.4 258.8L574.2 258.0L575.0 257.2L575.7 256.4L576.5 255.5L577.1 254.6L577.8 253.7L578.3 252.8L578.9 251.9L579.5 250.8L580.1 249.7L580.5 248.8L581.0 247.9L581.5 246.9L581.9 245.9L582.4 244.8L582.9 243.7L583.3 242.6L583.8 241.5L584.2 240.4L584.6 239.3L585.0 238.3L585.4 237.3L585.8 236.1L586.2 234.9L586.6 233.7L587.0 232.5L587.3 231.3L587.6 230.2L587.9 229.2L588.2 228.3L588.4 227.6L588.7 226.7L589.0 225.7L589.2 225.1L589.4 224.3L589.6 223.4L589.8 222.3L590.1 221.2L590.4 219.9L590.7 218.6L591.0 217.2L591.3 215.8L591.7 214.4L592.0 213.0L592.3 211.6L592.6 210.3L592.9 209.0L593.1 207.7L593.4 206.6L593.6 205.6L593.8 204.7L594.1 203.5L594.3 202.4L594.4 201.5L594.6 200.5L594.8 199.6L595.0 198.5L595.2 197.5L595.4 196.4L595.7 195.3L595.9 194.2L596.2 193.1L596.5 191.9L596.7 190.8L597.0 189.7L597.2 188.7L597.4 187.7L597.7 186.7L597.9 185.8L598.1 184.8L598.3 183.9L598.6 182.8L598.9 181.7L599.1 180.8L599.4 179.8L599.7 178.7L600.0 177.6L600.3 176.5L600.6 175.3L600.9 174.1L601.2 172.9L601.6 171.8L601.9 170.6L602.3 169.5L602.6 168.5L603.0 167.6L603.4 166.7L603.9 165.6L604.4 164.6L604.9 163.6L605.5 162.8L606.1 161.9L606.7 161.0L607.3 160.0L608.2 158.6L609.2 157.2L610.3 156.1L611.2 155.3L612.2 156.0L613.2 157.0L614.1 158.3L615.0 159.6L615.6 160.6L616.1 161.6L616.6 162.5L617.1 163.4L617.5 164.4L618.0 165.5L618.5 166.7L618.8 167.5L619.2 168.5L619.5 169.5L619.9 170.6L620.3 171.8L620.6 173.0L621.0 174.3L621.4 175.6L621.7 176.9L622.1 178.2L622.5 179.5L622.8 180.7L623.2 181.9L623.5 183.1L623.8 184.2L624.1 185.2L624.4 186.2L624.7 187.0L625.0 187.7L625.5 188.8L625.9 189.6L626.3 190.4L626.8 191.3L627.2 192.2L627.7 193.2L628.2 194.3L628.7 195.3L629.2 196.4L629.8 197.4L630.4 198.4L631.1 199.4L631.8 200.5L632.6 201.4L633.3 202.1L634.0 202.3L634.8 202.5L635.5 202.7L636.2 202.8L637.0 202.8L637.8 202.8L638.6 203.0L639.4 203.6L640.3 204.3L641.2 204.9L642.1 205.6L643.1 206.1L644.0 206.6L645.2 206.9L646.3 207.1L647.5 207.3L648.7 207.1L649.8 206.9L651.0 206.6L651.9 206.1L652.9 205.6L653.8 204.9L654.7 204.3L655.6 203.6L656.4 203.0L657.2 202.8L658.0 202.8L658.8 202.8L659.5 202.7L660.2 202.5L661.0 202.3L661.7 202.1L662.4 201.4L663.2 200.5L663.9 199.4L664.6 198.4L665.2 197.4L665.8 196.4L666.3 195.3L666.8 194.3L667.3 193.2L667.8 192.2L668.2 191.3L668.7 190.4L669.1 189.6L669.5 188.8L670.0 187.7L670.3 187.0L670.6 186.2L670.9 185.2L671.2 184.2L671.5 183.1L671.8 181.9L672.2 180.7L672.5 179.5L672.9 178.2L673.3 176.9L673.6 175.6L674.0 174.3L674.4 173.0L674.7 171.8L675.1 170.6L675.5 169.5L675.8 168.5L676.2 167.5L676.5 166.7L677.0 165.5L677.5 164.4L677.9 163.4L678.4 162.5L678.9 161.6L679.4 160.6L680.0 159.6L680.9 158.3L681.8 157.0L682.8 156.0L683.8 155.3L684.7 156.1L685.8 157.2L686.8 158.6L687.7 160.0L688.3 161.0L688.9 161.9L689.5 162.8L690.1 163.6L690.6 164.6L691.1 165.6L691.6 166.7L692.0 167.6L692.4 168.5L692.7 169.5L693.1 170.6L693.4 171.8L693.8 172.9L694.1 174.1L694.4 175.3L694.7 176.5L695.0 177.6L695.3 178.7L695.6 179.8L695.9 180.8L696.1 181.7L696.4 182.8L696.7 183.9L696.9 184.8L697.1 185.8L697.3 186.7L697.6 187.7L697.8 188.7L698.0 189.7L698.3 190.8L698.5 191.9L698.8 193.1L699.1 194.2L699.3 195.3L699.6 196.4L699.8 197.5L700.0 198.5L700.2 199.6L700.4 200.5L700.6 201.5L700.7 202.4L700.9 203.5L701.2 204.7L701.4 205.6L701.6 206.6L701.9 207.7L702.1 209.0L702.4 210.3L702.7 211.6L703.0 213.0L703.3 214.4L703.7 215.8L704.0 217.2L704.3 218.6L704.6 219.9L704.9 221.2L705.2 222.3L705.4 223.4L705.6 224.3L705.8 225.1L706.0 225.7L706.3 226.7L706.6 227.6L706.8 228.3L707.1 229.2L707.4 230.2L707.7 231.3L708.0 232.5L708.4 233.7L708.8 234.9L709.2 236.1L709.6 237.3L710.0 238.3L710.4 239.3L710.8 240.4L711.2 241.5L711.7 242.6L712.1 243.7L712.6 244.8L713.1 245.9L713.5 246.9L714.0 247.9L714.5 248.8L714.9 249.7L715.5 250.8L716.1 251.9L716.7 252.8L717.2 253.7L717.9 254.6L718.5 255.5L719.3 256.4L720.0 257.2L720.8 258.0L721.6 258.8L722.5 259.6L723.4 260.3L724.3 261.0L725.2 261.6L726.1 262.3L727.1 262.9L728.1 263.5L729.1 264.0L730.1 264.6L731.0 265.1L732.0 265.6L732.9 266.0L733.9 266.4L734.9 266.9L735.9 267.3L736.8 267.6L737.8 268.0L738.8 268.4L739.9 268.7L740.9 269.0L741.9 269.3L742.9 269.6L744.0 269.8L745.0 270.1L746.1 270.4L747.2 270.6L748.3 270.9L749.4 271.1L750.6 271.3L751.7 271.5L752.8 271.7L753.9 271.9L755.0 272.0L756.0 272.2L757.1 272.3L758.2 272.4L759.4 272.6L760.7 272.7L761.6 272.8L762.6 272.9L763.6 273.0L764.6 273.0L765.7 273.1L766.8 273.2L767.9 273.3L769.0 273.3L770.2 273.4L771.4 273.5L772.6 273.5L773.8 273.6L775.0 273.6L776.3 273.7L777.3 273.7L778.4 273.8L779.5 273.8L780.6 273.8L781.7 273.9L782.9 273.9L784.0 273.9L785.2 273.9L786.4 274.0L787.6 274.0L788.8 274.0L790.0 274.0L791.3 274.0L792.5 274.0L793.7 274.1L795.0 274.1L796.2 274.1L797.4 274.1L798.7 274.1L799.9 274.1L801.1 274.2L802.3 274.2L803.5 274.2L803.5 274.8L802.3 274.8L801.1 274.8L799.9 274.7L798.7 274.7L797.4 274.7L796.2 274.7L795.0 274.7L793.7 274.7L792.5 274.6L791.3 274.6L790.0 274.6L788.8 274.6L787.6 274.6L786.4 274.6L785.2 274.5L784.0 274.5L782.9 274.5L781.7 274.5L780.6 274.4L779.5 274.4L778.4 274.4L777.3 274.3L776.3 274.3L775.0 274.2L773.8 274.2L772.6 274.1L771.4 274.1L770.2 274.0L769.0 273.9L767.9 273.9L766.8 273.8L765.7 273.7L764.6 273.6L763.6 273.6L762.6 273.5L761.6 273.4L760.7 273.3L759.4 273.2L758.2 273.0L757.1 272.9L756.0 272.8L755.0 272.6L753.9 272.5L752.8 272.3L751.7 272.1L750.6 271.9L749.4 271.7L748.3 271.5L747.2 271.2L746.1 271.0L745.0 270.7L744.0 270.4L742.9 270.2L741.9 269.9L740.9 269.6L739.9 269.3L738.8 269.0L737.8 268.6L736.8 268.2L735.9 267.9L734.9 267.5L733.9 267.0L732.9 266.6L732.0 266.2L731.0 265.7L730.1 265.2L729.1 264.6L728.1 264.1L727.1 263.5L726.1 262.9L725.2 262.2L724.3 261.6L723.4 260.9L722.5 260.2L721.6 259.4L720.8 258.6L720.0 257.8L719.3 257.0L718.5 256.1L717.9 255.2L717.2 254.3L716.7 253.4L716.1 252.5L715.5 251.4L714.9 250.3L714.5 249.4L714.0 248.5L713.5 247.5L713.1 246.5L712.6 245.4L712.1 244.3L711.7 243.2L711.2 242.1L710.8 241.0L710.4 239.9L710.0 238.9L709.6 237.9L709.2 236.7L708.8 235.5L708.4 234.3L708.0 233.1L707.7 231.9L707.4 230.8L707.1 229.8L706.8 228.9L706.6 228.2L706.3 227.3L706.0 226.3L705.8 225.7L705.6 224.9L705.4 224.0L705.2 222.9L704.9 221.8L704.6 220.5L704.3 219.2L704.0 217.8L703.7 216.4L703.3 215.0L703.0 213.6L702.7 212.2L702.4 210.9L702.1 209.6L701.9 208.3L701.6 207.2L701.4 206.2L701.2 205.3L700.9 204.1L700.7 203.0L700.6 202.1L700.4 201.1L700.2 200.2L700.0 199.1L699.8 198.1L699.6 197.0L699.3 195.9L699.1 194.8L698.8 193.7L698.5 192.5L698.3 191.4L698.0 190.3L697.8 189.3L697.6 188.3L697.3 187.3L697.1 186.4L696.9 185.4L696.7 184.5L696.4 183.4L696.1 182.3L695.9 181.4L695.6 180.4L695.3 179.3L695.0 178.2L694.7 177.1L694.4 175.9L694.1 174.7L693.8 173.5L693.4 172.4L693.1 171.2L692.7 170.1L692.4 169.1L692.0 168.2L691.6 167.3L691.1 166.2L690.6 165.2L690.1 164.2L689.5 163.4L688.9 162.5L688.3 162.0L687.7 161.6L686.8 161.2L685.8 160.8L684.7 160.7L683.8 160.9L682.8 160.6L681.8 160.7L680.9 161.0L680.0 161.4L679.4 161.8L678.9 162.3L678.4 163.1L677.9 164.0L677.5 165.0L677.0 166.1L676.5 167.3L676.2 168.1L675.8 169.1L675.5 170.1L675.1 171.2L674.7 172.4L674.4 173.6L674.0 174.9L673.6 176.2L673.3 177.5L672.9 178.8L672.5 180.1L672.2 181.3L671.8 182.5L671.5 183.7L671.2 184.8L670.9 185.8L670.6 186.8L670.3 187.6L670.0 188.3L669.5 189.4L669.1 190.2L668.7 191.0L668.2 191.9L667.8 192.8L667.3 193.8L666.8 194.9L666.3 195.9L665.8 197.0L665.2 198.0L664.6 199.0L663.9 200.0L663.2 201.1L662.4 202.0L661.7 203.2L661.0 204.7L660.2 206.2L659.5 207.6L658.8 209.0L658.0 210.4L657.2 211.8L656.4 213.2L655.6 213.8L654.7 214.5L653.8 215.1L652.9 215.8L651.9 216.3L651.0 216.8L649.8 217.1L648.7 217.3L647.5 217.5L646.3 217.3L645.2 217.1L644.0 216.8L643.1 216.3L642.1 215.8L641.2 215.1L640.3 214.5L639.4 213.8L638.6 213.2L637.8 211.8L637.0 210.4L636.2 209.0L635.5 207.6L634.8 206.2L634.0 204.7L633.3 203.2L632.6 202.0L631.8 201.1L631.1 200.0L630.4 199.0L629.8 198.0L629.2 197.0L628.7 195.9L628.2 194.9L627.7 193.8L627.2 192.8L626.8 191.9L626.3 191.0L625.9 190.2L625.5 189.4L625.0 188.3L624.7 187.6L624.4 186.8L624.1 185.8L623.8 184.8L623.5 183.7L623.2 182.5L622.8 181.3L622.5 180.1L622.1 178.8L621.7 177.5L621.4 176.2L621.0 174.9L620.6 173.6L620.3 172.4L619.9 171.2L619.5 170.1L619.2 169.1L618.8 168.1L618.5 167.3L618.0 166.1L617.5 165.0L617.1 164.0L616.6 163.1L616.1 162.3L615.6 161.8L615.0 161.4L614.1 161.0L613.2 160.7L612.2 160.6L611.2 160.9L610.3 160.7L609.2 160.8L608.2 161.2L607.3 161.6L606.7 162.0L606.1 162.5L605.5 163.4L604.9 164.2L604.4 165.2L603.9 166.2L603.4 167.3L603.0 168.2L602.6 169.1L602.3 170.1L601.9 171.2L601.6 172.4L601.2 173.5L600.9 174.7L600.6 175.9L600.3 177.1L600.0 178.2L599.7 179.3L599.4 180.4L599.1 181.4L598.9 182.3L598.6 183.4L598.3 184.5L598.1 185.4L597.9 186.4L597.7 187.3L597.4 188.3L597.2 189.3L597.0 190.3L596.7 191.4L596.5 192.5L596.2 193.7L595.9 194.8L595.7 195.9L595.4 197.0L595.2 198.1L595.0 199.1L594.8 200.2L594.6 201.1L594.4 202.1L594.3 203.0L594.1 204.1L593.8 205.3L593.6 206.2L593.4 207.2L593.1 208.3L592.9 209.6L592.6 210.9L592.3 212.2L592.0 213.6L591.7 215.0L591.3 216.4L591.0 217.8L590.7 219.2L590.4 220.5L590.1 221.8L589.8 222.9L589.6 224.0L589.4 224.9L589.2 225.7L589.0 226.3L588.7 227.3L588.4 228.2L588.2 228.9L587.9 229.8L587.6 230.8L587.3 231.9L587.0 233.1L586.6 234.3L586.2 235.5L585.8 236.7L585.4 237.9L585.0 238.9L584.6 239.9L584.2 241.0L583.8 242.1L583.3 243.2L582.9 244.3L582.4 245.4L581.9 246.5L581.5 247.5L581.0 248.5L580.5 249.4L580.1 250.3L579.5 251.4L578.9 252.5L578.3 253.4L577.8 254.3L577.1 255.2L576.5 256.1L575.7 257.0L575.0 257.8L574.2 258.6L573.4 259.4L572.5 260.2L571.6 260.9L570.7 261.6L569.8 262.2L568.9 262.9L567.9 263.5L566.9 264.1L565.9 264.6L564.9 265.2L564.0 265.7L563.0 266.2L562.1 266.6L561.1 267.0L560.1 267.5L559.1 267.9L558.2 268.2L557.2 268.6L556.2 269.0L555.1 269.3L554.1 269.6L553.1 269.9L552.1 270.2L551.0 270.4L550.0 270.7L548.9 271.0L547.8 271.2L546.7 271.5L545.6 271.7L544.4 271.9L543.3 272.1L542.2 272.3L541.1 272.5L540.0 272.6L539.0 272.8L537.9 272.9L536.8 273.0L535.6 273.2L534.3 273.3L533.4 273.4L532.4 273.5L531.4 273.6L530.4 273.6L529.3 273.7L528.2 273.8L527.1 273.9L526.0 273.9L524.8 274.0L523.6 274.1L522.4 274.1L521.2 274.2L520.0 274.2L518.7 274.3L517.7 274.3L516.6 274.4L515.5 274.4L514.4 274.4L513.3 274.5L512.1 274.5L511.0 274.5L509.8 274.5L508.6 274.6L507.4 274.6L506.2 274.6L505.0 274.6L503.7 274.6L502.5 274.6L501.3 274.7L500.0 274.7L498.8 274.7L497.6 274.7L496.3 274.7L495.1 274.7L493.9 274.8L492.7 274.8L491.5 274.8Z" fill="#9400d3" fill-opacity="0.3"/>
<path d="M491.5 273.3L492.7 273.2L493.8 273.2L495.0 273.1L496.2 273.1L497.4 273.0L498.6 273.0L499.7 272.9L500.8 272.8L501.9 272.8L503.0 272.7L504.2 272.6L505.3 272.5L506.4 272.5L507.5 272.4L508.6 272.3L509.7 272.2L510.8 272.1L511.9 272.0L513.1 271.9L514.2 271.7L515.3 271.6L516.4 271.4L517.6 271.3L518.7 271.1L519.8 270.9L520.9 270.7L522.1 270.6L523.2 270.4L524.3 270.1L525.4 269.9L526.5 269.7L527.6 269.5L528.7 269.2L529.9 269.0L531.0 268.7L532.1 268.4L533.2 268.1L534.3 267.8L535.3 267.5L536.3 267.1L537.3 266.8L538.3 266.4L539.3 266.0L540.3 265.6L541.2 265.2L542.2 264.7L543.2 264.2L544.2 263.6L545.2 263.1L546.2 262.5L547.2 261.9L548.2 261.2L549.1 260.6L550.0 260.0L551.0 259.3L551.9 258.6L552.7 257.8L553.6 257.1L554.4 256.3L555.2 255.5L555.9 254.7L556.7 253.9L557.4 253.1L558.1 252.3L558.8 251.4L559.6 250.6L560.2 249.7L561.0 248.8L561.7 247.9L562.4 247.0L563.0 246.0L563.7 245.1L564.4 244.1L565.1 243.1L565.8 242.2L566.4 241.2L567.1 240.2L567.7 239.2L568.4 238.2L569.0 237.2L569.6 236.2L570.2 235.1L570.7 234.1L571.2 233.1L571.7 232.1L572.2 231.1L572.7 230.0L573.2 228.9L573.6 227.9L574.1 226.8L574.5 225.7L574.9 224.6L575.3 223.5L575.7 222.4L576.0 221.3L576.4 220.1L576.8 219.0L577.1 217.8L577.5 216.7L577.9 215.6L578.2 214.5L578.6 213.5L579.1 212.4L579.5 211.4L579.9 210.3L580.3 209.3L580.7 208.3L581.1 207.4L581.5 206.4L581.9 205.6L582.3 204.6L582.7 203.7L583.1 202.9L583.6 202.1L584.0 201.2L584.5 200.2L585.1 199.2L585.7 198.2L586.3 197.2L586.9 196.2L587.5 195.3L588.0 194.4L588.6 193.5L589.2 192.7L589.9 191.8L590.5 191.1L591.4 190.2L592.3 189.4L593.2 188.8L594.1 188.0L595.0 187.2L595.8 186.6L596.7 186.0L597.7 185.4L598.6 184.8L599.6 184.4L600.5 185.0L601.3 185.8L602.1 186.6L602.8 187.5L603.4 188.4L604.0 189.4L604.7 190.5L605.3 191.6L605.8 192.6L606.4 193.6L606.9 194.6L607.5 195.7L608.1 196.7L608.7 197.8L609.2 198.7L609.8 199.7L610.3 200.7L610.9 201.7L611.4 202.7L612.0 203.7L612.6 204.7L613.2 205.6L613.8 206.4L614.6 207.4L615.4 208.3L616.3 209.1L617.1 209.9L618.0 210.7L618.9 211.5L619.6 212.2L620.5 213.0L621.3 213.7L622.1 214.4L622.9 215.1L623.8 215.8L624.6 216.5L625.4 217.3L626.3 218.1L627.1 219.0L628.0 219.8L628.8 220.6L629.6 221.3L630.3 221.9L631.1 222.5L631.9 223.1L632.7 223.5L633.5 223.9L634.5 224.2L635.5 224.4L636.5 224.4L637.5 224.4L638.5 224.2L639.5 224.0L640.5 223.8L641.5 223.5L642.5 223.2L643.5 222.9L644.5 222.8L645.5 222.6L646.5 222.5L647.5 222.3L648.5 222.5L649.5 222.6L650.5 222.8L651.5 222.9L652.5 223.2L653.5 223.5L654.5 223.8L655.5 224.0L656.5 224.2L657.5 224.4L658.5 224.4L659.5 224.4L660.5 224.2L661.5 223.9L662.3 223.5L663.1 223.1L663.9 222.5L664.7 221.9L665.4 221.3L666.2 220.6L667.0 219.8L667.9 219.0L668.7 218.1L669.6 217.3L670.4 216.5L671.2 215.8L672.1 215.1L672.9 214.4L673.7 213.7L674.5 213.0L675.4 212.2L676.1 211.5L677.0 210.7L677.9 209.9L678.7 209.1L679.6 208.3L680.4 207.4L681.2 206.4L681.8 205.6L682.4 204.7L683.0 203.7L683.6 202.7L684.1 201.7L684.7 200.7L685.2 199.7L685.8 198.7L686.3 197.8L686.9 196.7L687.5 195.7L688.1 194.6L688.6 193.6L689.2 192.6L689.7 191.6L690.3 190.5L691.0 189.4L691.6 188.4L692.2 187.5L692.9 186.6L693.7 185.8L694.5 185.0L695.4 184.4L696.4 184.8L697.3 185.4L698.3 186.0L699.2 186.6L700.0 187.2L700.9 188.0L701.8 188.8L702.7 189.4L703.6 190.2L704.5 191.1L705.1 191.8L705.8 192.7L706.4 193.5L707.0 194.4L707.5 195.3L708.1 196.2L708.7 197.2L709.3 198.2L709.9 199.2L710.5 200.2L711.0 201.2L711.4 202.1L711.9 202.9L712.3 203.7L712.7 204.6L713.1 205.6L713.5 206.4L713.9 207.4L714.3 208.3L714.7 209.3L715.1 210.3L715.5 211.4L715.9 212.4L716.4 213.5L716.8 214.5L717.1 215.6L717.5 216.7L717.9 217.8L718.2 219.0L718.6 220.1L719.0 221.3L719.3 222.4L719.7 223.5L720.1 224.6L720.5 225.7L720.9 226.8L721.4 227.9L721.8 228.9L722.3 230.0L722.8 231.1L723.3 232.1L723.8 233.1L724.3 234.1L724.8 235.1L725.4 236.2L726.0 237.2L726.6 238.2L727.3 239.2L727.9 240.2L728.6 241.2L729.2 242.2L729.9 243.1L730.6 244.1L731.3 245.1L732.0 246.0L732.6 247.0L733.3 247.9L734.0 248.8L734.8 249.7L735.4 250.6L736.2 251.4L736.9 252.3L737.6 253.1L738.3 253.9L739.1 254.7L739.8 255.5L740.6 256.3L741.4 257.1L742.3 257.8L743.1 258.6L744.0 259.3L745.0 260.0L745.9 260.6L746.8 261.2L747.8 261.9L748.8 262.5L749.8 263.1L750.8 263.6L751.8 264.2L752.8 264.7L753.8 265.2L754.7 265.6L755.7 266.0L756.7 266.4L757.7 266.8L758.7 267.1L759.7 267.5L760.7 267.8L761.8 268.1L762.9 268.4L764.0 268.7L765.1 269.0L766.3 269.2L767.4 269.5L768.5 269.7L769.6 269.9L770.7 270.1L771.8 270.4L772.9 270.6L774.1 270.7L775.2 270.9L776.3 271.1L777.4 271.3L778.6 271.4L779.7 271.6L780.8 271.7L781.9 271.9L783.1 272.0L784.2 272.1L785.3 272.2L786.4 272.3L787.5 272.4L788.6 272.5L789.7 272.5L790.8 272.6L792.0 272.7L793.1 272.8L794.2 272.8L795.3 272.9L796.4 273.0L797.6 273.0L798.8 273.1L800.0 273.1L801.2 273.2L802.3 273.2L803.5 273.3L803.5 273.9L802.3 273.8L801.2 273.8L800.0 273.7L798.8 273.7L797.6 273.6L796.4 273.6L795.3 273.5L794.2 273.4L793.1 273.4L792.0 273.3L790.8 273.2L789.7 273.1L788.6 273.1L787.5 273.0L786.4 272.9L785.3 272.8L784.2 272.7L783.1 272.6L781.9 272.5L780.8 272.3L779.7 272.2L778.6 272.0L777.4 271.9L776.3 271.7L775.2 271.5L774.1 271.3L772.9 271.2L771.8 271.0L770.7 270.7L769.6 270.5L768.5 270.3L767.4 270.1L766.3 269.8L765.1 269.6L764.0 269.3L762.9 269.0L761.8 268.7L760.7 268.4L759.7 268.1L758.7 267.7L757.7 267.4L756.7 267.0L755.7 266.6L754.7 266.2L753.8 265.8L752.8 265.3L751.8 264.8L750.8 264.2L749.8 263.7L748.8 263.1L747.8 262.5L746.8 261.8L745.9 261.2L745.0 260.6L744.0 259.9L743.1 259.2L742.3 258.4L741.4 257.7L740.6 256.9L739.8 256.1L739.1 255.3L738.3 254.5L737.6 253.7L736.9 252.9L736.2 252.0L735.4 251.2L734.8 250.3L734.0 249.4L733.3 248.5L732.6 247.6L732.0 246.6L731.3 245.7L730.6 244.7L729.9 243.7L729.2 242.8L728.6 241.8L727.9 240.8L727.3 239.8L726.6 238.8L726.0 237.8L725.4 236.8L724.8 235.7L724.3 234.7L723.8 233.7L723.3 232.7L722.8 231.7L722.3 230.6L721.8 229.5L721.4 228.5L720.9 227.4L720.5 226.3L720.1 225.2L719.7 224.1L719.3 223.0L719.0 221.9L718.6 220.7L718.2 219.6L717.9 218.4L717.5 217.3L717.1 216.2L716.8 215.2L716.4 214.1L715.9 213.0L715.5 212.0L715.1 210.9L714.7 209.9L714.3 208.9L713.9 208.0L713.5 207.0L713.1 206.2L712.7 205.2L712.3 204.3L711.9 203.5L711.4 202.7L711.0 201.8L710.5 200.8L709.9 199.8L709.3 198.8L708.7 197.8L708.1 196.8L707.5 195.9L707.0 195.0L706.4 194.1L705.8 193.3L705.1 192.4L704.5 191.7L703.6 190.8L702.7 190.0L701.8 189.4L700.9 189.0L700.0 189.0L699.2 189.1L698.3 189.2L697.3 189.4L696.4 189.6L695.4 190.0L694.5 189.9L693.7 190.0L692.9 190.2L692.2 190.4L691.6 190.8L691.0 191.3L690.3 191.9L689.7 192.4L689.2 193.2L688.6 194.2L688.1 195.2L687.5 196.3L686.9 197.3L686.3 198.4L685.8 199.3L685.2 200.3L684.7 201.3L684.1 202.3L683.6 203.3L683.0 204.3L682.4 205.3L681.8 206.2L681.2 207.0L680.4 208.0L679.6 208.9L678.7 209.7L677.9 210.5L677.0 211.3L676.1 212.1L675.4 212.8L674.5 213.6L673.7 214.3L672.9 215.0L672.1 215.7L671.2 216.4L670.4 217.2L669.6 217.9L668.7 218.7L667.9 219.6L667.0 220.4L666.2 221.2L665.4 221.9L664.7 222.5L663.9 223.1L663.1 223.7L662.3 224.1L661.5 224.5L660.5 225.0L659.5 225.3L658.5 225.6L657.5 225.7L656.5 225.7L655.5 225.6L654.5 225.5L653.5 225.4L652.5 225.3L651.5 225.3L650.5 225.2L649.5 225.3L648.5 225.3L647.5 225.3L646.5 225.3L645.5 225.3L644.5 225.2L643.5 225.3L642.5 225.3L641.5 225.4L640.5 225.5L639.5 225.6L638.5 225.7L637.5 225.7L636.5 225.6L635.5 225.3L634.5 225.0L633.5 224.5L632.7 224.1L631.9 223.7L631.1 223.1L630.3 222.5L629.6 221.9L628.8 221.2L628.0 220.4L627.1 219.6L626.3 218.7L625.4 217.9L624.6 217.2L623.8 216.4L622.9 215.7L622.1 215.0L621.3 214.3L620.5 213.6L619.6 212.8L618.9 212.1L618.0 211.3L617.1 210.5L616.3 209.7L615.4 208.9L614.6 208.0L613.8 207.0L613.2 206.2L612.6 205.3L612.0 204.3L611.4 203.3L610.9 202.3L610.3 201.3L609.8 200.3L609.2 199.3L608.7 198.4L608.1 197.3L607.5 196.3L606.9 195.2L606.4 194.2L605.8 193.2L605.3 192.4L604.7 191.9L604.0 191.3L603.4 190.8L602.8 190.4L602.1 190.2L601.3 190.0L600.5 189.9L599.6 190.0L598.6 189.6L597.7 189.4L596.7 189.2L595.8 189.1L595.0 189.0L594.1 189.0L593.2 189.4L592.3 190.0L591.4 190.8L590.5 191.7L589.9 192.4L589.2 193.3L588.6 194.1L588.0 195.0L587.5 195.9L586.9 196.8L586.3 197.8L585.7 198.8L585.1 199.8L584.5 200.8L584.0 201.8L583.6 202.7L583.1 203.5L582.7 204.3L582.3 205.2L581.9 206.2L581.5 207.0L581.1 208.0L580.7 208.9L580.3 209.9L579.9 210.9L579.5 212.0L579.1 213.0L578.6 214.1L578.2 215.2L577.9 216.2L577.5 217.3L577.1 218.4L576.8 219.6L576.4 220.7L576.0 221.9L575.7 223.0L575.3 224.1L574.9 225.2L574.5 226.3L574.1 227.4L573.6 228.5L573.2 229.5L572.7 230.6L572.2 231.7L571.7 232.7L571.2 233.7L570.7 234.7L570.2 235.7L569.6 236.8L569.0 237.8L568.4 238.8L567.7 239.8L567.1 240.8L566.4 241.8L565.8 242.8L565.1 243.7L564.4 244.7L563.7 245.7L563.0 246.6L562.4 247.6L561.7 248.5L561.0 249.4L560.2 250.3L559.6 251.2L558.8 252.0L558.1 252.9L557.4 253.7L556.7 254.5L555.9 255.3L555.2 256.1L554.4 256.9L553.6 257.7L552.7 258.4L551.9 259.2L551.0 259.9L550.0 260.6L549.1 261.2L548.2 261.8L547.2 262.5L546.2 263.1L545.2 263.7L544.2 264.2L543.2 264.8L542.2 265.3L541.2 265.8L540.3 266.2L539.3 266.6L538.3 267.0L537.3 267.4L536.3 267.7L535.3 268.1L534.3 268.4L533.2 268.7L532.1 269.0L531.0 269.3L529.9 269.6L528.7 269.8L527.6 270.1L526.5 270.3L525.4 270.5L524.3 270.7L523.2 271.0L522.1 271.2L520.9 271.3L519.8 271.5L518.7 271.7L517.6 271.9L516.4 272.0L515.3 272.2L514.2 272.3L513.1 272.5L511.9 272.6L510.8 272.7L509.7 272.8L508.6 272.9L507.5 273.0L506.4 273.1L505.3 273.1L504.2 273.2L503.0 273.3L501.9 273.4L500.8 273.4L499.7 273.5L498.6 273.6L497.4 273.6L496.2 273.7L495.0 273.7L493.8 273.8L492.7 273.8L491.5 273.9Z" fill="#ff9600" fill-opacity="0.3"/>
<path d="M629.4 44.7L628.8 38.7L628.3 35.3L626.7 35.3L626.2 38.7L625.6 44.7Z" fill="#ff0000" fill-opacity="0.3"/>
<path d="M665.6 44.7L666.2 38.7L666.7 35.3L668.3 35.3L668.8 38.7L669.4 44.7Z" fill="#ff0000" fill-opacity="0.3"/>
<path d="M623.3 67.8L622.8 59.8L622.0 50.3L620.6 50.3L619.8 59.8L619.3 67.8Z" fill="#008040" fill-opacity="0.3"/>
<path d="M671.7 67.8L672.2 59.8L673.0 50.3L674.4 50.3L675.2 59.8L675.7 67.8Z" fill="#008040" fill-opacity="0.3"/>
<path d="M622.6 130.2L621.7 121.2L620.2 114.2L619.1 111.8L617.7 111.8L616.7 114.2L615.5 121.2L614.9 130.2Z" fill="#0000cd" fill-opacity="0.3"/>
<path d="M672.4 130.2L673.3 121.2L674.8 114.2L675.9 111.8L677.3 111.8L678.3 114.2L679.5 121.2L680.1 130.2Z" fill="#0000cd" fill-opacity="0.3"/>
<path d="M491.5 275.1L492.7 275.1L493.8 275.1L495.0 275.1L496.2 275.1L497.3 275.1L498.5 275.1L499.7 275.1L500.8 275.1L502.0 275.1L503.2 275.1L504.3 275.1L505.5 275.1L506.7 275.1L507.8 275.1L509.0 275.1L510.2 275.1L511.3 275.1L512.5 275.1L513.7 275.1L514.8 275.1L516.0 275.0L517.1 275.0L518.3 275.0L519.5 275.0L520.6 275.0L521.8 275.0L522.9 275.0L524.1 275.0L525.2 275.0L526.4 275.0L527.5 275.0L528.7 275.0L530.0 275.0L531.2 275.0L532.5 275.0L533.8 275.0L535.1 275.0L536.4 275.0L537.7 275.0L539.0 275.0L540.3 274.9L541.6 274.9L542.9 274.9L544.1 274.9L545.4 274.9L546.7 274.9L547.9 274.9L549.2 274.9L550.4 274.9L551.6 274.9L552.7 274.9L553.9 274.8L555.0 274.8L556.1 274.8L557.1 274.8L558.2 274.8L559.1 274.7L560.1 274.7L561.0 274.7L562.4 274.7L563.7 274.6L565.0 274.6L566.1 274.5L567.2 274.5L568.3 274.4L569.4 274.3L570.4 274.3L571.5 274.2L572.6 274.1L573.7 274.0L574.8 273.9L575.9 273.8L577.0 273.7L578.1 273.6L579.1 273.4L580.2 273.3L581.2 273.1L582.2 272.9L583.4 272.7L584.5 272.4L585.6 272.1L586.7 271.8L587.8 271.4L588.9 271.1L589.9 270.7L590.9 270.3L591.9 269.9L592.9 269.4L593.9 268.9L594.8 268.4L595.7 267.8L596.6 267.2L597.4 266.5L598.2 265.8L599.0 265.1L599.8 264.3L600.5 263.5L601.1 262.6L601.8 261.7L602.4 260.8L602.9 259.8L603.4 258.8L603.9 257.7L604.4 256.8L604.9 255.7L605.3 254.6L605.7 253.5L606.0 252.4L606.4 251.3L606.8 250.0L607.0 249.0L607.3 247.9L607.6 246.8L607.9 245.7L608.1 244.5L608.4 243.3L608.7 242.1L608.9 240.9L609.2 239.7L609.4 238.6L609.6 237.6L609.8 236.4L610.0 235.2L610.2 234.1L610.4 233.0L610.6 231.9L610.7 230.9L610.9 230.0L611.1 229.0L611.3 228.1L611.5 227.2L611.8 226.0L611.9 225.2L612.0 224.3L612.1 223.4L612.2 222.4L612.4 221.3L612.5 220.1L612.6 218.9L612.7 217.7L612.9 216.5L613.0 215.2L613.1 213.9L613.2 212.7L613.4 211.4L613.5 210.2L613.6 209.0L613.7 207.9L613.8 206.7L613.9 205.6L614.0 204.4L614.1 203.3L614.2 202.1L614.3 200.9L614.4 199.8L614.6 198.6L614.7 197.4L614.8 196.2L614.9 195.0L615.0 193.8L615.1 192.6L615.2 191.4L615.3 190.2L615.4 189.0L615.5 187.9L615.6 186.7L615.7 185.6L615.8 184.4L616.0 183.3L616.1 182.1L616.2 181.0L616.3 179.8L616.4 178.6L616.5 177.5L616.7 176.3L616.8 175.2L616.9 174.0L617.0 172.8L617.1 171.7L617.2 170.5L617.3 169.3L617.4 168.2L617.5 167.0L617.6 165.8L617.7 164.7L617.8 163.5L617.8 162.4L617.9 161.2L618.0 160.1L618.1 158.9L618.1 157.7L618.2 156.6L618.3 155.4L618.3 154.3L618.4 153.1L618.4 151.9L618.5 150.8L618.6 149.6L618.6 148.5L618.7 147.3L618.7 146.2L618.8 145.0L618.9 143.8L618.9 142.7L619.0 141.5L619.0 140.4L619.1 139.2L619.1 138.1L619.2 136.9L619.2 135.7L619.2 134.6L619.3 133.4L619.3 132.3L619.4 131.1L619.4 129.9L619.5 128.8L619.5 127.6L619.6 126.5L619.6 125.3L619.7 124.2L619.8 123.0L619.8 121.8L619.9 120.7L619.9 119.5L620.0 118.4L620.1 117.2L620.2 116.1L620.2 114.9L620.3 113.7L620.4 112.6L620.5 111.4L620.5 110.3L620.6 109.1L620.7 107.9L620.8 106.8L620.8 105.6L620.9 104.5L621.0 103.3L621.1 102.2L621.1 101.0L621.2 99.8L621.3 98.7L621.4 97.5L621.4 96.4L621.5 95.2L621.6 94.1L621.7 92.9L621.7 91.7L621.8 90.6L621.9 89.4L621.9 88.3L622.0 87.1L622.1 85.9L622.2 84.8L622.2 83.6L622.3 82.5L622.4 81.3L622.5 80.2L622.5 79.0L622.6 77.8L622.7 76.6L622.8 75.4L622.9 74.2L623.0 72.9L623.1 71.6L623.2 70.4L623.3 69.1L623.4 67.9L623.4 66.6L623.5 65.4L623.6 64.2L623.7 63.0L623.8 61.9L623.9 60.8L624.0 59.8L624.1 58.8L624.2 57.9L624.3 57.0L624.5 55.6L624.6 54.4L624.8 53.2L625.0 52.2L625.1 51.1L625.3 50.0L625.4 48.9L625.6 47.7L625.7 46.6L625.8 45.4L626.0 44.4L626.1 43.4L626.3 42.4L626.4 41.4L626.6 40.5L626.8 39.8L627.1 39.1L627.5 38.7L627.9 39.1L628.3 39.8L628.6 40.5L628.8 41.4L629.1 42.4L629.3 43.4L629.5 44.4L629.6 45.4L629.8 46.6L629.9 47.7L630.1 48.9L630.2 50.0L630.4 51.1L630.5 52.2L630.7 53.2L630.9 54.4L631.0 55.6L631.2 57.0L631.3 57.9L631.4 58.8L631.5 59.8L631.6 60.8L631.7 61.9L631.8 63.0L631.9 64.2L632.0 65.4L632.1 66.6L632.2 67.9L632.3 69.1L632.4 70.4L632.5 71.6L632.6 72.9L632.7 74.2L632.8 75.4L632.9 76.6L633.0 77.8L633.1 79.0L633.2 80.2L633.3 81.3L633.4 82.5L633.5 83.6L633.6 84.8L633.8 85.9L633.9 87.1L634.0 88.3L634.1 89.4L634.2 90.6L634.3 91.7L634.4 92.9L634.5 94.1L634.6 95.2L634.8 96.4L634.9 97.5L635.0 98.7L635.1 99.8L635.2 101.0L635.3 102.2L635.4 103.4L635.5 104.6L635.6 105.8L635.7 107.0L635.8 108.2L635.9 109.4L636.0 110.7L636.1 111.9L636.2 113.1L636.4 114.3L636.5 115.5L636.6 116.6L636.7 117.8L636.8 118.9L636.9 120.0L637.0 121.0L637.1 122.0L637.2 123.0L637.3 124.3L637.5 125.5L637.6 126.6L637.8 127.7L637.9 128.8L638.1 129.8L638.2 130.9L638.4 131.9L638.5 132.9L638.7 134.0L638.9 135.2L639.1 136.4L639.3 137.6L639.6 138.8L639.8 140.0L640.0 141.2L640.2 142.2L640.4 143.2L640.6 144.0L640.8 144.9L640.9 145.7L641.1 146.5L641.2 147.6L641.4 148.8L641.6 150.0L641.9 151.0L642.3 152.0L642.7 153.0L643.2 154.0L643.6 155.0L644.1 156.1L644.5 157.2L645.0 158.1L645.5 159.0L646.1 159.7L646.8 160.2L647.5 160.8L648.2 160.2L648.9 159.7L649.5 159.0L650.0 158.1L650.5 157.2L650.9 156.1L651.4 155.0L651.8 154.0L652.3 153.0L652.7 152.0L653.1 151.0L653.4 150.0L653.6 148.8L653.8 147.6L653.9 146.5L654.1 145.7L654.2 144.9L654.4 144.0L654.6 143.2L654.8 142.2L655.0 141.2L655.2 140.0L655.4 138.8L655.7 137.6L655.9 136.4L656.1 135.2L656.3 134.0L656.5 132.9L656.6 131.9L656.8 130.9L656.9 129.8L657.1 128.8L657.2 127.7L657.4 126.6L657.5 125.5L657.7 124.3L657.8 123.0L657.9 122.0L658.0 121.0L658.1 120.0L658.2 118.9L658.3 117.8L658.4 116.6L658.5 115.5L658.6 114.3L658.8 113.1L658.9 111.9L659.0 110.7L659.1 109.4L659.2 108.2L659.3 107.0L659.4 105.8L659.5 104.6L659.6 103.4L659.7 102.2L659.8 101.0L659.9 99.8L660.0 98.7L660.1 97.5L660.2 96.4L660.4 95.2L660.5 94.1L660.6 92.9L660.7 91.7L660.8 90.6L660.9 89.4L661.0 88.3L661.1 87.1L661.2 85.9L661.4 84.8L661.5 83.6L661.6 82.5L661.7 81.3L661.8 80.2L661.9 79.0L662.0 77.8L662.1 76.6L662.2 75.4L662.3 74.2L662.4 72.9L662.5 71.6L662.6 70.4L662.7 69.1L662.8 67.9L662.9 66.6L663.0 65.4L663.1 64.2L663.2 63.0L663.3 61.9L663.4 60.8L663.5 59.8L663.6 58.8L663.7 57.9L663.8 57.0L664.0 55.6L664.1 54.4L664.3 53.2L664.5 52.2L664.6 51.1L664.8 50.0L664.9 48.9L665.1 47.7L665.2 46.6L665.4 45.4L665.5 44.4L665.7 43.4L665.9 42.4L666.2 41.4L666.4 40.5L666.7 39.8L667.1 39.1L667.5 38.7L667.9 39.1L668.2 39.8L668.4 40.5L668.6 41.4L668.7 42.4L668.9 43.4L669.0 44.4L669.2 45.4L669.3 46.6L669.4 47.7L669.6 48.9L669.7 50.0L669.9 51.1L670.0 52.2L670.2 53.2L670.4 54.4L670.5 55.6L670.7 57.0L670.8 57.9L670.9 58.8L671.0 59.8L671.1 60.8L671.2 61.9L671.3 63.0L671.4 64.2L671.5 65.4L671.6 66.6L671.6 67.9L671.7 69.1L671.8 70.4L671.9 71.6L672.0 72.9L672.1 74.2L672.2 75.4L672.3 76.6L672.4 77.8L672.5 79.0L672.5 80.2L672.6 81.3L672.7 82.5L672.8 83.6L672.8 84.8L672.9 85.9L673.0 87.1L673.1 88.3L673.1 89.4L673.2 90.6L673.3 91.7L673.3 92.9L673.4 94.1L673.5 95.2L673.6 96.4L673.6 97.5L673.7 98.7L673.8 99.8L673.9 101.0L673.9 102.2L674.0 103.3L674.1 104.5L674.2 105.6L674.2 106.8L674.3 107.9L674.4 109.1L674.5 110.3L674.5 111.4L674.6 112.6L674.7 113.7L674.8 114.9L674.8 116.1L674.9 117.2L675.0 118.4L675.1 119.5L675.1 120.7L675.2 121.8L675.2 123.0L675.3 124.2L675.4 125.3L675.4 126.5L675.5 127.6L675.5 128.8L675.6 129.9L675.6 131.1L675.7 132.3L675.7 133.4L675.8 134.6L675.8 135.7L675.8 136.9L675.9 138.1L675.9 139.2L676.0 140.4L676.0 141.5L676.1 142.7L676.1 143.8L676.2 145.0L676.3 146.2L676.3 147.3L676.4 148.5L676.4 149.6L676.5 150.8L676.6 151.9L676.6 153.1L676.7 154.3L676.7 155.4L676.8 156.6L676.9 157.7L676.9 158.9L677.0 160.1L677.1 161.2L677.2 162.4L677.2 163.5L677.3 164.7L677.4 165.8L677.5 167.0L677.6 168.2L677.7 169.3L677.8 170.5L677.9 171.7L678.0 172.8L678.1 174.0L678.2 175.2L678.3 176.3L678.5 177.5L678.6 178.6L678.7 179.8L678.8 181.0L678.9 182.1L679.0 183.3L679.2 184.4L679.3 185.6L679.4 186.7L679.5 187.9L679.6 189.0L679.7 190.2L679.8 191.4L679.9 192.6L680.0 193.8L680.1 195.0L680.2 196.2L680.3 197.4L680.4 198.6L680.6 199.8L680.7 200.9L680.8 202.1L680.9 203.3L681.0 204.4L681.1 205.6L681.2 206.7L681.3 207.9L681.4 209.0L681.5 210.2L681.6 211.4L681.8 212.7L681.9 213.9L682.0 215.2L682.1 216.5L682.3 217.7L682.4 218.9L682.5 220.1L682.6 221.3L682.8 222.4L682.9 223.4L683.0 224.3L683.1 225.2L683.2 226.0L683.5 227.2L683.7 228.1L683.9 229.0L684.1 230.0L684.3 230.9L684.4 231.9L684.6 233.0L684.8 234.1L685.0 235.2L685.2 236.4L685.4 237.6L685.6 238.6L685.8 239.7L686.1 240.9L686.3 242.1L686.6 243.3L686.9 244.5L687.1 245.7L687.4 246.8L687.7 247.9L688.0 249.0L688.2 250.0L688.6 251.3L689.0 252.4L689.3 253.5L689.7 254.6L690.1 255.7L690.6 256.8L691.1 257.7L691.6 258.8L692.1 259.8L692.6 260.8L693.2 261.7L693.9 262.6L694.5 263.5L695.2 264.3L696.0 265.1L696.8 265.8L697.6 266.5L698.4 267.2L699.3 267.8L700.2 268.4L701.1 268.9L702.1 269.4L703.1 269.9L704.1 270.3L705.1 270.7L706.1 271.1L707.2 271.4L708.3 271.8L709.4 272.1L710.5 272.4L711.6 272.7L712.8 272.9L713.8 273.1L714.8 273.3L715.9 273.4L716.9 273.6L718.0 273.7L719.1 273.8L720.2 273.9L721.3 274.0L722.4 274.1L723.5 274.2L724.6 274.3L725.6 274.3L726.7 274.4L727.8 274.5L728.9 274.5L730.0 274.6L731.3 274.6L732.6 274.7L734.0 274.7L734.9 274.7L735.9 274.7L736.8 274.8L737.9 274.8L738.9 274.8L740.0 274.8L741.1 274.8L742.3 274.9L743.4 274.9L744.6 274.9L745.8 274.9L747.1 274.9L748.3 274.9L749.6 274.9L750.9 274.9L752.1 274.9L753.4 274.9L754.7 274.9L756.0 275.0L757.3 275.0L758.6 275.0L759.9 275.0L761.2 275.0L762.5 275.0L763.8 275.0L765.0 275.0L766.3 275.0L767.5 275.0L768.6 275.0L769.8 275.0L770.9 275.0L772.1 275.0L773.2 275.0L774.4 275.0L775.5 275.0L776.7 275.0L777.9 275.0L779.0 275.0L780.2 275.1L781.3 275.1L782.5 275.1L783.7 275.1L784.8 275.1L786.0 275.1L787.2 275.1L788.3 275.1L789.5 275.1L790.7 275.1L791.8 275.1L793.0 275.1L794.2 275.1L795.3 275.1L796.5 275.1L797.7 275.1L798.8 275.1L800.0 275.1L801.2 275.1L802.3 275.1L803.5 275.1" fill="none" stroke="#ff0000" stroke-width="1.5" stroke-linejoin="round"/>
<path d="M491.5 275.1L492.7 275.1L493.9 275.1L495.1 275.1L496.3 275.1L497.5 275.1L498.7 275.1L499.9 275.1L501.1 275.1L502.3 275.1L503.5 275.1L504.7 275.1L505.9 275.1L507.1 275.1L508.3 275.1L509.5 275.1L510.7 275.1L511.8 275.1L513.0 275.1L514.2 275.1L515.4 275.1L516.6 275.0L517.8 275.0L519.0 275.0L520.2 275.0L521.3 275.0L522.5 275.0L523.7 275.0L524.9 275.0L526.1 275.0L527.3 275.0L528.6 274.9L529.8 274.9L531.0 274.9L532.3 274.9L533.5 274.9L534.8 274.9L536.0 274.9L537.2 274.9L538.4 274.8L539.6 274.8L540.8 274.8L542.0 274.8L543.1 274.8L544.3 274.7L545.4 274.7L546.5 274.7L547.5 274.6L548.5 274.6L549.5 274.6L550.5 274.5L551.4 274.5L552.8 274.4L554.1 274.4L555.3 274.3L556.5 274.2L557.6 274.1L558.7 274.0L559.8 273.9L560.8 273.8L561.9 273.7L563.0 273.6L564.1 273.5L565.2 273.3L566.3 273.2L567.4 273.0L568.5 272.8L569.5 272.6L570.6 272.4L571.6 272.2L572.6 272.0L573.8 271.7L574.9 271.5L576.0 271.2L577.1 270.9L578.2 270.5L579.2 270.2L580.3 269.8L581.3 269.4L582.3 269.0L583.3 268.5L584.3 268.0L585.3 267.5L586.2 267.0L587.0 266.4L588.0 265.7L588.8 265.1L589.6 264.3L590.4 263.6L591.2 262.8L591.9 262.0L592.6 261.2L593.3 260.4L593.9 259.5L594.5 258.6L595.1 257.7L595.7 256.7L596.2 255.9L596.6 255.0L597.0 254.1L597.4 253.1L597.8 252.1L598.2 251.1L598.6 250.0L599.0 249.0L599.5 247.9L599.9 246.8L600.3 245.7L600.8 244.5L601.2 243.3L601.6 242.1L602.1 240.9L602.4 239.7L602.8 238.6L603.1 237.6L603.4 236.4L603.7 235.2L603.9 234.1L604.2 233.0L604.4 231.9L604.6 230.9L604.8 230.0L605.0 229.0L605.2 228.1L605.4 227.2L605.6 226.0L605.7 225.2L605.9 224.3L606.0 223.4L606.1 222.4L606.3 221.3L606.4 220.1L606.5 218.9L606.7 217.7L606.8 216.5L607.0 215.2L607.1 213.9L607.2 212.7L607.4 211.4L607.5 210.2L607.6 209.0L607.8 207.9L607.9 206.7L608.0 205.6L608.1 204.4L608.2 203.3L608.4 202.1L608.5 200.9L608.6 199.8L608.7 198.6L608.8 197.4L608.9 196.2L609.0 195.0L609.2 193.8L609.3 192.6L609.4 191.4L609.5 190.2L609.6 189.0L609.8 187.9L609.9 186.7L610.0 185.6L610.2 184.4L610.3 183.3L610.4 182.1L610.5 181.0L610.7 179.8L610.8 178.6L611.0 177.5L611.1 176.3L611.2 175.2L611.4 174.0L611.5 172.8L611.6 171.7L611.7 170.5L611.9 169.3L612.0 168.2L612.1 167.0L612.2 165.8L612.3 164.7L612.4 163.5L612.5 162.4L612.6 161.2L612.8 160.1L612.9 158.9L613.0 157.7L613.1 156.6L613.2 155.4L613.3 154.3L613.4 153.1L613.4 151.9L613.5 150.8L613.6 149.6L613.7 148.5L613.8 147.3L613.9 146.2L614.0 145.0L614.1 143.8L614.2 142.7L614.3 141.5L614.3 140.4L614.4 139.2L614.5 138.1L614.6 136.9L614.7 135.7L614.8 134.6L614.8 133.4L614.9 132.3L615.0 131.1L615.1 129.9L615.1 128.8L615.2 127.6L615.3 126.5L615.4 125.3L615.4 124.2L615.5 123.0L615.6 121.8L615.6 120.7L615.7 119.5L615.8 118.4L615.8 117.2L615.9 116.1L615.9 114.9L616.0 113.7L616.1 112.6L616.1 111.4L616.2 110.3L616.2 109.1L616.3 107.9L616.4 106.8L616.4 105.6L616.5 104.5L616.6 103.3L616.7 102.2L616.8 101.0L616.8 99.8L616.9 98.6L617.0 97.4L617.1 96.2L617.2 95.0L617.3 93.7L617.4 92.5L617.5 91.2L617.6 90.0L617.8 88.8L617.9 87.6L618.0 86.4L618.1 85.2L618.2 84.1L618.3 83.0L618.4 81.9L618.5 80.9L618.6 79.9L618.7 79.0L618.8 77.7L619.0 76.4L619.1 75.3L619.3 74.1L619.4 73.1L619.5 72.0L619.7 71.0L619.8 70.0L619.9 68.9L620.1 67.8L620.2 66.7L620.4 65.7L620.5 64.8L620.7 64.0L621.0 62.6L621.3 61.8L621.6 62.6L621.9 64.0L622.1 64.8L622.3 65.8L622.5 66.8L622.7 67.9L622.9 69.0L623.1 69.9L623.3 70.9L623.5 71.9L623.7 73.0L623.9 74.1L624.1 75.2L624.4 76.4L624.6 77.7L624.8 79.0L625.0 80.0L625.1 81.0L625.3 82.0L625.4 83.1L625.6 84.2L625.8 85.3L625.9 86.5L626.1 87.7L626.2 88.9L626.4 90.1L626.6 91.3L626.7 92.5L626.9 93.8L627.0 95.0L627.2 96.2L627.3 97.4L627.4 98.6L627.6 99.8L627.7 101.0L627.8 102.2L627.9 103.3L628.0 104.5L628.1 105.6L628.2 106.8L628.3 107.9L628.4 109.1L628.4 110.3L628.5 111.4L628.6 112.6L628.6 113.7L628.7 114.9L628.8 116.1L628.9 117.2L628.9 118.4L629.0 119.5L629.1 120.7L629.2 121.8L629.3 123.0L629.4 124.2L629.5 125.4L629.6 126.7L629.7 128.0L629.8 129.3L629.9 130.6L630.0 132.0L630.1 133.3L630.3 134.6L630.4 135.9L630.5 137.1L630.6 138.3L630.8 139.5L630.9 140.6L631.0 141.7L631.2 142.6L631.4 143.5L631.5 144.3L631.7 145.0L632.1 146.0L632.5 146.8L632.9 147.5L633.3 148.3L633.8 149.2L634.3 150.2L634.9 151.2L635.4 152.3L635.8 153.4L636.1 154.3L636.4 155.3L636.6 156.4L636.8 157.4L637.0 158.5L637.1 159.6L637.3 160.6L637.4 161.7L637.5 162.8L637.6 163.9L637.7 165.0L637.8 166.1L637.9 167.1L638.0 168.0L638.2 169.0L638.3 169.9L638.6 170.8L638.8 171.8L639.0 172.7L639.3 173.7L639.6 174.7L639.9 175.7L640.2 176.7L640.6 177.6L641.1 178.6L641.7 179.7L642.3 180.6L642.9 181.5L643.5 182.3L644.2 183.0L644.9 183.6L645.6 184.1L646.6 184.8L647.5 185.5L648.4 184.8L649.4 184.1L650.1 183.6L650.8 183.0L651.5 182.3L652.1 181.5L652.7 180.6L653.3 179.7L653.9 178.6L654.4 177.6L654.8 176.7L655.1 175.7L655.4 174.7L655.7 173.7L656.0 172.7L656.2 171.8L656.4 170.8L656.7 169.9L656.8 169.0L657.0 168.0L657.1 167.1L657.2 166.1L657.3 165.0L657.4 163.9L657.5 162.8L657.6 161.7L657.7 160.6L657.9 159.6L658.0 158.5L658.2 157.4L658.4 156.4L658.6 155.3L658.9 154.3L659.2 153.4L659.6 152.3L660.1 151.2L660.7 150.2L661.2 149.2L661.7 148.3L662.1 147.5L662.5 146.8L662.9 146.0L663.3 145.0L663.5 144.3L663.6 143.5L663.8 142.6L664.0 141.7L664.1 140.6L664.2 139.5L664.4 138.3L664.5 137.1L664.6 135.9L664.7 134.6L664.9 133.3L665.0 132.0L665.1 130.6L665.2 129.3L665.3 128.0L665.4 126.7L665.5 125.4L665.6 124.2L665.7 123.0L665.8 121.8L665.9 120.7L666.0 119.5L666.1 118.4L666.1 117.2L666.2 116.1L666.3 114.9L666.4 113.7L666.4 112.6L666.5 111.4L666.6 110.3L666.6 109.1L666.7 107.9L666.8 106.8L666.9 105.6L667.0 104.5L667.1 103.3L667.2 102.2L667.3 101.0L667.4 99.8L667.6 98.6L667.7 97.4L667.8 96.2L668.0 95.0L668.1 93.8L668.3 92.5L668.4 91.3L668.6 90.1L668.8 88.9L668.9 87.7L669.1 86.5L669.2 85.3L669.4 84.2L669.6 83.1L669.7 82.0L669.9 81.0L670.0 80.0L670.2 79.0L670.4 77.7L670.6 76.4L670.9 75.2L671.1 74.1L671.3 73.0L671.5 71.9L671.7 70.9L671.9 69.9L672.1 69.0L672.3 67.9L672.5 66.8L672.7 65.8L672.9 64.8L673.1 64.0L673.4 62.6L673.7 61.8L674.0 62.6L674.3 64.0L674.5 64.8L674.6 65.7L674.8 66.7L674.9 67.8L675.1 68.9L675.2 70.0L675.3 71.0L675.5 72.0L675.6 73.1L675.7 74.1L675.9 75.3L676.0 76.4L676.2 77.7L676.3 79.0L676.4 79.9L676.5 80.9L676.6 81.9L676.7 83.0L676.8 84.1L676.9 85.2L677.0 86.4L677.1 87.6L677.2 88.8L677.4 90.0L677.5 91.2L677.6 92.5L677.7 93.7L677.8 95.0L677.9 96.2L678.0 97.4L678.1 98.6L678.2 99.8L678.2 101.0L678.3 102.2L678.4 103.3L678.5 104.5L678.6 105.6L678.6 106.8L678.7 107.9L678.8 109.1L678.8 110.3L678.9 111.4L678.9 112.6L679.0 113.7L679.1 114.9L679.1 116.1L679.2 117.2L679.2 118.4L679.3 119.5L679.4 120.7L679.4 121.8L679.5 123.0L679.6 124.2L679.6 125.3L679.7 126.5L679.8 127.6L679.9 128.8L679.9 129.9L680.0 131.1L680.1 132.3L680.2 133.4L680.2 134.6L680.3 135.7L680.4 136.9L680.5 138.1L680.6 139.2L680.7 140.4L680.7 141.5L680.8 142.7L680.9 143.8L681.0 145.0L681.1 146.2L681.2 147.3L681.3 148.5L681.4 149.6L681.5 150.8L681.6 151.9L681.6 153.1L681.7 154.3L681.8 155.4L681.9 156.6L682.0 157.7L682.1 158.9L682.2 160.1L682.4 161.2L682.5 162.4L682.6 163.5L682.7 164.7L682.8 165.8L682.9 167.0L683.0 168.2L683.1 169.3L683.3 170.5L683.4 171.7L683.5 172.8L683.6 174.0L683.8 175.2L683.9 176.3L684.0 177.5L684.2 178.6L684.3 179.8L684.5 181.0L684.6 182.1L684.7 183.3L684.8 184.4L685.0 185.6L685.1 186.7L685.2 187.9L685.4 189.0L685.5 190.2L685.6 191.4L685.7 192.6L685.8 193.8L686.0 195.0L686.1 196.2L686.2 197.4L686.3 198.6L686.4 199.8L686.5 200.9L686.6 202.1L686.8 203.3L686.9 204.4L687.0 205.6L687.1 206.7L687.2 207.9L687.4 209.0L687.5 210.2L687.6 211.4L687.8 212.7L687.9 213.9L688.0 215.2L688.2 216.5L688.3 217.7L688.5 218.9L688.6 220.1L688.7 221.3L688.9 222.4L689.0 223.4L689.1 224.3L689.3 225.2L689.4 226.0L689.6 227.2L689.8 228.1L690.0 229.0L690.2 230.0L690.4 230.9L690.6 231.9L690.8 233.0L691.1 234.1L691.3 235.2L691.6 236.4L691.9 237.6L692.2 238.6L692.6 239.7L692.9 240.9L693.4 242.1L693.8 243.3L694.2 244.5L694.7 245.7L695.1 246.8L695.5 247.9L696.0 249.0L696.4 250.0L696.8 251.1L697.2 252.1L697.6 253.1L698.0 254.1L698.4 255.0L698.8 255.9L699.3 256.7L699.9 257.7L700.5 258.6L701.1 259.5L701.7 260.4L702.4 261.2L703.1 262.0L703.8 262.8L704.6 263.6L705.4 264.3L706.2 265.1L707.0 265.7L708.0 266.4L708.8 267.0L709.7 267.5L710.7 268.0L711.7 268.5L712.7 269.0L713.7 269.4L714.7 269.8L715.8 270.2L716.8 270.5L717.9 270.9L719.0 271.2L720.1 271.5L721.2 271.7L722.4 272.0L723.4 272.2L724.4 272.4L725.5 272.6L726.5 272.8L727.6 273.0L728.7 273.2L729.8 273.3L730.9 273.5L732.0 273.6L733.1 273.7L734.2 273.8L735.2 273.9L736.3 274.0L737.4 274.1L738.5 274.2L739.7 274.3L740.9 274.4L742.2 274.4L743.6 274.5L744.5 274.5L745.5 274.6L746.5 274.6L747.5 274.6L748.5 274.7L749.6 274.7L750.7 274.7L751.9 274.8L753.0 274.8L754.2 274.8L755.4 274.8L756.6 274.8L757.8 274.9L759.0 274.9L760.2 274.9L761.5 274.9L762.7 274.9L764.0 274.9L765.2 274.9L766.4 274.9L767.7 275.0L768.9 275.0L770.1 275.0L771.3 275.0L772.5 275.0L773.7 275.0L774.8 275.0L776.0 275.0L777.2 275.0L778.4 275.0L779.6 275.1L780.8 275.1L782.0 275.1L783.2 275.1L784.3 275.1L785.5 275.1L786.7 275.1L787.9 275.1L789.1 275.1L790.3 275.1L791.5 275.1L792.7 275.1L793.9 275.1L795.1 275.1L796.3 275.1L797.5 275.1L798.7 275.1L799.9 275.1L801.1 275.1L802.3 275.1L803.5 275.1" fill="none" stroke="#008040" stroke-width="1.5" stroke-linejoin="round"/>
<path d="M491.5 275.0L492.7 275.0L493.9 275.0L495.1 275.0L496.2 275.0L497.4 275.0L498.6 275.0L499.8 275.0L501.0 274.9L502.2 274.9L503.4 274.9L504.6 274.9L505.7 274.9L506.9 274.9L508.1 274.9L509.3 274.9L510.5 274.9L511.7 274.9L512.8 274.9L514.0 274.9L515.2 274.8L516.3 274.8L517.5 274.8L518.7 274.8L519.9 274.8L521.1 274.7L522.3 274.7L523.5 274.7L524.8 274.7L526.0 274.6L527.2 274.6L528.4 274.6L529.6 274.6L530.8 274.5L532.0 274.5L533.2 274.5L534.4 274.4L535.5 274.4L536.6 274.3L537.7 274.3L538.8 274.3L539.8 274.2L540.8 274.2L541.8 274.1L543.1 274.0L544.3 273.9L545.6 273.8L546.7 273.8L547.9 273.7L549.0 273.6L550.0 273.5L551.1 273.3L552.2 273.2L553.3 273.1L554.4 273.0L555.5 272.8L556.6 272.7L557.7 272.6L558.8 272.4L559.9 272.2L560.9 272.1L562.0 271.9L563.0 271.7L564.2 271.5L565.3 271.2L566.4 271.0L567.5 270.7L568.6 270.4L569.6 270.1L570.7 269.8L571.7 269.5L572.7 269.1L573.7 268.7L574.6 268.3L575.6 267.9L576.5 267.4L577.4 266.9L578.3 266.4L579.2 265.8L580.0 265.2L580.8 264.6L581.6 263.9L582.4 263.2L583.2 262.5L584.0 261.8L584.7 261.0L585.4 260.2L586.1 259.4L586.8 258.5L587.4 257.6L588.0 256.8L588.5 255.9L589.0 255.0L589.5 254.1L589.9 253.1L590.4 252.1L590.8 251.1L591.2 250.0L591.6 249.1L592.0 248.0L592.4 246.9L592.9 245.8L593.3 244.7L593.7 243.5L594.1 242.3L594.5 241.1L594.8 240.0L595.2 238.9L595.5 237.8L595.8 236.8L596.1 235.5L596.4 234.3L596.7 233.1L596.9 231.9L597.1 230.8L597.3 229.8L597.5 228.9L597.8 227.9L598.1 227.1L598.4 226.0L598.6 225.2L598.8 224.2L599.0 223.1L599.2 221.9L599.4 220.7L599.6 219.4L599.8 218.0L600.0 216.7L600.2 215.4L600.4 214.2L600.6 213.0L600.8 212.0L601.1 210.7L601.3 209.6L601.6 208.5L601.8 207.5L602.1 206.3L602.3 205.0L602.4 204.1L602.6 203.1L602.7 202.1L602.8 201.0L603.0 199.9L603.1 198.7L603.2 197.6L603.3 196.4L603.5 195.2L603.6 193.9L603.7 192.7L603.9 191.5L604.0 190.2L604.2 189.0L604.3 187.9L604.5 186.8L604.7 185.7L604.8 184.6L605.0 183.5L605.2 182.3L605.4 181.1L605.6 180.0L605.7 178.8L605.9 177.6L606.1 176.4L606.3 175.3L606.5 174.1L606.7 172.9L606.9 171.7L607.1 170.5L607.2 169.3L607.4 168.2L607.6 167.0L607.8 165.8L607.9 164.6L608.1 163.4L608.3 162.2L608.5 160.9L608.6 159.7L608.8 158.4L609.0 157.2L609.1 155.9L609.3 154.7L609.5 153.5L609.6 152.3L609.8 151.1L610.0 150.0L610.1 148.9L610.3 147.9L610.4 146.9L610.6 145.9L610.7 145.0L610.9 143.7L611.1 142.4L611.3 141.3L611.5 140.3L611.7 139.2L611.9 138.2L612.1 137.0L612.3 135.9L612.5 134.8L612.7 133.6L612.9 132.5L613.1 131.3L613.4 130.2L613.6 129.1L613.8 128.0L614.1 127.0L614.4 125.9L614.7 124.8L615.0 123.8L615.3 122.8L615.7 122.0L616.1 121.2L616.7 120.3L617.4 119.5L618.1 119.2L618.8 119.5L619.5 120.3L620.1 121.2L620.6 122.0L621.0 122.8L621.4 123.8L621.7 124.9L622.1 126.0L622.4 126.9L622.7 127.9L622.9 129.0L623.2 130.1L623.5 131.3L623.7 132.5L624.0 133.7L624.2 134.8L624.5 135.9L624.7 137.0L624.9 138.2L625.2 139.3L625.3 140.3L625.5 141.4L625.7 142.5L625.9 143.7L626.2 145.0L626.4 145.9L626.6 146.9L626.7 147.9L626.9 148.9L627.1 150.0L627.4 151.1L627.6 152.3L627.8 153.5L628.0 154.7L628.3 155.9L628.5 157.2L628.8 158.4L629.0 159.7L629.3 160.9L629.5 162.2L629.8 163.4L630.1 164.6L630.3 165.8L630.6 167.0L630.9 168.1L631.2 169.3L631.4 170.5L631.8 171.7L632.1 172.9L632.4 174.2L632.7 175.4L633.1 176.7L633.4 177.9L633.7 179.1L634.1 180.3L634.4 181.5L634.7 182.6L635.0 183.7L635.3 184.8L635.6 185.7L635.9 186.7L636.1 187.5L636.4 188.3L636.6 189.0L637.0 190.2L637.3 191.2L637.7 192.1L638.1 193.0L638.5 193.9L639.0 194.9L639.5 195.8L640.0 196.7L640.6 197.6L641.3 198.6L641.9 199.5L642.7 200.3L643.5 201.0L644.4 201.5L645.4 201.9L646.5 202.2L647.5 202.5L648.5 202.2L649.6 201.9L650.6 201.5L651.5 201.0L652.3 200.3L653.1 199.5L653.7 198.6L654.4 197.6L655.0 196.7L655.5 195.8L656.0 194.9L656.5 193.9L656.9 193.0L657.3 192.1L657.7 191.2L658.0 190.2L658.4 189.0L658.6 188.3L658.9 187.5L659.1 186.7L659.4 185.7L659.7 184.8L660.0 183.7L660.3 182.6L660.6 181.5L660.9 180.3L661.3 179.1L661.6 177.9L661.9 176.7L662.3 175.4L662.6 174.2L662.9 172.9L663.2 171.7L663.6 170.5L663.8 169.3L664.1 168.1L664.4 167.0L664.7 165.8L664.9 164.6L665.2 163.4L665.5 162.2L665.7 160.9L666.0 159.7L666.2 158.4L666.5 157.2L666.7 155.9L667.0 154.7L667.2 153.5L667.4 152.3L667.6 151.1L667.9 150.0L668.1 148.9L668.3 147.9L668.4 146.9L668.6 145.9L668.8 145.0L669.1 143.7L669.3 142.5L669.5 141.4L669.7 140.3L669.8 139.3L670.1 138.2L670.3 137.0L670.5 135.9L670.8 134.8L671.0 133.7L671.3 132.5L671.5 131.3L671.8 130.1L672.1 129.0L672.3 127.9L672.6 126.9L672.9 126.0L673.3 124.9L673.6 123.8L674.0 122.8L674.4 122.0L674.9 121.2L675.5 120.3L676.2 119.5L676.9 119.2L677.6 119.5L678.3 120.3L678.9 121.2L679.3 122.0L679.7 122.8L680.0 123.8L680.3 124.8L680.6 125.9L680.9 127.0L681.2 128.0L681.4 129.1L681.6 130.2L681.9 131.3L682.1 132.5L682.3 133.6L682.5 134.8L682.7 135.9L682.9 137.0L683.1 138.2L683.3 139.2L683.5 140.3L683.7 141.3L683.9 142.4L684.1 143.7L684.3 145.0L684.4 145.9L684.6 146.9L684.7 147.9L684.9 148.9L685.0 150.0L685.2 151.1L685.4 152.3L685.5 153.5L685.7 154.7L685.9 155.9L686.0 157.2L686.2 158.4L686.4 159.7L686.5 160.9L686.7 162.2L686.9 163.4L687.1 164.6L687.2 165.8L687.4 167.0L687.6 168.2L687.8 169.3L687.9 170.5L688.1 171.7L688.3 172.9L688.5 174.1L688.7 175.3L688.9 176.4L689.1 177.6L689.3 178.8L689.4 180.0L689.6 181.1L689.8 182.3L690.0 183.5L690.2 184.6L690.3 185.7L690.5 186.8L690.7 187.9L690.8 189.0L691.0 190.2L691.1 191.5L691.3 192.7L691.4 193.9L691.5 195.2L691.7 196.4L691.8 197.6L691.9 198.7L692.0 199.9L692.2 201.0L692.3 202.1L692.4 203.1L692.6 204.1L692.7 205.0L692.9 206.3L693.2 207.5L693.4 208.5L693.7 209.6L693.9 210.7L694.2 212.0L694.4 213.0L694.6 214.2L694.8 215.4L695.0 216.7L695.2 218.0L695.4 219.4L695.6 220.7L695.8 221.9L696.0 223.1L696.2 224.2L696.4 225.2L696.6 226.0L696.9 227.1L697.2 227.9L697.5 228.9L697.7 229.8L697.9 230.8L698.1 231.9L698.3 233.1L698.6 234.3L698.9 235.5L699.2 236.8L699.5 237.8L699.8 238.9L700.2 240.0L700.5 241.1L700.9 242.3L701.3 243.5L701.7 244.7L702.1 245.8L702.6 246.9L703.0 248.0L703.4 249.1L703.8 250.0L704.2 251.1L704.6 252.1L705.1 253.1L705.5 254.1L706.0 255.0L706.5 255.9L707.0 256.8L707.6 257.6L708.2 258.5L708.9 259.4L709.6 260.2L710.3 261.0L711.0 261.8L711.8 262.5L712.6 263.2L713.4 263.9L714.2 264.6L715.0 265.2L715.8 265.8L716.7 266.4L717.6 266.9L718.5 267.4L719.4 267.9L720.4 268.3L721.3 268.7L722.3 269.1L723.3 269.5L724.3 269.8L725.4 270.1L726.4 270.4L727.5 270.7L728.6 271.0L729.7 271.2L730.8 271.5L732.0 271.7L733.0 271.9L734.1 272.1L735.1 272.2L736.2 272.4L737.3 272.6L738.4 272.7L739.5 272.8L740.6 273.0L741.7 273.1L742.8 273.2L743.9 273.3L745.0 273.5L746.0 273.6L747.1 273.7L748.3 273.8L749.4 273.8L750.7 273.9L751.9 274.0L753.2 274.1L754.2 274.2L755.2 274.2L756.2 274.3L757.3 274.3L758.4 274.3L759.5 274.4L760.6 274.4L761.8 274.5L763.0 274.5L764.2 274.5L765.4 274.6L766.6 274.6L767.8 274.6L769.0 274.6L770.2 274.7L771.5 274.7L772.7 274.7L773.9 274.7L775.1 274.8L776.3 274.8L777.5 274.8L778.7 274.8L779.8 274.8L781.0 274.9L782.2 274.9L783.3 274.9L784.5 274.9L785.7 274.9L786.9 274.9L788.1 274.9L789.3 274.9L790.4 274.9L791.6 274.9L792.8 274.9L794.0 274.9L795.2 275.0L796.4 275.0L797.6 275.0L798.8 275.0L799.9 275.0L801.1 275.0L802.3 275.0L803.5 275.0" fill="none" stroke="#0000cd" stroke-width="1.5" stroke-linejoin="round"/>
<path d="M491.5 274.5L492.7 274.5L493.9 274.5L495.1 274.4L496.3 274.4L497.6 274.4L498.8 274.4L500.0 274.4L501.3 274.4L502.5 274.3L503.7 274.3L505.0 274.3L506.2 274.3L507.4 274.3L508.6 274.3L509.8 274.2L511.0 274.2L512.1 274.2L513.3 274.2L514.4 274.1L515.5 274.1L516.6 274.1L517.7 274.0L518.7 274.0L520.0 273.9L521.2 273.9L522.4 273.8L523.6 273.8L524.8 273.7L526.0 273.6L527.1 273.6L528.2 273.5L529.3 273.4L530.4 273.3L531.4 273.3L532.4 273.2L533.4 273.1L534.3 273.0L535.6 272.9L536.8 272.7L537.9 272.6L539.0 272.5L540.0 272.3L541.1 272.2L542.2 272.0L543.3 271.8L544.4 271.6L545.6 271.4L546.7 271.2L547.8 270.9L548.9 270.7L550.0 270.4L551.0 270.1L552.1 269.9L553.1 269.6L554.1 269.3L555.1 269.0L556.2 268.7L557.2 268.3L558.2 267.9L559.1 267.6L560.1 267.2L561.1 266.7L562.1 266.3L563.0 265.9L564.0 265.4L564.9 264.9L565.9 264.3L566.9 263.8L567.9 263.2L568.9 262.6L569.8 261.9L570.7 261.3L571.6 260.6L572.5 259.9L573.4 259.1L574.2 258.3L575.0 257.5L575.7 256.7L576.5 255.8L577.1 254.9L577.8 254.0L578.3 253.1L578.9 252.2L579.5 251.1L580.1 250.0L580.5 249.1L581.0 248.2L581.5 247.2L581.9 246.2L582.4 245.1L582.9 244.0L583.3 242.9L583.8 241.8L584.2 240.7L584.6 239.6L585.0 238.6L585.4 237.6L585.8 236.4L586.2 235.2L586.6 234.0L587.0 232.8L587.3 231.6L587.6 230.5L587.9 229.5L588.2 228.6L588.4 227.9L588.7 227.0L589.0 226.0L589.2 225.4L589.4 224.6L589.6 223.7L589.8 222.6L590.1 221.5L590.4 220.2L590.7 218.9L591.0 217.5L591.3 216.1L591.7 214.7L592.0 213.3L592.3 211.9L592.6 210.6L592.9 209.3L593.1 208.0L593.4 206.9L593.6 205.9L593.8 205.0L594.1 203.8L594.3 202.7L594.4 201.8L594.6 200.8L594.8 199.9L595.0 198.8L595.2 197.8L595.4 196.7L595.7 195.6L595.9 194.5L596.2 193.4L596.5 192.2L596.7 191.1L597.0 190.0L597.2 189.0L597.4 188.0L597.7 187.0L597.9 186.1L598.1 185.1L598.3 184.2L598.6 183.1L598.9 182.0L599.1 181.1L599.4 180.1L599.7 179.0L600.0 177.9L600.3 176.8L600.6 175.6L600.9 174.4L601.2 173.2L601.6 172.1L601.9 170.9L602.3 169.8L602.6 168.8L603.0 167.9L603.4 167.0L603.9 165.9L604.4 164.9L604.9 163.9L605.5 163.1L606.1 162.2L606.7 161.5L607.3 160.8L608.2 159.9L609.2 159.0L610.3 158.4L611.2 158.1L612.2 158.3L613.2 158.8L614.1 159.6L615.0 160.5L615.6 161.2L616.1 162.0L616.6 162.8L617.1 163.7L617.5 164.7L618.0 165.8L618.5 167.0L618.8 167.8L619.2 168.8L619.5 169.8L619.9 170.9L620.3 172.1L620.6 173.3L621.0 174.6L621.4 175.9L621.7 177.2L622.1 178.5L622.5 179.8L622.8 181.0L623.2 182.2L623.5 183.4L623.8 184.5L624.1 185.5L624.4 186.5L624.7 187.3L625.0 188.0L625.5 189.1L625.9 189.9L626.3 190.7L626.8 191.6L627.2 192.5L627.7 193.5L628.2 194.6L628.7 195.6L629.2 196.7L629.8 197.7L630.4 198.7L631.1 199.7L631.8 200.8L632.6 201.7L633.3 202.7L634.0 203.5L634.8 204.4L635.5 205.1L636.2 205.9L637.0 206.6L637.8 207.3L638.6 208.1L639.4 208.7L640.3 209.4L641.2 210.0L642.1 210.7L643.1 211.2L644.0 211.7L645.2 212.0L646.3 212.2L647.5 212.4L648.7 212.2L649.8 212.0L651.0 211.7L651.9 211.2L652.9 210.7L653.8 210.0L654.7 209.4L655.6 208.7L656.4 208.1L657.2 207.3L658.0 206.6L658.8 205.9L659.5 205.1L660.2 204.4L661.0 203.5L661.7 202.7L662.4 201.7L663.2 200.8L663.9 199.7L664.6 198.7L665.2 197.7L665.8 196.7L666.3 195.6L666.8 194.6L667.3 193.5L667.8 192.5L668.2 191.6L668.7 190.7L669.1 189.9L669.5 189.1L670.0 188.0L670.3 187.3L670.6 186.5L670.9 185.5L671.2 184.5L671.5 183.4L671.8 182.2L672.2 181.0L672.5 179.8L672.9 178.5L673.3 177.2L673.6 175.9L674.0 174.6L674.4 173.3L674.7 172.1L675.1 170.9L675.5 169.8L675.8 168.8L676.2 167.8L676.5 167.0L677.0 165.8L677.5 164.7L677.9 163.7L678.4 162.8L678.9 162.0L679.4 161.2L680.0 160.5L680.9 159.6L681.8 158.8L682.8 158.3L683.8 158.1L684.7 158.4L685.8 159.0L686.8 159.9L687.7 160.8L688.3 161.5L688.9 162.2L689.5 163.1L690.1 163.9L690.6 164.9L691.1 165.9L691.6 167.0L692.0 167.9L692.4 168.8L692.7 169.8L693.1 170.9L693.4 172.1L693.8 173.2L694.1 174.4L694.4 175.6L694.7 176.8L695.0 177.9L695.3 179.0L695.6 180.1L695.9 181.1L696.1 182.0L696.4 183.1L696.7 184.2L696.9 185.1L697.1 186.1L697.3 187.0L697.6 188.0L697.8 189.0L698.0 190.0L698.3 191.1L698.5 192.2L698.8 193.4L699.1 194.5L699.3 195.6L699.6 196.7L699.8 197.8L700.0 198.8L700.2 199.9L700.4 200.8L700.6 201.8L700.7 202.7L700.9 203.8L701.2 205.0L701.4 205.9L701.6 206.9L701.9 208.0L702.1 209.3L702.4 210.6L702.7 211.9L703.0 213.3L703.3 214.7L703.7 216.1L704.0 217.5L704.3 218.9L704.6 220.2L704.9 221.5L705.2 222.6L705.4 223.7L705.6 224.6L705.8 225.4L706.0 226.0L706.3 227.0L706.6 227.9L706.8 228.6L707.1 229.5L707.4 230.5L707.7 231.6L708.0 232.8L708.4 234.0L708.8 235.2L709.2 236.4L709.6 237.6L710.0 238.6L710.4 239.6L710.8 240.7L711.2 241.8L711.7 242.9L712.1 244.0L712.6 245.1L713.1 246.2L713.5 247.2L714.0 248.2L714.5 249.1L714.9 250.0L715.5 251.1L716.1 252.2L716.7 253.1L717.2 254.0L717.9 254.9L718.5 255.8L719.3 256.7L720.0 257.5L720.8 258.3L721.6 259.1L722.5 259.9L723.4 260.6L724.3 261.3L725.2 261.9L726.1 262.6L727.1 263.2L728.1 263.8L729.1 264.3L730.1 264.9L731.0 265.4L732.0 265.9L732.9 266.3L733.9 266.7L734.9 267.2L735.9 267.6L736.8 267.9L737.8 268.3L738.8 268.7L739.9 269.0L740.9 269.3L741.9 269.6L742.9 269.9L744.0 270.1L745.0 270.4L746.1 270.7L747.2 270.9L748.3 271.2L749.4 271.4L750.6 271.6L751.7 271.8L752.8 272.0L753.9 272.2L755.0 272.3L756.0 272.5L757.1 272.6L758.2 272.7L759.4 272.9L760.7 273.0L761.6 273.1L762.6 273.2L763.6 273.3L764.6 273.3L765.7 273.4L766.8 273.5L767.9 273.6L769.0 273.6L770.2 273.7L771.4 273.8L772.6 273.8L773.8 273.9L775.0 273.9L776.3 274.0L777.3 274.0L778.4 274.1L779.5 274.1L780.6 274.1L781.7 274.2L782.9 274.2L784.0 274.2L785.2 274.2L786.4 274.3L787.6 274.3L788.8 274.3L790.0 274.3L791.3 274.3L792.5 274.3L793.7 274.4L795.0 274.4L796.2 274.4L797.4 274.4L798.7 274.4L799.9 274.4L801.1 274.5L802.3 274.5L803.5 274.5" fill="none" stroke="#9400d3" stroke-width="1.5" stroke-linejoin="round"/>
<path d="M491.5 273.6L492.7 273.5L493.8 273.5L495.0 273.4L496.2 273.4L497.4 273.3L498.6 273.3L499.7 273.2L500.8 273.1L501.9 273.1L503.0 273.0L504.2 272.9L505.3 272.8L506.4 272.8L507.5 272.7L508.6 272.6L509.7 272.5L510.8 272.4L511.9 272.3L513.1 272.2L514.2 272.0L515.3 271.9L516.4 271.7L517.6 271.6L518.7 271.4L519.8 271.2L520.9 271.0L522.1 270.9L523.2 270.7L524.3 270.4L525.4 270.2L526.5 270.0L527.6 269.8L528.7 269.5L529.9 269.3L531.0 269.0L532.1 268.7L533.2 268.4L534.3 268.1L535.3 267.8L536.3 267.4L537.3 267.1L538.3 266.7L539.3 266.3L540.3 265.9L541.2 265.5L542.2 265.0L543.2 264.5L544.2 263.9L545.2 263.4L546.2 262.8L547.2 262.2L548.2 261.5L549.1 260.9L550.0 260.3L551.0 259.6L551.9 258.9L552.7 258.1L553.6 257.4L554.4 256.6L555.2 255.8L555.9 255.0L556.7 254.2L557.4 253.4L558.1 252.6L558.8 251.7L559.6 250.9L560.2 250.0L561.0 249.1L561.7 248.2L562.4 247.3L563.0 246.3L563.7 245.4L564.4 244.4L565.1 243.4L565.8 242.5L566.4 241.5L567.1 240.5L567.7 239.5L568.4 238.5L569.0 237.5L569.6 236.5L570.2 235.4L570.7 234.4L571.2 233.4L571.7 232.4L572.2 231.4L572.7 230.3L573.2 229.2L573.6 228.2L574.1 227.1L574.5 226.0L574.9 224.9L575.3 223.8L575.7 222.7L576.0 221.6L576.4 220.4L576.8 219.3L577.1 218.1L577.5 217.0L577.9 215.9L578.2 214.8L578.6 213.8L579.1 212.7L579.5 211.7L579.9 210.6L580.3 209.6L580.7 208.6L581.1 207.7L581.5 206.7L581.9 205.9L582.3 204.9L582.7 204.0L583.1 203.2L583.6 202.4L584.0 201.5L584.5 200.5L585.1 199.5L585.7 198.5L586.3 197.5L586.9 196.5L587.5 195.6L588.0 194.7L588.6 193.8L589.2 193.0L589.9 192.1L590.5 191.4L591.4 190.5L592.3 189.7L593.2 189.1L594.1 188.5L595.0 188.1L595.8 187.8L596.7 187.6L597.7 187.4L598.6 187.2L599.6 187.2L600.5 187.4L601.3 187.9L602.1 188.4L602.8 189.0L603.4 189.6L604.0 190.4L604.7 191.2L605.3 192.0L605.8 192.9L606.4 193.9L606.9 194.9L607.5 196.0L608.1 197.0L608.7 198.1L609.2 199.0L609.8 200.0L610.3 201.0L610.9 202.0L611.4 203.0L612.0 204.0L612.6 205.0L613.2 205.9L613.8 206.7L614.6 207.7L615.4 208.6L616.3 209.4L617.1 210.2L618.0 211.0L618.9 211.8L619.6 212.5L620.5 213.3L621.3 214.0L622.1 214.7L622.9 215.4L623.8 216.1L624.6 216.8L625.4 217.6L626.3 218.4L627.1 219.3L628.0 220.1L628.8 220.9L629.6 221.6L630.3 222.2L631.1 222.8L631.9 223.4L632.7 223.8L633.5 224.2L634.5 224.6L635.5 224.8L636.5 225.0L637.5 225.0L638.5 224.9L639.5 224.8L640.5 224.7L641.5 224.5L642.5 224.3L643.5 224.1L644.5 224.0L645.5 223.9L646.5 223.9L647.5 223.8L648.5 223.9L649.5 223.9L650.5 224.0L651.5 224.1L652.5 224.3L653.5 224.5L654.5 224.7L655.5 224.8L656.5 224.9L657.5 225.0L658.5 225.0L659.5 224.8L660.5 224.6L661.5 224.2L662.3 223.8L663.1 223.4L663.9 222.8L664.7 222.2L665.4 221.6L666.2 220.9L667.0 220.1L667.9 219.3L668.7 218.4L669.6 217.6L670.4 216.8L671.2 216.1L672.1 215.4L672.9 214.7L673.7 214.0L674.5 213.3L675.4 212.5L676.1 211.8L677.0 211.0L677.9 210.2L678.7 209.4L679.6 208.6L680.4 207.7L681.2 206.7L681.8 205.9L682.4 205.0L683.0 204.0L683.6 203.0L684.1 202.0L684.7 201.0L685.2 200.0L685.8 199.0L686.3 198.1L686.9 197.0L687.5 196.0L688.1 194.9L688.6 193.9L689.2 192.9L689.7 192.0L690.3 191.2L691.0 190.4L691.6 189.6L692.2 189.0L692.9 188.4L693.7 187.9L694.5 187.4L695.4 187.2L696.4 187.2L697.3 187.4L698.3 187.6L699.2 187.8L700.0 188.1L700.9 188.5L701.8 189.1L702.7 189.7L703.6 190.5L704.5 191.4L705.1 192.1L705.8 193.0L706.4 193.8L707.0 194.7L707.5 195.6L708.1 196.5L708.7 197.5L709.3 198.5L709.9 199.5L710.5 200.5L711.0 201.5L711.4 202.4L711.9 203.2L712.3 204.0L712.7 204.9L713.1 205.9L713.5 206.7L713.9 207.7L714.3 208.6L714.7 209.6L715.1 210.6L715.5 211.7L715.9 212.7L716.4 213.8L716.8 214.8L717.1 215.9L717.5 217.0L717.9 218.1L718.2 219.3L718.6 220.4L719.0 221.6L719.3 222.7L719.7 223.8L720.1 224.9L720.5 226.0L720.9 227.1L721.4 228.2L721.8 229.2L722.3 230.3L722.8 231.4L723.3 232.4L723.8 233.4L724.3 234.4L724.8 235.4L725.4 236.5L726.0 237.5L726.6 238.5L727.3 239.5L727.9 240.5L728.6 241.5L729.2 242.5L729.9 243.4L730.6 244.4L731.3 245.4L732.0 246.3L732.6 247.3L733.3 248.2L734.0 249.1L734.8 250.0L735.4 250.9L736.2 251.7L736.9 252.6L737.6 253.4L738.3 254.2L739.1 255.0L739.8 255.8L740.6 256.6L741.4 257.4L742.3 258.1L743.1 258.9L744.0 259.6L745.0 260.3L745.9 260.9L746.8 261.5L747.8 262.2L748.8 262.8L749.8 263.4L750.8 263.9L751.8 264.5L752.8 265.0L753.8 265.5L754.7 265.9L755.7 266.3L756.7 266.7L757.7 267.1L758.7 267.4L759.7 267.8L760.7 268.1L761.8 268.4L762.9 268.7L764.0 269.0L765.1 269.3L766.3 269.5L767.4 269.8L768.5 270.0L769.6 270.2L770.7 270.4L771.8 270.7L772.9 270.9L774.1 271.0L775.2 271.2L776.3 271.4L777.4 271.6L778.6 271.7L779.7 271.9L780.8 272.0L781.9 272.2L783.1 272.3L784.2 272.4L785.3 272.5L786.4 272.6L787.5 272.7L788.6 272.8L789.7 272.8L790.8 272.9L792.0 273.0L793.1 273.1L794.2 273.1L795.3 273.2L796.4 273.3L797.6 273.3L798.8 273.4L800.0 273.4L801.2 273.5L802.3 273.5L803.5 273.6" fill="none" stroke="#ff9600" stroke-width="1.5" stroke-linejoin="round"/>
</g>
<path d="M76.50 275.50v-6.5M76.50 17.00v6.5M154.50 275.50v-6.5M154.50 17.00v6.5M232.50 275.50v-6.5M232.50 17.00v6.5M310.50 275.50v-6.5M310.50 17.00v6.5M388.50 275.50v-6.5M388.50 17.00v6.5M76.50 25.27h6.5M388.50 25.27h-6.5M76.50 59.74h6.5M388.50 59.74h-6.5M76.50 94.20h6.5M388.50 94.20h-6.5M76.50 128.67h6.5M388.50 128.67h-6.5M76.50 163.13h6.5M388.50 163.13h-6.5M76.50 197.60h6.5M388.50 197.60h-6.5M76.50 232.07h6.5M388.50 232.07h-6.5M76.50 266.53h6.5M388.50 266.53h-6.5" fill="none" stroke="#000" stroke-width="0.6"/>
<rect x="76.50" y="17.00" width="312.00" height="258.50" fill="none" stroke="#262626" stroke-width="0.95" stroke-linejoin="round"/>
<path d="M491.50 275.50v-6.5M491.50 17.00v6.5M543.50 275.50v-6.5M543.50 17.00v6.5M595.50 275.50v-6.5M595.50 17.00v6.5M647.50 275.50v-6.5M647.50 17.00v6.5M699.50 275.50v-6.5M699.50 17.00v6.5M751.50 275.50v-6.5M751.50 17.00v6.5M803.50 275.50v-6.5M803.50 17.00v6.5M491.50 275.50h6.5M803.50 275.50h-6.5M491.50 238.57h6.5M803.50 238.57h-6.5M491.50 201.64h6.5M803.50 201.64h-6.5M491.50 164.71h6.5M803.50 164.71h-6.5M491.50 127.78h6.5M803.50 127.78h-6.5M491.50 90.85h6.5M803.50 90.85h-6.5M491.50 53.92h6.5M803.50 53.92h-6.5M491.50 16.99h6.5M803.50 16.99h-6.5" fill="none" stroke="#000" stroke-width="0.6"/>
<rect x="491.50" y="17.00" width="312.00" height="258.50" fill="none" stroke="#262626" stroke-width="0.95" stroke-linejoin="round"/>
<text x="67.40" y="31.52" transform="rotate(0.03 67.40 31.52)" text-anchor="end">1</text>
<text x="67.40" y="65.99" transform="rotate(0.03 67.40 65.99)" text-anchor="end">0.8</text>
<text x="67.40" y="100.45" transform="rotate(0.03 67.40 100.45)" text-anchor="end">0.6</text>
<text x="67.40" y="134.92" transform="rotate(0.03 67.40 134.92)" text-anchor="end">0.4</text>
<text x="67.40" y="169.38" transform="rotate(0.03 67.40 169.38)" text-anchor="end">0.2</text>
<text x="67.40" y="203.85" transform="rotate(0.03 67.40 203.85)" text-anchor="end">0</text>
<text x="67.40" y="238.32" transform="rotate(0.03 67.40 238.32)" text-anchor="end">-0.2</text>
<text x="67.40" y="272.78" transform="rotate(0.03 67.40 272.78)" text-anchor="end">-0.4</text>
<text x="78.80" y="298.10" transform="rotate(0.03 78.80 298.10)" text-anchor="middle">0</text>
<text x="156.80" y="298.10" transform="rotate(0.03 156.80 298.10)" text-anchor="middle">500</text>
<text x="234.80" y="298.10" transform="rotate(0.03 234.80 298.10)" text-anchor="middle">1000</text>
<text x="312.80" y="298.10" transform="rotate(0.03 312.80 298.10)" text-anchor="middle">1500</text>
<text x="390.80" y="298.10" transform="rotate(0.03 390.80 298.10)" text-anchor="middle">2000</text>
<text x="482.40" y="281.75" transform="rotate(0.03 482.40 281.75)" text-anchor="end">0</text>
<text x="482.40" y="244.82" transform="rotate(0.03 482.40 244.82)" text-anchor="end">50</text>
<text x="482.40" y="207.89" transform="rotate(0.03 482.40 207.89)" text-anchor="end">100</text>
<text x="482.40" y="170.96" transform="rotate(0.03 482.40 170.96)" text-anchor="end">150</text>
<text x="482.40" y="134.03" transform="rotate(0.03 482.40 134.03)" text-anchor="end">200</text>
<text x="482.40" y="97.10" transform="rotate(0.03 482.40 97.10)" text-anchor="end">250</text>
<text x="482.40" y="60.17" transform="rotate(0.03 482.40 60.17)" text-anchor="end">300</text>
<text x="482.40" y="23.24" transform="rotate(0.03 482.40 23.24)" text-anchor="end">350</text>
<text x="491.50" y="298.10" transform="rotate(0.03 491.50 298.10)" text-anchor="middle">-0.06</text>
<text x="543.50" y="298.10" transform="rotate(0.03 543.50 298.10)" text-anchor="middle">-0.04</text>
<text x="595.50" y="298.10" transform="rotate(0.03 595.50 298.10)" text-anchor="middle">-0.02</text>
<text x="649.80" y="298.10" transform="rotate(0.03 649.80 298.10)" text-anchor="middle">0</text>
<text x="701.80" y="298.10" transform="rotate(0.03 701.80 298.10)" text-anchor="middle">0.02</text>
<text x="753.80" y="298.10" transform="rotate(0.03 753.80 298.10)" text-anchor="middle">0.04</text>
<text x="805.80" y="298.10" transform="rotate(0.03 805.80 298.10)" text-anchor="middle">0.06</text>
<text x="232.50" y="322.20" transform="rotate(0.03 232.50 322.20)" text-anchor="middle">t</text>
<text x="647.70" y="322.10" transform="rotate(0.03 647.70 322.10)" text-anchor="middle">ω</text>
<text transform="translate(21.0 146.0) rotate(-90)" text-anchor="middle" letter-spacing="0.1">G<tspan font-size="13.1" dy="4.5">AA</tspan><tspan dy="-4.5">(t) / </tspan><tspan font-size="14.2">χ</tspan><tspan font-size="13.1" dy="4.5">0</tspan></text>
<text transform="translate(435.9 145.9) rotate(-90)" text-anchor="middle" letter-spacing="0.1">G<tspan font-size="13.1" dy="4.5">AA</tspan><tspan dy="-4.5">(ω) / </tspan><tspan font-size="14.2">χ</tspan><tspan font-size="13.1" dy="4.5">0</tspan></text>
<text x="335.80" y="40.30" transform="rotate(0.03 335.80 40.30)" text-anchor="end">H=0.002</text>
<rect x="345" y="30.00" width="25" height="8" fill="#ff0000" fill-opacity="0.3"/>
<text x="335.80" y="60.55" transform="rotate(0.03 335.80 60.55)" text-anchor="end">H=0.003</text>
<rect x="345" y="50.30" width="25" height="8" fill="#008040" fill-opacity="0.3"/>
<text x="335.80" y="80.80" transform="rotate(0.03 335.80 80.80)" text-anchor="end">H=0.004</text>
<rect x="345" y="70.60" width="25" height="8" fill="#0000cd" fill-opacity="0.3"/>
<text x="335.80" y="101.05" transform="rotate(0.03 335.80 101.05)" text-anchor="end">H=0.006</text>
<rect x="345" y="90.90" width="25" height="8" fill="#9400d3" fill-opacity="0.3"/>
<text x="335.80" y="121.30" transform="rotate(0.03 335.80 121.30)" text-anchor="end">H=0.01</text>
<rect x="345" y="111.20" width="25" height="8" fill="#ff9600" fill-opacity="0.3"/>
<text x="517.50" y="149.70" transform="rotate(0.03 517.50 149.70)" font-size="18.2">z=0</text>
</svg>
</body></html>
